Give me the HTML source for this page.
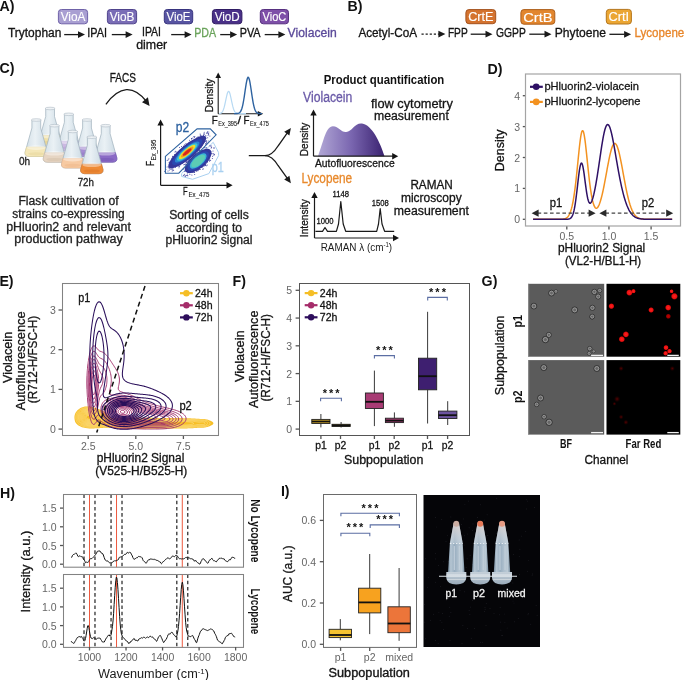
<!DOCTYPE html>
<html><head><meta charset="utf-8"><style>
html,body{margin:0;padding:0;background:#fff;}
svg{display:block;font-family:"Liberation Sans", sans-serif;will-change:transform;}
</style></head><body>
<svg width="685" height="680" viewBox="0 0 685 680">
<rect width="685" height="680" fill="#fff"/>
<text x="-0.60" y="11.10" font-size="14.2" text-anchor="start" fill="#111" font-weight="bold">A)</text>
<rect x="58.40" y="9.50" width="29.20" height="14.30" fill="#a99fd2" stroke="#6f62a8" stroke-width="1" rx="3"/>
<text x="73.00" y="21.20" font-size="12.5" text-anchor="middle" fill="#fff" stroke="#fff" stroke-width="0.15" textLength="24.70" lengthAdjust="spacingAndGlyphs">VioA</text>
<rect x="107.40" y="9.50" width="29.20" height="14.30" fill="#7a6db6" stroke="#4f438c" stroke-width="1" rx="3"/>
<text x="122.00" y="21.20" font-size="12.5" text-anchor="middle" fill="#fff" stroke="#fff" stroke-width="0.15" textLength="24.70" lengthAdjust="spacingAndGlyphs">VioB</text>
<rect x="164.30" y="9.50" width="28.40" height="14.30" fill="#5754a2" stroke="#37337e" stroke-width="1" rx="3"/>
<text x="178.50" y="21.20" font-size="12.5" text-anchor="middle" fill="#fff" stroke="#fff" stroke-width="0.15" textLength="23.90" lengthAdjust="spacingAndGlyphs">VioE</text>
<rect x="212.40" y="9.50" width="29.50" height="14.30" fill="#4a3088" stroke="#2f1b63" stroke-width="1" rx="3"/>
<text x="227.15" y="21.20" font-size="12.5" text-anchor="middle" fill="#fff" stroke="#fff" stroke-width="0.15" textLength="25.00" lengthAdjust="spacingAndGlyphs">VioD</text>
<rect x="260.30" y="9.50" width="28.20" height="14.30" fill="#7e4fa8" stroke="#573080" stroke-width="1" rx="3"/>
<text x="274.40" y="21.20" font-size="12.5" text-anchor="middle" fill="#fff" stroke="#fff" stroke-width="0.15" textLength="23.70" lengthAdjust="spacingAndGlyphs">VioC</text>
<text x="8.00" y="36.60" font-size="12" text-anchor="start" fill="#141414" stroke="#141414" stroke-width="0.3" textLength="53.30" lengthAdjust="spacingAndGlyphs">Trytophan</text>
<line x1="64.20" y1="34.60" x2="78.50" y2="34.60" stroke="#1a1a1a" stroke-width="1.3"/>
<path d="M85.00,34.60 L78.00,31.20 L78.00,38.00 Z" fill="#1a1a1a" stroke="none" stroke-width="1"/>
<text x="87.30" y="36.60" font-size="12" text-anchor="start" fill="#141414" stroke="#141414" stroke-width="0.3" textLength="19.70" lengthAdjust="spacingAndGlyphs">IPAI</text>
<line x1="111.80" y1="34.60" x2="126.10" y2="34.60" stroke="#1a1a1a" stroke-width="1.3"/>
<path d="M132.60,34.60 L125.60,31.20 L125.60,38.00 Z" fill="#1a1a1a" stroke="none" stroke-width="1"/>
<text x="151.50" y="35.80" font-size="12" text-anchor="middle" fill="#141414" stroke="#141414" stroke-width="0.3" textLength="19.00" lengthAdjust="spacingAndGlyphs">IPAI</text>
<text x="151.70" y="48.90" font-size="12" text-anchor="middle" fill="#141414" stroke="#141414" stroke-width="0.3" textLength="31.00" lengthAdjust="spacingAndGlyphs">dimer</text>
<line x1="171.20" y1="34.60" x2="185.10" y2="34.60" stroke="#1a1a1a" stroke-width="1.3"/>
<path d="M191.60,34.60 L184.60,31.20 L184.60,38.00 Z" fill="#1a1a1a" stroke="none" stroke-width="1"/>
<text x="194.20" y="36.60" font-size="12" text-anchor="start" fill="#6aa35b" stroke="#6aa35b" stroke-width="0.3" textLength="21.90" lengthAdjust="spacingAndGlyphs">PDA</text>
<line x1="220.20" y1="34.60" x2="230.60" y2="34.60" stroke="#1a1a1a" stroke-width="1.3"/>
<path d="M237.10,34.60 L230.10,31.20 L230.10,38.00 Z" fill="#1a1a1a" stroke="none" stroke-width="1"/>
<text x="239.70" y="36.60" font-size="12" text-anchor="start" fill="#141414" stroke="#141414" stroke-width="0.3" textLength="20.90" lengthAdjust="spacingAndGlyphs">PVA</text>
<line x1="264.70" y1="34.60" x2="278.90" y2="34.60" stroke="#1a1a1a" stroke-width="1.3"/>
<path d="M285.40,34.60 L278.40,31.20 L278.40,38.00 Z" fill="#1a1a1a" stroke="none" stroke-width="1"/>
<text x="287.60" y="36.60" font-size="12" text-anchor="start" fill="#5b4a9a" stroke="#5b4a9a" stroke-width="0.3" textLength="49.10" lengthAdjust="spacingAndGlyphs">Violacein</text>
<text x="347.60" y="10.90" font-size="14.2" text-anchor="start" fill="#111" font-weight="bold">B)</text>
<rect x="465.90" y="9.60" width="29.80" height="14.10" fill="#d4732f" stroke="#a4521e" stroke-width="1" rx="3"/>
<text x="480.80" y="21.10" font-size="12.5" text-anchor="middle" fill="#fff" stroke="#fff" stroke-width="0.15" textLength="25.30" lengthAdjust="spacingAndGlyphs">CrtE</text>
<rect x="520.90" y="9.60" width="33.90" height="14.60" fill="#e2862e" stroke="#ad5f1c" stroke-width="1" rx="3"/>
<text x="537.85" y="21.60" font-size="12.5" text-anchor="middle" fill="#fff" stroke="#fff" stroke-width="0.15" textLength="29.40" lengthAdjust="spacingAndGlyphs">CrtB</text>
<rect x="606.30" y="9.40" width="25.10" height="14.60" fill="#eba633" stroke="#b5761c" stroke-width="1" rx="3"/>
<text x="618.85" y="21.40" font-size="12.5" text-anchor="middle" fill="#fff" stroke="#fff" stroke-width="0.15" textLength="20.60" lengthAdjust="spacingAndGlyphs">CrtI</text>
<text x="358.40" y="36.60" font-size="12" text-anchor="start" fill="#141414" stroke="#141414" stroke-width="0.3" textLength="58.70" lengthAdjust="spacingAndGlyphs">Acetyl-CoA</text>
<line x1="421.50" y1="34.10" x2="438.90" y2="34.10" stroke="#1a1a1a" stroke-width="1.3" stroke-dasharray="2.2,1.9"/>
<path d="M445.40,34.10 L438.40,30.70 L438.40,37.50 Z" fill="#1a1a1a" stroke="none" stroke-width="1"/>
<text x="447.90" y="36.60" font-size="12" text-anchor="start" fill="#141414" stroke="#141414" stroke-width="0.3" textLength="19.80" lengthAdjust="spacingAndGlyphs">FPP</text>
<line x1="470.70" y1="34.20" x2="486.00" y2="34.20" stroke="#1a1a1a" stroke-width="1.3"/>
<path d="M492.50,34.20 L485.50,30.80 L485.50,37.60 Z" fill="#1a1a1a" stroke="none" stroke-width="1"/>
<text x="496.00" y="36.60" font-size="12" text-anchor="start" fill="#141414" stroke="#141414" stroke-width="0.3" textLength="29.80" lengthAdjust="spacingAndGlyphs">GGPP</text>
<line x1="529.30" y1="34.20" x2="545.00" y2="34.20" stroke="#1a1a1a" stroke-width="1.3"/>
<path d="M551.50,34.20 L544.50,30.80 L544.50,37.60 Z" fill="#1a1a1a" stroke="none" stroke-width="1"/>
<text x="554.80" y="36.60" font-size="12" text-anchor="start" fill="#141414" stroke="#141414" stroke-width="0.3" textLength="51.10" lengthAdjust="spacingAndGlyphs">Phytoene</text>
<line x1="609.40" y1="34.30" x2="624.60" y2="34.30" stroke="#1a1a1a" stroke-width="1.3"/>
<path d="M631.10,34.30 L624.10,30.90 L624.10,37.70 Z" fill="#1a1a1a" stroke="none" stroke-width="1"/>
<text x="634.50" y="36.60" font-size="12" text-anchor="start" fill="#e8862a" stroke="#e8862a" stroke-width="0.3" textLength="49.80" lengthAdjust="spacingAndGlyphs">Lycopene</text>
<text x="-0.60" y="73.40" font-size="14.2" text-anchor="start" fill="#111" font-weight="bold">C)</text>
<defs><linearGradient id="glass" x1="0" x2="1" y1="0" y2="0"><stop offset="0" stop-color="#d2dfe7"/><stop offset="0.45" stop-color="#eaf1f5"/><stop offset="1" stop-color="#c9d8e2"/></linearGradient><linearGradient id="vgrad" x1="0" x2="1" y1="0" y2="0"><stop offset="0" stop-color="#b2a8d6"/><stop offset="0.5" stop-color="#7a66b0"/><stop offset="1" stop-color="#3a2270"/></linearGradient></defs>
<path d="M45.70,108.50 L45.70,116.50 L38.90,140.80 Q38.40,144.80 42.90,145.00 L57.30,145.00 Q61.80,144.80 61.30,140.80 L54.50,116.50 L54.50,108.50 Z" fill="url(#glass)" stroke="#9fb0bc" stroke-width="0.7"/>
<path d="M40.38,135.50 L38.90,140.80 Q38.40,144.80 42.90,145.00 L57.30,145.00 Q61.80,144.80 61.30,140.80 L59.82,135.50 Z" fill="#f1e1a8" stroke="#e0cc88" stroke-width="0.6"/>
<ellipse cx="50.10" cy="136.10" rx="9.52" ry="2.3" fill="#ffffff" opacity="0.4"/>
<ellipse cx="50.10" cy="142.30" rx="8.20" ry="1.6" fill="#e0cc88" opacity="0.5"/>
<ellipse cx="50.10" cy="108.50" rx="5.00" ry="1.3" fill="#eef2f5" stroke="#aebbc4" stroke-width="0.6"/>
<path d="M64.40,114.30 L64.40,122.30 L57.60,146.60 Q57.10,150.60 61.60,150.80 L76.00,150.80 Q80.50,150.60 80.00,146.60 L73.20,122.30 L73.20,114.30 Z" fill="url(#glass)" stroke="#9fb0bc" stroke-width="0.7"/>
<path d="M59.08,141.30 L57.60,146.60 Q57.10,150.60 61.60,150.80 L76.00,150.80 Q80.50,150.60 80.00,146.60 L78.52,141.30 Z" fill="#cbb8e2" stroke="#b6a0d6" stroke-width="0.6"/>
<ellipse cx="68.80" cy="141.90" rx="9.52" ry="2.3" fill="#ffffff" opacity="0.4"/>
<ellipse cx="68.80" cy="148.10" rx="8.20" ry="1.6" fill="#b6a0d6" opacity="0.5"/>
<ellipse cx="68.80" cy="114.30" rx="5.00" ry="1.3" fill="#eef2f5" stroke="#aebbc4" stroke-width="0.6"/>
<path d="M31.90,120.00 L31.90,128.00 L25.10,152.30 Q24.60,156.30 29.10,156.50 L43.50,156.50 Q48.00,156.30 47.50,152.30 L40.70,128.00 L40.70,120.00 Z" fill="url(#glass)" stroke="#9fb0bc" stroke-width="0.7"/>
<path d="M26.58,147.00 L25.10,152.30 Q24.60,156.30 29.10,156.50 L43.50,156.50 Q48.00,156.30 47.50,152.30 L46.02,147.00 Z" fill="#f4e7b8" stroke="#e6d59a" stroke-width="0.6"/>
<ellipse cx="36.30" cy="147.60" rx="9.52" ry="2.3" fill="#ffffff" opacity="0.4"/>
<ellipse cx="36.30" cy="153.80" rx="8.20" ry="1.6" fill="#e6d59a" opacity="0.5"/>
<ellipse cx="36.30" cy="120.00" rx="5.00" ry="1.3" fill="#eef2f5" stroke="#aebbc4" stroke-width="0.6"/>
<path d="M82.60,120.00 L82.60,128.00 L75.80,152.30 Q75.30,156.30 79.80,156.50 L94.20,156.50 Q98.70,156.30 98.20,152.30 L91.40,128.00 L91.40,120.00 Z" fill="url(#glass)" stroke="#9fb0bc" stroke-width="0.7"/>
<path d="M77.28,147.00 L75.80,152.30 Q75.30,156.30 79.80,156.50 L94.20,156.50 Q98.70,156.30 98.20,152.30 L96.72,147.00 Z" fill="#a58dd2" stroke="#9078c4" stroke-width="0.6"/>
<ellipse cx="87.00" cy="147.60" rx="9.52" ry="2.3" fill="#ffffff" opacity="0.4"/>
<ellipse cx="87.00" cy="153.80" rx="8.20" ry="1.6" fill="#9078c4" opacity="0.5"/>
<ellipse cx="87.00" cy="120.00" rx="5.00" ry="1.3" fill="#eef2f5" stroke="#aebbc4" stroke-width="0.6"/>
<path d="M50.10,125.70 L50.10,133.70 L43.30,158.00 Q42.80,162.00 47.30,162.20 L61.70,162.20 Q66.20,162.00 65.70,158.00 L58.90,133.70 L58.90,125.70 Z" fill="url(#glass)" stroke="#9fb0bc" stroke-width="0.7"/>
<path d="M44.78,152.70 L43.30,158.00 Q42.80,162.00 47.30,162.20 L61.70,162.20 Q66.20,162.00 65.70,158.00 L64.22,152.70 Z" fill="#e6d5c3" stroke="#d3bfa8" stroke-width="0.6"/>
<ellipse cx="54.50" cy="153.30" rx="9.52" ry="2.3" fill="#ffffff" opacity="0.4"/>
<ellipse cx="54.50" cy="159.50" rx="8.20" ry="1.6" fill="#d3bfa8" opacity="0.5"/>
<ellipse cx="54.50" cy="125.70" rx="5.00" ry="1.3" fill="#eef2f5" stroke="#aebbc4" stroke-width="0.6"/>
<path d="M101.30,125.70 L101.30,133.70 L94.50,158.00 Q94.00,162.00 98.50,162.20 L112.90,162.20 Q117.40,162.00 116.90,158.00 L110.10,133.70 L110.10,125.70 Z" fill="url(#glass)" stroke="#9fb0bc" stroke-width="0.7"/>
<path d="M95.98,152.70 L94.50,158.00 Q94.00,162.00 98.50,162.20 L112.90,162.20 Q117.40,162.00 116.90,158.00 L115.42,152.70 Z" fill="#8b6bc6" stroke="#7456b4" stroke-width="0.6"/>
<ellipse cx="105.70" cy="153.30" rx="9.52" ry="2.3" fill="#ffffff" opacity="0.4"/>
<ellipse cx="105.70" cy="159.50" rx="8.20" ry="1.6" fill="#7456b4" opacity="0.5"/>
<ellipse cx="105.70" cy="125.70" rx="5.00" ry="1.3" fill="#eef2f5" stroke="#aebbc4" stroke-width="0.6"/>
<path d="M68.30,131.50 L68.30,139.50 L61.50,163.80 Q61.00,167.80 65.50,168.00 L79.90,168.00 Q84.40,167.80 83.90,163.80 L77.10,139.50 L77.10,131.50 Z" fill="url(#glass)" stroke="#9fb0bc" stroke-width="0.7"/>
<path d="M62.98,158.50 L61.50,163.80 Q61.00,167.80 65.50,168.00 L79.90,168.00 Q84.40,167.80 83.90,163.80 L82.42,158.50 Z" fill="#f7caa2" stroke="#edb588" stroke-width="0.6"/>
<ellipse cx="72.70" cy="159.10" rx="9.52" ry="2.3" fill="#ffffff" opacity="0.4"/>
<ellipse cx="72.70" cy="165.30" rx="8.20" ry="1.6" fill="#edb588" opacity="0.5"/>
<ellipse cx="72.70" cy="131.50" rx="5.00" ry="1.3" fill="#eef2f5" stroke="#aebbc4" stroke-width="0.6"/>
<path d="M87.40,137.20 L87.40,145.20 L80.60,169.50 Q80.10,173.50 84.60,173.70 L99.00,173.70 Q103.50,173.50 103.00,169.50 L96.20,145.20 L96.20,137.20 Z" fill="url(#glass)" stroke="#9fb0bc" stroke-width="0.7"/>
<path d="M82.08,164.20 L80.60,169.50 Q80.10,173.50 84.60,173.70 L99.00,173.70 Q103.50,173.50 103.00,169.50 L101.52,164.20 Z" fill="#ef8b36" stroke="#dc7424" stroke-width="0.6"/>
<ellipse cx="91.80" cy="164.80" rx="9.52" ry="2.3" fill="#ffffff" opacity="0.4"/>
<ellipse cx="91.80" cy="171.00" rx="8.20" ry="1.6" fill="#dc7424" opacity="0.5"/>
<ellipse cx="91.80" cy="137.20" rx="5.00" ry="1.3" fill="#eef2f5" stroke="#aebbc4" stroke-width="0.6"/>
<text x="24.60" y="164.60" font-size="11" text-anchor="middle" fill="#222" stroke="#222" stroke-width="0.3" textLength="11.20" lengthAdjust="spacingAndGlyphs">0h</text>
<text x="85.80" y="186.40" font-size="11" text-anchor="middle" fill="#222" stroke="#222" stroke-width="0.3" textLength="16.30" lengthAdjust="spacingAndGlyphs">72h</text>
<text x="122.80" y="82.00" font-size="12" text-anchor="middle" fill="#141414" stroke="#141414" stroke-width="0.3" textLength="26.20" lengthAdjust="spacingAndGlyphs">FACS</text>
<path d="M105.9,104.3 Q126.5,76.5 146.5,101.5" fill="none" stroke="#1a1a1a" stroke-width="1.3"/>
<path d="M149.6,106 L142,102.3 L147.9,97.2 Z" fill="#1a1a1a" stroke="none" stroke-width="1"/>
<line x1="160.60" y1="185.30" x2="228.00" y2="185.30" stroke="#1a1a1a" stroke-width="1.2"/>
<path d="M232.6,185.3 L226.5,182.1 L226.5,188.5 Z" fill="#141414" stroke="none" stroke-width="1"/>
<line x1="160.60" y1="185.30" x2="160.60" y2="125.00" stroke="#1a1a1a" stroke-width="1.2"/>
<path d="M160.6,119.4 L157.4,125.5 L163.8,125.5 Z" fill="#141414" stroke="none" stroke-width="1"/>
<path d="M181.60,173.60 L213.20,142.30 L218.60,152.60 L218.60,155.60 L208.90,173.60 L192.50,179.30 L181.60,176.40 Z" fill="none" stroke="#a9d0f0" stroke-width="1.0"/>
<circle cx="175.2" cy="156.0" r="0.5" fill="#3b3d9c"/>
<circle cx="178.4" cy="165.9" r="0.5" fill="#3b3d9c"/>
<circle cx="205.6" cy="138.6" r="0.5" fill="#3b3d9c"/>
<circle cx="201.9" cy="143.6" r="0.5" fill="#3b3d9c"/>
<circle cx="205.8" cy="143.6" r="0.5" fill="#3b3d9c"/>
<circle cx="203.7" cy="135.2" r="0.5" fill="#3b3d9c"/>
<circle cx="203.4" cy="137.2" r="0.5" fill="#3b3d9c"/>
<circle cx="186.9" cy="162.4" r="0.5" fill="#3b3d9c"/>
<circle cx="185.1" cy="160.7" r="0.5" fill="#3b3d9c"/>
<circle cx="187.0" cy="166.7" r="0.5" fill="#3b3d9c"/>
<circle cx="186.0" cy="168.9" r="0.5" fill="#3b3d9c"/>
<circle cx="194.8" cy="152.7" r="0.5" fill="#3b3d9c"/>
<circle cx="197.8" cy="169.8" r="0.5" fill="#3b3d9c"/>
<circle cx="198.9" cy="169.2" r="0.5" fill="#3b3d9c"/>
<circle cx="203.9" cy="166.6" r="0.5" fill="#3b3d9c"/>
<circle cx="196.9" cy="137.7" r="0.5" fill="#3b3d9c"/>
<circle cx="208.6" cy="150.9" r="0.5" fill="#3b3d9c"/>
<circle cx="183.9" cy="146.5" r="0.5" fill="#3b3d9c"/>
<circle cx="205.4" cy="138.8" r="0.5" fill="#3b3d9c"/>
<circle cx="183.4" cy="169.0" r="0.5" fill="#3b3d9c"/>
<circle cx="190.4" cy="159.6" r="0.5" fill="#3b3d9c"/>
<circle cx="187.4" cy="173.0" r="0.5" fill="#3b3d9c"/>
<circle cx="184.0" cy="175.3" r="0.5" fill="#3b3d9c"/>
<circle cx="191.3" cy="159.3" r="0.5" fill="#3b3d9c"/>
<circle cx="199.6" cy="148.7" r="0.5" fill="#3b3d9c"/>
<circle cx="175.4" cy="154.8" r="0.5" fill="#3b3d9c"/>
<circle cx="199.4" cy="149.1" r="0.5" fill="#3b3d9c"/>
<circle cx="185.4" cy="146.3" r="0.5" fill="#3b3d9c"/>
<circle cx="177.2" cy="165.2" r="0.5" fill="#3b3d9c"/>
<circle cx="189.7" cy="171.0" r="0.5" fill="#3b3d9c"/>
<circle cx="191.7" cy="138.6" r="0.5" fill="#3b3d9c"/>
<circle cx="190.9" cy="171.7" r="0.5" fill="#3b3d9c"/>
<circle cx="206.9" cy="132.7" r="0.5" fill="#3b3d9c"/>
<circle cx="192.6" cy="154.9" r="0.5" fill="#3b3d9c"/>
<circle cx="170.0" cy="161.9" r="0.5" fill="#3b3d9c"/>
<circle cx="175.8" cy="165.1" r="0.5" fill="#3b3d9c"/>
<circle cx="203.5" cy="135.7" r="0.5" fill="#3b3d9c"/>
<circle cx="186.0" cy="165.1" r="0.5" fill="#3b3d9c"/>
<circle cx="204.1" cy="151.1" r="0.5" fill="#3b3d9c"/>
<circle cx="197.1" cy="150.9" r="0.5" fill="#3b3d9c"/>
<circle cx="203.2" cy="143.6" r="0.5" fill="#3b3d9c"/>
<circle cx="209.2" cy="154.7" r="0.5" fill="#3b3d9c"/>
<circle cx="182.0" cy="162.7" r="0.5" fill="#3b3d9c"/>
<circle cx="198.9" cy="148.1" r="0.5" fill="#3b3d9c"/>
<circle cx="204.3" cy="138.9" r="0.5" fill="#3b3d9c"/>
<circle cx="209.8" cy="159.0" r="0.5" fill="#3b3d9c"/>
<circle cx="179.3" cy="164.7" r="0.5" fill="#3b3d9c"/>
<circle cx="208.4" cy="133.8" r="0.5" fill="#3b3d9c"/>
<circle cx="204.5" cy="141.9" r="0.5" fill="#3b3d9c"/>
<circle cx="189.6" cy="158.0" r="0.5" fill="#3b3d9c"/>
<circle cx="209.2" cy="152.6" r="0.5" fill="#3b3d9c"/>
<circle cx="209.4" cy="158.9" r="0.5" fill="#3b3d9c"/>
<circle cx="171.7" cy="163.7" r="0.5" fill="#3b3d9c"/>
<circle cx="188.0" cy="159.0" r="0.5" fill="#3b3d9c"/>
<circle cx="199.0" cy="149.1" r="0.5" fill="#3b3d9c"/>
<circle cx="195.7" cy="153.7" r="0.5" fill="#3b3d9c"/>
<circle cx="189.7" cy="142.8" r="0.5" fill="#3b3d9c"/>
<circle cx="197.9" cy="150.5" r="0.5" fill="#3b3d9c"/>
<circle cx="205.5" cy="165.3" r="0.5" fill="#3b3d9c"/>
<circle cx="204.3" cy="139.1" r="0.5" fill="#3b3d9c"/>
<circle cx="190.1" cy="157.3" r="0.5" fill="#3b3d9c"/>
<circle cx="185.6" cy="175.9" r="0.5" fill="#3b3d9c"/>
<circle cx="211.6" cy="145.9" r="0.5" fill="#3b3d9c"/>
<circle cx="193.2" cy="154.5" r="0.5" fill="#3b3d9c"/>
<circle cx="173.4" cy="158.3" r="0.5" fill="#3b3d9c"/>
<circle cx="184.6" cy="174.3" r="0.5" fill="#3b3d9c"/>
<circle cx="213.2" cy="153.6" r="0.5" fill="#3b3d9c"/>
<circle cx="195.5" cy="151.8" r="0.5" fill="#3b3d9c"/>
<circle cx="207.6" cy="161.3" r="0.5" fill="#3b3d9c"/>
<circle cx="197.6" cy="153.2" r="0.5" fill="#3b3d9c"/>
<circle cx="191.5" cy="172.1" r="0.5" fill="#3b3d9c"/>
<circle cx="209.4" cy="160.7" r="0.5" fill="#3b3d9c"/>
<circle cx="197.9" cy="138.8" r="0.5" fill="#3b3d9c"/>
<circle cx="199.4" cy="152.6" r="0.5" fill="#3b3d9c"/>
<circle cx="194.6" cy="172.4" r="0.5" fill="#3b3d9c"/>
<circle cx="202.9" cy="139.5" r="0.5" fill="#3b3d9c"/>
<circle cx="184.5" cy="171.2" r="0.5" fill="#3b3d9c"/>
<circle cx="203.0" cy="150.2" r="0.5" fill="#3b3d9c"/>
<circle cx="202.2" cy="165.9" r="0.5" fill="#3b3d9c"/>
<circle cx="171.6" cy="161.1" r="0.5" fill="#3b3d9c"/>
<circle cx="201.8" cy="145.8" r="0.5" fill="#3b3d9c"/>
<circle cx="188.5" cy="171.8" r="0.5" fill="#3b3d9c"/>
<circle cx="187.8" cy="175.7" r="0.5" fill="#3b3d9c"/>
<circle cx="185.4" cy="170.2" r="0.5" fill="#3b3d9c"/>
<circle cx="174.5" cy="165.3" r="0.5" fill="#3b3d9c"/>
<circle cx="188.4" cy="144.1" r="0.5" fill="#3b3d9c"/>
<circle cx="180.3" cy="149.4" r="0.5" fill="#3b3d9c"/>
<circle cx="170.4" cy="165.2" r="0.5" fill="#3b3d9c"/>
<circle cx="206.5" cy="142.0" r="0.5" fill="#3b3d9c"/>
<circle cx="188.3" cy="158.7" r="0.5" fill="#3b3d9c"/>
<circle cx="185.2" cy="168.7" r="0.5" fill="#3b3d9c"/>
<circle cx="186.1" cy="175.6" r="0.5" fill="#3b3d9c"/>
<circle cx="185.8" cy="171.1" r="0.5" fill="#3b3d9c"/>
<circle cx="185.7" cy="169.9" r="0.5" fill="#3b3d9c"/>
<circle cx="175.0" cy="151.9" r="0.5" fill="#3b3d9c"/>
<circle cx="203.2" cy="168.7" r="0.5" fill="#3b3d9c"/>
<circle cx="194.8" cy="136.4" r="0.5" fill="#3b3d9c"/>
<circle cx="174.1" cy="165.6" r="0.5" fill="#3b3d9c"/>
<circle cx="203.2" cy="142.0" r="0.5" fill="#3b3d9c"/>
<circle cx="206.1" cy="147.5" r="0.5" fill="#3b3d9c"/>
<circle cx="172.5" cy="156.2" r="0.5" fill="#3b3d9c"/>
<circle cx="207.5" cy="132.8" r="0.5" fill="#3b3d9c"/>
<circle cx="172.2" cy="171.1" r="0.5" fill="#3b3d9c"/>
<circle cx="193.9" cy="136.6" r="0.5" fill="#3b3d9c"/>
<circle cx="169.6" cy="165.9" r="0.5" fill="#3b3d9c"/>
<circle cx="184.0" cy="161.5" r="0.5" fill="#3b3d9c"/>
<circle cx="187.2" cy="167.9" r="0.5" fill="#3b3d9c"/>
<circle cx="182.9" cy="161.9" r="0.5" fill="#3b3d9c"/>
<circle cx="211.2" cy="153.4" r="0.5" fill="#3b3d9c"/>
<circle cx="211.1" cy="147.9" r="0.5" fill="#3b3d9c"/>
<circle cx="203.7" cy="140.1" r="0.5" fill="#3b3d9c"/>
<circle cx="208.8" cy="158.0" r="0.5" fill="#3b3d9c"/>
<circle cx="191.7" cy="138.5" r="0.5" fill="#3b3d9c"/>
<circle cx="198.9" cy="138.5" r="0.5" fill="#3b3d9c"/>
<circle cx="206.4" cy="141.0" r="0.5" fill="#3b3d9c"/>
<circle cx="171.8" cy="169.2" r="0.5" fill="#3b3d9c"/>
<circle cx="168.2" cy="159.8" r="0.5" fill="#3b3d9c"/>
<circle cx="201.4" cy="151.8" r="0.5" fill="#3b3d9c"/>
<circle cx="168.0" cy="171.1" r="0.5" fill="#3b3d9c"/>
<circle cx="201.6" cy="136.0" r="0.5" fill="#3b3d9c"/>
<circle cx="171.4" cy="164.0" r="0.5" fill="#3b3d9c"/>
<circle cx="198.4" cy="148.9" r="0.5" fill="#3b3d9c"/>
<circle cx="184.7" cy="161.1" r="0.5" fill="#3b3d9c"/>
<circle cx="186.8" cy="161.9" r="0.5" fill="#3b3d9c"/>
<circle cx="181.3" cy="163.1" r="0.5" fill="#3b3d9c"/>
<circle cx="203.5" cy="139.1" r="0.5" fill="#3b3d9c"/>
<circle cx="207.3" cy="162.2" r="0.5" fill="#3b3d9c"/>
<circle cx="208.2" cy="141.1" r="0.5" fill="#3b3d9c"/>
<circle cx="186.7" cy="171.3" r="0.5" fill="#3b3d9c"/>
<circle cx="186.6" cy="170.7" r="0.5" fill="#3b3d9c"/>
<circle cx="194.7" cy="174.4" r="0.5" fill="#3b3d9c"/>
<circle cx="185.4" cy="164.1" r="0.5" fill="#3b3d9c"/>
<circle cx="204.2" cy="140.5" r="0.5" fill="#3b3d9c"/>
<circle cx="182.7" cy="148.4" r="0.5" fill="#3b3d9c"/>
<circle cx="202.5" cy="143.0" r="0.5" fill="#3b3d9c"/>
<circle cx="186.1" cy="161.3" r="0.5" fill="#3b3d9c"/>
<circle cx="186.6" cy="159.9" r="0.5" fill="#3b3d9c"/>
<circle cx="173.8" cy="165.7" r="0.5" fill="#3b3d9c"/>
<circle cx="208.8" cy="132.0" r="0.5" fill="#3b3d9c"/>
<circle cx="202.0" cy="138.0" r="0.5" fill="#3b3d9c"/>
<circle cx="203.9" cy="138.0" r="0.5" fill="#3b3d9c"/>
<circle cx="169.5" cy="166.7" r="0.5" fill="#3b3d9c"/>
<circle cx="205.2" cy="137.2" r="0.5" fill="#3b3d9c"/>
<circle cx="177.0" cy="164.9" r="0.5" fill="#3b3d9c"/>
<circle cx="185.5" cy="160.3" r="0.5" fill="#3b3d9c"/>
<circle cx="168.1" cy="166.4" r="0.5" fill="#3b3d9c"/>
<circle cx="190.4" cy="157.7" r="0.5" fill="#3b3d9c"/>
<circle cx="196.9" cy="170.1" r="0.5" fill="#3b3d9c"/>
<circle cx="192.5" cy="157.8" r="0.5" fill="#3b3d9c"/>
<circle cx="200.0" cy="152.5" r="0.5" fill="#3b3d9c"/>
<circle cx="191.9" cy="156.4" r="0.5" fill="#3b3d9c"/>
<circle cx="187.3" cy="169.3" r="0.5" fill="#3b3d9c"/>
<circle cx="189.6" cy="140.3" r="0.5" fill="#3b3d9c"/>
<circle cx="205.0" cy="148.9" r="0.5" fill="#3b3d9c"/>
<circle cx="205.0" cy="165.5" r="0.5" fill="#3b3d9c"/>
<circle cx="180.1" cy="163.6" r="0.5" fill="#3b3d9c"/>
<circle cx="165.5" cy="166.5" r="0.5" fill="#3b3d9c"/>
<circle cx="188.2" cy="160.5" r="0.5" fill="#3b3d9c"/>
<circle cx="188.2" cy="144.2" r="0.5" fill="#3b3d9c"/>
<circle cx="185.4" cy="170.1" r="0.5" fill="#3b3d9c"/>
<circle cx="193.4" cy="157.1" r="0.5" fill="#3b3d9c"/>
<circle cx="189.3" cy="157.5" r="0.5" fill="#3b3d9c"/>
<circle cx="193.4" cy="156.8" r="0.5" fill="#3b3d9c"/>
<circle cx="192.5" cy="172.4" r="0.5" fill="#3b3d9c"/>
<circle cx="184.7" cy="144.7" r="0.5" fill="#3b3d9c"/>
<circle cx="212.0" cy="153.8" r="0.5" fill="#3b3d9c"/>
<circle cx="182.7" cy="148.0" r="0.5" fill="#3b3d9c"/>
<circle cx="205.9" cy="137.0" r="0.5" fill="#3b3d9c"/>
<circle cx="176.3" cy="154.3" r="0.5" fill="#3b3d9c"/>
<circle cx="199.8" cy="169.6" r="0.5" fill="#3b3d9c"/>
<circle cx="171.0" cy="167.4" r="0.5" fill="#3b3d9c"/>
<circle cx="199.1" cy="152.1" r="0.5" fill="#3b3d9c"/>
<circle cx="214.0" cy="148.6" r="0.5" fill="#3b3d9c"/>
<circle cx="206.9" cy="133.5" r="0.5" fill="#3b3d9c"/>
<circle cx="194.9" cy="153.0" r="0.5" fill="#3b3d9c"/>
<circle cx="186.9" cy="166.7" r="0.5" fill="#3b3d9c"/>
<circle cx="203.2" cy="136.0" r="0.5" fill="#3b3d9c"/>
<circle cx="165.9" cy="169.4" r="0.5" fill="#3b3d9c"/>
<circle cx="205.0" cy="165.6" r="0.5" fill="#3b3d9c"/>
<circle cx="210.8" cy="151.5" r="0.5" fill="#3b3d9c"/>
<circle cx="171.6" cy="167.7" r="0.5" fill="#3b3d9c"/>
<circle cx="181.7" cy="162.8" r="0.5" fill="#3b3d9c"/>
<circle cx="208.6" cy="134.2" r="0.5" fill="#3b3d9c"/>
<circle cx="212.6" cy="156.3" r="0.5" fill="#3b3d9c"/>
<circle cx="206.1" cy="148.0" r="0.5" fill="#3b3d9c"/>
<circle cx="176.6" cy="166.0" r="0.5" fill="#3b3d9c"/>
<circle cx="193.9" cy="172.4" r="0.5" fill="#3b3d9c"/>
<circle cx="203.7" cy="140.5" r="0.5" fill="#3b3d9c"/>
<circle cx="187.4" cy="161.8" r="0.5" fill="#3b3d9c"/>
<circle cx="201.3" cy="166.8" r="0.5" fill="#3b3d9c"/>
<circle cx="178.9" cy="164.4" r="0.5" fill="#3b3d9c"/>
<circle cx="198.5" cy="150.0" r="0.5" fill="#3b3d9c"/>
<circle cx="210.1" cy="146.3" r="0.5" fill="#3b3d9c"/>
<circle cx="207.7" cy="137.8" r="0.5" fill="#3b3d9c"/>
<circle cx="193.8" cy="155.5" r="0.5" fill="#3b3d9c"/>
<circle cx="209.9" cy="153.4" r="0.5" fill="#3b3d9c"/>
<circle cx="188.6" cy="170.7" r="0.5" fill="#3b3d9c"/>
<circle cx="182.2" cy="148.3" r="0.5" fill="#3b3d9c"/>
<circle cx="188.6" cy="162.2" r="0.5" fill="#3b3d9c"/>
<circle cx="175.5" cy="167.3" r="0.5" fill="#3b3d9c"/>
<circle cx="194.8" cy="152.8" r="0.5" fill="#3b3d9c"/>
<circle cx="205.1" cy="164.3" r="0.5" fill="#3b3d9c"/>
<circle cx="185.1" cy="176.2" r="0.5" fill="#3b3d9c"/>
<circle cx="202.4" cy="143.3" r="0.5" fill="#3b3d9c"/>
<circle cx="191.9" cy="155.4" r="0.5" fill="#3b3d9c"/>
<circle cx="198.3" cy="136.9" r="0.5" fill="#3b3d9c"/>
<circle cx="190.6" cy="172.3" r="0.5" fill="#3b3d9c"/>
<circle cx="181.8" cy="163.5" r="0.5" fill="#3b3d9c"/>
<circle cx="202.2" cy="137.8" r="0.5" fill="#3b3d9c"/>
<circle cx="171.9" cy="158.6" r="0.5" fill="#3b3d9c"/>
<circle cx="200.9" cy="167.0" r="0.5" fill="#3b3d9c"/>
<circle cx="172.5" cy="167.0" r="0.5" fill="#3b3d9c"/>
<circle cx="204.3" cy="147.5" r="0.5" fill="#3b3d9c"/>
<circle cx="179.9" cy="151.0" r="0.5" fill="#3b3d9c"/>
<circle cx="185.6" cy="167.1" r="0.5" fill="#3b3d9c"/>
<circle cx="200.6" cy="137.1" r="0.5" fill="#3b3d9c"/>
<circle cx="211.6" cy="147.4" r="0.5" fill="#3b3d9c"/>
<circle cx="198.9" cy="148.3" r="0.5" fill="#3b3d9c"/>
<circle cx="203.8" cy="134.7" r="0.5" fill="#3b3d9c"/>
<circle cx="194.4" cy="154.1" r="0.5" fill="#3b3d9c"/>
<circle cx="206.0" cy="138.4" r="0.5" fill="#3b3d9c"/>
<circle cx="205.6" cy="150.5" r="0.5" fill="#3b3d9c"/>
<circle cx="209.0" cy="157.9" r="0.5" fill="#3b3d9c"/>
<circle cx="176.8" cy="152.0" r="0.5" fill="#3b3d9c"/>
<circle cx="171.6" cy="163.9" r="0.5" fill="#3b3d9c"/>
<circle cx="204.5" cy="164.4" r="0.5" fill="#3b3d9c"/>
<circle cx="198.7" cy="168.2" r="0.5" fill="#3b3d9c"/>
<circle cx="168.9" cy="158.7" r="0.5" fill="#3b3d9c"/>
<circle cx="204.0" cy="165.3" r="0.5" fill="#3b3d9c"/>
<circle cx="175.6" cy="151.2" r="0.5" fill="#3b3d9c"/>
<circle cx="172.1" cy="164.7" r="0.5" fill="#3b3d9c"/>
<circle cx="202.2" cy="166.7" r="0.5" fill="#3b3d9c"/>
<circle cx="206.3" cy="165.8" r="0.5" fill="#3b3d9c"/>
<circle cx="174.6" cy="166.4" r="0.5" fill="#3b3d9c"/>
<circle cx="197.3" cy="153.7" r="0.5" fill="#3b3d9c"/>
<circle cx="206.1" cy="163.3" r="0.5" fill="#3b3d9c"/>
<circle cx="199.0" cy="152.4" r="0.5" fill="#3b3d9c"/>
<circle cx="184.5" cy="146.7" r="0.5" fill="#3b3d9c"/>
<circle cx="164.6" cy="171.2" r="0.5" fill="#3b3d9c"/>
<circle cx="175.3" cy="165.7" r="0.5" fill="#3b3d9c"/>
<circle cx="212.3" cy="158.4" r="0.5" fill="#3b3d9c"/>
<circle cx="202.2" cy="138.2" r="0.5" fill="#3b3d9c"/>
<circle cx="202.6" cy="141.8" r="0.5" fill="#3b3d9c"/>
<circle cx="200.1" cy="134.1" r="0.5" fill="#3b3d9c"/>
<circle cx="210.0" cy="145.6" r="0.5" fill="#3b3d9c"/>
<circle cx="200.1" cy="138.2" r="0.5" fill="#3b3d9c"/>
<circle cx="189.5" cy="161.6" r="0.5" fill="#3b3d9c"/>
<circle cx="182.4" cy="163.1" r="0.5" fill="#3b3d9c"/>
<circle cx="187.9" cy="158.6" r="0.5" fill="#3b3d9c"/>
<circle cx="207.2" cy="142.9" r="0.5" fill="#3b3d9c"/>
<circle cx="194.8" cy="170.5" r="0.5" fill="#3b3d9c"/>
<circle cx="187.5" cy="175.0" r="0.5" fill="#3b3d9c"/>
<circle cx="177.9" cy="165.8" r="0.5" fill="#3b3d9c"/>
<circle cx="194.3" cy="170.7" r="0.5" fill="#3b3d9c"/>
<circle cx="191.7" cy="171.0" r="0.5" fill="#3b3d9c"/>
<circle cx="213.0" cy="150.9" r="0.5" fill="#3b3d9c"/>
<circle cx="198.8" cy="138.8" r="0.5" fill="#3b3d9c"/>
<circle cx="200.6" cy="134.9" r="0.5" fill="#3b3d9c"/>
<circle cx="201.7" cy="137.8" r="0.5" fill="#3b3d9c"/>
<circle cx="191.8" cy="158.2" r="0.5" fill="#3b3d9c"/>
<circle cx="203.4" cy="138.6" r="0.5" fill="#3b3d9c"/>
<circle cx="183.8" cy="164.7" r="0.5" fill="#3b3d9c"/>
<circle cx="203.2" cy="164.7" r="0.5" fill="#3b3d9c"/>
<circle cx="207.5" cy="131.8" r="0.5" fill="#3b3d9c"/>
<circle cx="174.4" cy="166.1" r="0.5" fill="#3b3d9c"/>
<circle cx="201.2" cy="150.1" r="0.5" fill="#3b3d9c"/>
<circle cx="199.5" cy="150.3" r="0.5" fill="#3b3d9c"/>
<circle cx="196.6" cy="171.2" r="0.5" fill="#3b3d9c"/>
<circle cx="186.7" cy="144.5" r="0.5" fill="#3b3d9c"/>
<circle cx="183.8" cy="147.3" r="0.5" fill="#3b3d9c"/>
<circle cx="202.8" cy="140.5" r="0.5" fill="#3b3d9c"/>
<circle cx="203.0" cy="137.7" r="0.5" fill="#3b3d9c"/>
<circle cx="202.8" cy="169.3" r="0.5" fill="#3b3d9c"/>
<circle cx="172.0" cy="164.9" r="0.5" fill="#3b3d9c"/>
<circle cx="203.9" cy="165.2" r="0.5" fill="#3b3d9c"/>
<circle cx="174.5" cy="154.5" r="0.5" fill="#3b3d9c"/>
<circle cx="185.9" cy="161.9" r="0.5" fill="#3b3d9c"/>
<circle cx="186.3" cy="162.7" r="0.5" fill="#3b3d9c"/>
<circle cx="182.0" cy="148.3" r="0.5" fill="#3b3d9c"/>
<circle cx="191.5" cy="156.1" r="0.5" fill="#3b3d9c"/>
<circle cx="165.5" cy="165.2" r="0.5" fill="#3b3d9c"/>
<circle cx="203.9" cy="137.6" r="0.5" fill="#3b3d9c"/>
<circle cx="189.4" cy="143.0" r="0.5" fill="#3b3d9c"/>
<circle cx="214.5" cy="154.3" r="0.5" fill="#3b3d9c"/>
<circle cx="194.3" cy="137.4" r="0.5" fill="#3b3d9c"/>
<circle cx="199.3" cy="167.8" r="0.5" fill="#3b3d9c"/>
<circle cx="202.0" cy="138.3" r="0.5" fill="#3b3d9c"/>
<circle cx="191.9" cy="175.1" r="0.5" fill="#3b3d9c"/>
<circle cx="202.0" cy="166.9" r="0.5" fill="#3b3d9c"/>
<circle cx="214.0" cy="154.7" r="0.5" fill="#3b3d9c"/>
<circle cx="205.7" cy="164.4" r="0.5" fill="#3b3d9c"/>
<circle cx="195.1" cy="152.5" r="0.5" fill="#3b3d9c"/>
<circle cx="172.7" cy="156.8" r="0.5" fill="#3b3d9c"/>
<circle cx="183.3" cy="161.7" r="0.5" fill="#3b3d9c"/>
<circle cx="198.0" cy="168.9" r="0.5" fill="#3b3d9c"/>
<circle cx="165.9" cy="166.9" r="0.5" fill="#3b3d9c"/>
<circle cx="177.3" cy="164.8" r="0.5" fill="#3b3d9c"/>
<circle cx="205.7" cy="141.5" r="0.5" fill="#3b3d9c"/>
<circle cx="173.1" cy="168.9" r="0.5" fill="#3b3d9c"/>
<circle cx="201.7" cy="137.5" r="0.5" fill="#3b3d9c"/>
<circle cx="179.1" cy="165.7" r="0.5" fill="#3b3d9c"/>
<circle cx="208.7" cy="133.7" r="0.5" fill="#3b3d9c"/>
<circle cx="181.3" cy="149.4" r="0.5" fill="#3b3d9c"/>
<circle cx="197.4" cy="139.2" r="0.5" fill="#3b3d9c"/>
<circle cx="172.4" cy="170.0" r="0.5" fill="#3b3d9c"/>
<circle cx="208.3" cy="160.2" r="0.5" fill="#3b3d9c"/>
<circle cx="172.3" cy="157.7" r="0.5" fill="#3b3d9c"/>
<circle cx="188.0" cy="164.2" r="0.5" fill="#3b3d9c"/>
<circle cx="201.4" cy="146.9" r="0.5" fill="#3b3d9c"/>
<circle cx="201.3" cy="136.2" r="0.5" fill="#3b3d9c"/>
<circle cx="189.2" cy="142.3" r="0.5" fill="#3b3d9c"/>
<circle cx="208.6" cy="157.9" r="0.5" fill="#3b3d9c"/>
<circle cx="183.4" cy="175.2" r="0.5" fill="#3b3d9c"/>
<circle cx="173.6" cy="170.4" r="0.5" fill="#3b3d9c"/>
<circle cx="199.5" cy="150.8" r="0.5" fill="#3b3d9c"/>
<circle cx="195.7" cy="154.7" r="0.5" fill="#3b3d9c"/>
<circle cx="192.9" cy="138.1" r="0.5" fill="#3b3d9c"/>
<circle cx="176.6" cy="165.4" r="0.5" fill="#3b3d9c"/>
<circle cx="202.1" cy="145.2" r="0.5" fill="#3b3d9c"/>
<circle cx="200.3" cy="135.2" r="0.5" fill="#3b3d9c"/>
<circle cx="183.7" cy="146.1" r="0.5" fill="#3b3d9c"/>
<circle cx="206.4" cy="142.9" r="0.5" fill="#3b3d9c"/>
<circle cx="186.1" cy="164.5" r="0.5" fill="#3b3d9c"/>
<circle cx="170.3" cy="162.1" r="0.5" fill="#3b3d9c"/>
<circle cx="170.5" cy="169.1" r="0.5" fill="#3b3d9c"/>
<circle cx="173.7" cy="158.4" r="0.5" fill="#3b3d9c"/>
<circle cx="184.8" cy="146.4" r="0.5" fill="#3b3d9c"/>
<circle cx="207.4" cy="161.4" r="0.5" fill="#3b3d9c"/>
<circle cx="200.4" cy="146.2" r="0.5" fill="#3b3d9c"/>
<circle cx="174.2" cy="165.5" r="0.5" fill="#3b3d9c"/>
<circle cx="174.6" cy="157.1" r="0.5" fill="#3b3d9c"/>
<circle cx="186.0" cy="143.5" r="0.5" fill="#3b3d9c"/>
<circle cx="172.0" cy="164.6" r="0.5" fill="#3b3d9c"/>
<circle cx="206.2" cy="144.4" r="0.5" fill="#3b3d9c"/>
<circle cx="190.3" cy="155.5" r="0.5" fill="#3b3d9c"/>
<circle cx="208.3" cy="151.3" r="0.5" fill="#3b3d9c"/>
<circle cx="204.2" cy="132.2" r="0.5" fill="#3b3d9c"/>
<circle cx="203.9" cy="133.8" r="0.5" fill="#3b3d9c"/>
<circle cx="183.9" cy="146.8" r="0.5" fill="#3b3d9c"/>
<circle cx="188.9" cy="161.1" r="0.5" fill="#3b3d9c"/>
<circle cx="187.7" cy="170.0" r="0.5" fill="#3b3d9c"/>
<circle cx="201.5" cy="166.5" r="0.5" fill="#3b3d9c"/>
<circle cx="204.1" cy="139.7" r="0.5" fill="#3b3d9c"/>
<circle cx="200.1" cy="138.3" r="0.5" fill="#3b3d9c"/>
<circle cx="210.6" cy="160.5" r="0.5" fill="#3b3d9c"/>
<circle cx="187.2" cy="169.0" r="0.5" fill="#3b3d9c"/>
<circle cx="202.9" cy="150.5" r="0.5" fill="#3b3d9c"/>
<circle cx="197.9" cy="137.0" r="0.5" fill="#3b3d9c"/>
<circle cx="167.2" cy="160.6" r="0.5" fill="#3b3d9c"/>
<circle cx="190.2" cy="159.5" r="0.5" fill="#3b3d9c"/>
<circle cx="194.0" cy="172.3" r="0.5" fill="#3b3d9c"/>
<circle cx="207.5" cy="161.2" r="0.5" fill="#3b3d9c"/>
<circle cx="198.9" cy="153.0" r="0.5" fill="#3b3d9c"/>
<circle cx="205.8" cy="135.5" r="0.5" fill="#3b3d9c"/>
<circle cx="197.9" cy="170.8" r="0.5" fill="#3b3d9c"/>
<circle cx="199.0" cy="148.0" r="0.5" fill="#3b3d9c"/>
<circle cx="186.2" cy="170.7" r="0.5" fill="#3b3d9c"/>
<circle cx="203.7" cy="164.3" r="0.5" fill="#3b3d9c"/>
<circle cx="208.5" cy="152.2" r="0.5" fill="#3b3d9c"/>
<circle cx="180.5" cy="163.4" r="0.5" fill="#3b3d9c"/>
<circle cx="169.1" cy="162.4" r="0.5" fill="#3b3d9c"/>
<circle cx="169.2" cy="168.6" r="0.5" fill="#3b3d9c"/>
<circle cx="193.5" cy="157.6" r="0.5" fill="#3b3d9c"/>
<circle cx="174.6" cy="157.0" r="0.5" fill="#3b3d9c"/>
<circle cx="189.9" cy="174.6" r="0.5" fill="#3b3d9c"/>
<circle cx="175.1" cy="156.4" r="0.5" fill="#3b3d9c"/>
<circle cx="173.9" cy="156.8" r="0.5" fill="#3b3d9c"/>
<circle cx="179.5" cy="147.6" r="0.5" fill="#3b3d9c"/>
<circle cx="209.9" cy="135.9" r="0.5" fill="#3b3d9c"/>
<circle cx="192.6" cy="155.7" r="0.5" fill="#3b3d9c"/>
<circle cx="208.1" cy="135.2" r="0.5" fill="#3b3d9c"/>
<circle cx="205.5" cy="145.1" r="0.5" fill="#3b3d9c"/>
<circle cx="168.2" cy="167.5" r="0.5" fill="#3b3d9c"/>
<circle cx="209.6" cy="161.0" r="0.5" fill="#3b3d9c"/>
<circle cx="203.9" cy="140.4" r="0.5" fill="#3b3d9c"/>
<circle cx="189.9" cy="157.5" r="0.5" fill="#3b3d9c"/>
<circle cx="181.5" cy="146.5" r="0.5" fill="#3b3d9c"/>
<circle cx="169.3" cy="169.9" r="0.5" fill="#3b3d9c"/>
<circle cx="192.5" cy="154.9" r="0.5" fill="#3b3d9c"/>
<circle cx="183.2" cy="147.4" r="0.5" fill="#3b3d9c"/>
<circle cx="189.3" cy="157.7" r="0.5" fill="#3b3d9c"/>
<circle cx="172.1" cy="168.2" r="0.5" fill="#3b3d9c"/>
<circle cx="201.8" cy="167.5" r="0.5" fill="#3b3d9c"/>
<circle cx="207.3" cy="165.0" r="0.5" fill="#3b3d9c"/>
<circle cx="201.5" cy="166.2" r="0.5" fill="#3b3d9c"/>
<circle cx="204.6" cy="134.1" r="0.5" fill="#3b3d9c"/>
<circle cx="203.4" cy="150.5" r="0.5" fill="#3b3d9c"/>
<circle cx="198.4" cy="138.4" r="0.5" fill="#3b3d9c"/>
<circle cx="187.0" cy="161.7" r="0.5" fill="#3b3d9c"/>
<circle cx="200.6" cy="151.0" r="0.5" fill="#3b3d9c"/>
<circle cx="186.9" cy="175.2" r="0.5" fill="#3b3d9c"/>
<circle cx="198.3" cy="170.1" r="0.5" fill="#3b3d9c"/>
<circle cx="206.0" cy="140.5" r="0.5" fill="#3b3d9c"/>
<circle cx="209.2" cy="152.8" r="0.5" fill="#3b3d9c"/>
<circle cx="179.0" cy="167.8" r="0.5" fill="#3b3d9c"/>
<circle cx="202.7" cy="140.9" r="0.5" fill="#3b3d9c"/>
<circle cx="189.2" cy="159.2" r="0.5" fill="#3b3d9c"/>
<circle cx="187.4" cy="166.1" r="0.5" fill="#3b3d9c"/>
<circle cx="191.6" cy="139.1" r="0.5" fill="#3b3d9c"/>
<circle cx="202.2" cy="151.6" r="0.5" fill="#3b3d9c"/>
<circle cx="213.9" cy="154.9" r="0.5" fill="#3b3d9c"/>
<circle cx="202.9" cy="140.4" r="0.5" fill="#3b3d9c"/>
<circle cx="184.6" cy="164.5" r="0.5" fill="#3b3d9c"/>
<circle cx="200.1" cy="169.2" r="0.5" fill="#3b3d9c"/>
<circle cx="184.3" cy="147.1" r="0.5" fill="#3b3d9c"/>
<circle cx="174.4" cy="166.4" r="0.5" fill="#3b3d9c"/>
<circle cx="187.7" cy="159.2" r="0.5" fill="#3b3d9c"/>
<circle cx="197.3" cy="169.8" r="0.5" fill="#3b3d9c"/>
<circle cx="201.6" cy="150.4" r="0.5" fill="#3b3d9c"/>
<circle cx="191.5" cy="171.0" r="0.5" fill="#3b3d9c"/>
<circle cx="179.5" cy="166.6" r="0.5" fill="#3b3d9c"/>
<circle cx="205.4" cy="164.2" r="0.5" fill="#3b3d9c"/>
<circle cx="198.9" cy="153.0" r="0.5" fill="#3b3d9c"/>
<circle cx="195.1" cy="152.3" r="0.5" fill="#3b3d9c"/>
<circle cx="214.0" cy="147.6" r="0.5" fill="#3b3d9c"/>
<circle cx="188.3" cy="142.9" r="0.5" fill="#3b3d9c"/>
<circle cx="180.5" cy="164.7" r="0.5" fill="#3b3d9c"/>
<circle cx="206.9" cy="150.5" r="0.5" fill="#3b3d9c"/>
<circle cx="178.7" cy="151.9" r="0.5" fill="#3b3d9c"/>
<circle cx="174.4" cy="157.1" r="0.5" fill="#3b3d9c"/>
<ellipse cx="198.2" cy="161" rx="16.50" ry="7.40" fill="#33379a" transform="rotate(-41 198.2 161)"/>
<ellipse cx="198.2" cy="161" rx="13.20" ry="5.92" fill="#2c49b0" transform="rotate(-41 198.2 161)"/>
<ellipse cx="198.2" cy="161" rx="10.39" ry="4.66" fill="#3bb6d6" transform="rotate(-41 198.2 161)"/>
<ellipse cx="198.2" cy="161" rx="8.58" ry="3.85" fill="#5ccdb4" transform="rotate(-41 198.2 161)"/>
<ellipse cx="187.2" cy="152" rx="24.00" ry="6.80" fill="#33369a" transform="rotate(-40 187.2 152)"/>
<ellipse cx="187.2" cy="152" rx="19.20" ry="5.44" fill="#2a47b0" transform="rotate(-40 187.2 152)"/>
<ellipse cx="187.2" cy="152" rx="15.60" ry="4.42" fill="#2b86d0" transform="rotate(-40 187.2 152)"/>
<ellipse cx="187.2" cy="152" rx="12.96" ry="3.67" fill="#3fc6d2" transform="rotate(-40 187.2 152)"/>
<ellipse cx="187.2" cy="152" rx="10.56" ry="2.99" fill="#f3df26" transform="rotate(-40 187.2 152)"/>
<ellipse cx="187.2" cy="152" rx="7.92" ry="2.24" fill="#f29a22" transform="rotate(-40 187.2 152)"/>
<ellipse cx="187.2" cy="152" rx="5.52" ry="1.56" fill="#d8261f" transform="rotate(-40 187.2 152)"/>
<path d="M165.40,156.40 L197.10,128.90 L210.30,128.90 L216.10,134.80 L178.80,173.20 L165.40,173.20 Z" fill="none" stroke="#2d62a0" stroke-width="1.1"/>
<text x="182.40" y="131.50" font-size="14" text-anchor="middle" fill="#2d62a0" stroke="#2d62a0" stroke-width="0.3" textLength="13.40" lengthAdjust="spacingAndGlyphs">p2</text>
<text x="217.80" y="172.20" font-size="14" text-anchor="middle" fill="#a9d0f0" stroke="#a9d0f0" stroke-width="0.3" textLength="12.00" lengthAdjust="spacingAndGlyphs">p1</text>
<text x="183.00" y="195.30" font-size="10.8" text-anchor="start" fill="#141414" stroke="#141414" stroke-width="0.3" textLength="4.60" lengthAdjust="spacingAndGlyphs">F</text>
<text x="188.50" y="197.00" font-size="6.6" text-anchor="start" fill="#141414" stroke="#141414" stroke-width="0.1" textLength="20.80" lengthAdjust="spacingAndGlyphs">Ex_475</text>
<text x="153.90" y="166.00" font-size="11.2" text-anchor="start" fill="#141414" stroke="#141414" stroke-width="0.3" textLength="5.10" lengthAdjust="spacingAndGlyphs" transform="rotate(-90 153.90 166.00)">F</text>
<text x="155.60" y="160.60" font-size="6.6" text-anchor="start" fill="#141414" stroke="#141414" stroke-width="0.1" textLength="21.00" lengthAdjust="spacingAndGlyphs" transform="rotate(-90 155.60 160.60)">Ex_395</text>
<line x1="218.20" y1="113.80" x2="259.00" y2="113.80" stroke="#1a1a1a" stroke-width="1.1"/>
<path d="M263.2,113.8 L257.8,111 L257.8,116.6 Z" fill="#141414" stroke="none" stroke-width="1"/>
<line x1="218.20" y1="113.80" x2="218.20" y2="77.50" stroke="#1a1a1a" stroke-width="1.1"/>
<path d="M218.2,72.6 L215.4,78 L221,78 Z" fill="#141414" stroke="none" stroke-width="1"/>
<path d="M219.00,113.54 L219.45,113.49 L219.90,113.42 L220.35,113.31 L220.80,113.14 L221.25,112.89 L221.70,112.53 L222.15,112.03 L222.60,111.36 L223.05,110.47 L223.50,109.35 L223.95,107.98 L224.40,106.36 L224.85,104.50 L225.30,102.47 L225.75,100.32 L226.20,98.16 L226.65,96.10 L227.10,94.28 L227.55,92.81 L228.00,91.81 L228.45,91.33 L228.90,91.43 L229.35,92.09 L229.80,93.26 L230.25,94.85 L230.70,96.77 L231.15,98.87 L231.60,101.04 L232.05,103.16 L232.50,105.15 L232.95,106.93 L233.40,108.47 L233.85,109.75 L234.30,110.79 L234.75,111.60 L235.20,112.21 L235.65,112.66 L236.10,112.98 L236.55,113.20 L237.00,113.35 L237.45,113.45 L237.90,113.51 L238.35,113.55 L238.80,113.57 L239.25,113.58 L239.70,113.59 L240.15,113.60 L240.60,113.60 L241.05,113.60 L241.50,113.60 L241.95,113.60 L242.40,113.60 L242.85,113.60 L243.30,113.60 L243.75,113.60 L244.20,113.60 L244.65,113.60 L245.10,113.60 L245.55,113.60 L246.00,113.60" fill="none" stroke="#b6d9f3" stroke-width="1.2"/>
<path d="M234.00,113.60 L234.47,113.60 L234.93,113.59 L235.40,113.59 L235.87,113.58 L236.33,113.56 L236.80,113.54 L237.27,113.49 L237.73,113.43 L238.20,113.33 L238.67,113.17 L239.13,112.94 L239.60,112.62 L240.07,112.16 L240.53,111.54 L241.00,110.71 L241.47,109.63 L241.93,108.27 L242.40,106.58 L242.87,104.55 L243.33,102.18 L243.80,99.50 L244.27,96.55 L244.73,93.41 L245.20,90.21 L245.67,87.07 L246.13,84.13 L246.60,81.57 L247.07,79.51 L247.53,78.08 L248.00,77.37 L248.47,77.43 L248.93,78.24 L249.40,79.76 L249.87,81.90 L250.33,84.53 L250.80,87.51 L251.27,90.67 L251.73,93.87 L252.20,96.98 L252.67,99.90 L253.13,102.54 L253.60,104.86 L254.07,106.84 L254.53,108.48 L255.00,109.80 L255.47,110.84 L255.93,111.64 L256.40,112.24 L256.87,112.67 L257.33,112.98 L257.80,113.20 L258.27,113.34 L258.73,113.44 L259.20,113.50 L259.67,113.54 L260.13,113.57 L260.60,113.58 L261.07,113.59 L261.53,113.59 L262.00,113.60" fill="none" stroke="#2d62a0" stroke-width="1.4"/>
<text x="212.60" y="95.50" font-size="11.5" text-anchor="middle" fill="#141414" stroke="#141414" stroke-width="0.3" textLength="33.50" lengthAdjust="spacingAndGlyphs" transform="rotate(-90 212.60 95.50)">Density</text>
<text x="211.80" y="123.60" font-size="11.5" text-anchor="start" fill="#141414" stroke="#141414" stroke-width="0.3" textLength="6.00" lengthAdjust="spacingAndGlyphs">F</text>
<text x="218.20" y="126.20" font-size="6.8" text-anchor="start" fill="#141414" stroke="#141414" stroke-width="0.1" textLength="18.80" lengthAdjust="spacingAndGlyphs">Ex_395</text>
<text x="237.60" y="123.60" font-size="11.5" text-anchor="start" fill="#141414" stroke="#141414" stroke-width="0.3" textLength="3.60" lengthAdjust="spacingAndGlyphs">/</text>
<text x="243.50" y="123.60" font-size="11.5" text-anchor="start" fill="#141414" stroke="#141414" stroke-width="0.3" textLength="6.00" lengthAdjust="spacingAndGlyphs">F</text>
<text x="250.00" y="126.20" font-size="6.8" text-anchor="start" fill="#141414" stroke="#141414" stroke-width="0.1" textLength="18.80" lengthAdjust="spacingAndGlyphs">Ex_475</text>
<path d="M248.8,155.7 L265,155.7 Q272,155.7 278,146 L287.5,132.7" fill="none" stroke="#1a1a1a" stroke-width="1.3"/>
<path d="M290.9,127.9 L284.2,131.7 L289.4,135.5 Z" fill="#1a1a1a" stroke="none" stroke-width="1"/>
<path d="M265,155.7 Q272,155.7 278,165.5 L287.7,178.8" fill="none" stroke="#1a1a1a" stroke-width="1.3"/>
<path d="M290.9,183.3 L289.4,175.7 L284.2,179.5 Z" fill="#1a1a1a" stroke="none" stroke-width="1"/>
<text x="384.00" y="84.00" font-size="12.5" text-anchor="middle" fill="#111" font-weight="bold" textLength="120.60" lengthAdjust="spacingAndGlyphs">Product quantification</text>
<text x="303.00" y="102.00" font-size="14" text-anchor="start" fill="#6a5aa8" stroke="#6a5aa8" stroke-width="0.3" textLength="49.30" lengthAdjust="spacingAndGlyphs">Violacein</text>
<text x="411.90" y="108.40" font-size="12.5" text-anchor="middle" fill="#141414" stroke="#141414" stroke-width="0.3" textLength="81.80" lengthAdjust="spacingAndGlyphs">flow cytometry</text>
<text x="411.40" y="120.30" font-size="12.5" text-anchor="middle" fill="#141414" stroke="#141414" stroke-width="0.3" textLength="74.80" lengthAdjust="spacingAndGlyphs">measurement</text>
<path d="M318,156.2 C324,140 326,126 333,126.2 C339,126.3 341,132.5 346.2,132 C352,131.5 355,122.5 362,123.5 C372,125 380,142 384.5,156.2 Z" fill="url(#vgrad)" stroke="none" stroke-width="1"/>
<line x1="313.50" y1="156.20" x2="394.00" y2="156.20" stroke="#1a1a1a" stroke-width="1.2"/>
<path d="M398.2,156.2 L392.2,153 L392.2,159.4 Z" fill="#141414" stroke="none" stroke-width="1"/>
<line x1="313.50" y1="156.20" x2="313.50" y2="115.00" stroke="#1a1a1a" stroke-width="1.2"/>
<path d="M313.5,109.4 L310.3,115.5 L316.7,115.5 Z" fill="#141414" stroke="none" stroke-width="1"/>
<text x="307.80" y="139.40" font-size="11.5" text-anchor="middle" fill="#141414" stroke="#141414" stroke-width="0.3" textLength="33.50" lengthAdjust="spacingAndGlyphs" transform="rotate(-90 307.80 139.40)">Density</text>
<text x="354.80" y="166.60" font-size="11.5" text-anchor="middle" fill="#141414" stroke="#141414" stroke-width="0.3" textLength="79.70" lengthAdjust="spacingAndGlyphs">Autofluorescence</text>
<text x="301.40" y="183.00" font-size="14" text-anchor="start" fill="#e8892c" stroke="#e8892c" stroke-width="0.3" textLength="50.80" lengthAdjust="spacingAndGlyphs">Lycopene</text>
<text x="431.60" y="189.20" font-size="12.5" text-anchor="middle" fill="#141414" stroke="#141414" stroke-width="0.3" textLength="42.40" lengthAdjust="spacingAndGlyphs">RAMAN</text>
<text x="431.30" y="202.40" font-size="12.5" text-anchor="middle" fill="#141414" stroke="#141414" stroke-width="0.3" textLength="60.70" lengthAdjust="spacingAndGlyphs">microscopy</text>
<text x="431.40" y="214.60" font-size="12.5" text-anchor="middle" fill="#141414" stroke="#141414" stroke-width="0.3" textLength="75.10" lengthAdjust="spacingAndGlyphs">measurement</text>
<line x1="314.50" y1="238.00" x2="394.50" y2="238.00" stroke="#1a1a1a" stroke-width="1.2"/>
<path d="M399,238 L393,234.8 L393,241.2 Z" fill="#141414" stroke="none" stroke-width="1"/>
<line x1="314.50" y1="238.00" x2="314.50" y2="197.50" stroke="#1a1a1a" stroke-width="1.2"/>
<path d="M314.5,191.9 L311.3,198 L317.7,198 Z" fill="#141414" stroke="none" stroke-width="1"/>
<path d="M315.4,231.3 L322.5,231.3 L325,227.5 L327.5,231.3 L336.4,231.3 L338.5,224 L340.8,201.5 L343.2,224 L345.7,231.3 L376.7,231.3 L378.5,224 L380.2,208.5 L382,224 L384.6,231.3 L394.2,231.3" fill="none" stroke="#1a1a1a" stroke-width="1.2" stroke-linejoin="round"/>
<text x="325.00" y="224.30" font-size="9" text-anchor="middle" fill="#141414" stroke="#141414" stroke-width="0.3" textLength="17.00" lengthAdjust="spacingAndGlyphs">1000</text>
<text x="340.80" y="196.80" font-size="9" text-anchor="middle" fill="#141414" stroke="#141414" stroke-width="0.3" textLength="16.50" lengthAdjust="spacingAndGlyphs">1148</text>
<text x="380.20" y="205.50" font-size="9" text-anchor="middle" fill="#141414" stroke="#141414" stroke-width="0.3" textLength="17.00" lengthAdjust="spacingAndGlyphs">1508</text>
<text x="307.60" y="218.20" font-size="11.5" text-anchor="middle" fill="#141414" stroke="#141414" stroke-width="0.3" textLength="38.00" lengthAdjust="spacingAndGlyphs" transform="rotate(-90 307.60 218.20)">Intensity</text>
<text x="320.7" y="250.5" font-size="11.5" fill="#1a1a1a" textLength="71.4" lengthAdjust="spacingAndGlyphs">RAMAN λ (cm<tspan font-size="7" dy="-4">-1</tspan><tspan dy="4">)</tspan></text>
<text x="68.50" y="205.00" font-size="12" text-anchor="middle" fill="#222" stroke="#222" stroke-width="0.3" textLength="100.10" lengthAdjust="spacingAndGlyphs">Flask cultivation of</text>
<text x="68.50" y="218.10" font-size="12" text-anchor="middle" fill="#222" stroke="#222" stroke-width="0.3" textLength="112.40" lengthAdjust="spacingAndGlyphs">strains co-expressing</text>
<text x="68.50" y="231.00" font-size="12" text-anchor="middle" fill="#222" stroke="#222" stroke-width="0.3" textLength="124.70" lengthAdjust="spacingAndGlyphs">pHluorin2 and relevant</text>
<text x="68.50" y="243.30" font-size="12" text-anchor="middle" fill="#222" stroke="#222" stroke-width="0.3" textLength="108.30" lengthAdjust="spacingAndGlyphs">production pathway</text>
<text x="209.00" y="218.50" font-size="12" text-anchor="middle" fill="#222" stroke="#222" stroke-width="0.3" textLength="79.70" lengthAdjust="spacingAndGlyphs">Sorting of cells</text>
<text x="209.00" y="231.70" font-size="12" text-anchor="middle" fill="#222" stroke="#222" stroke-width="0.3" textLength="66.10" lengthAdjust="spacingAndGlyphs">according to</text>
<text x="209.00" y="244.00" font-size="12" text-anchor="middle" fill="#222" stroke="#222" stroke-width="0.3" textLength="87.10" lengthAdjust="spacingAndGlyphs">pHluorin2 signal</text>
<text x="487.60" y="73.80" font-size="14.2" text-anchor="start" fill="#111" font-weight="bold">D)</text>
<line x1="522.80" y1="219.30" x2="525.50" y2="219.30" stroke="#555" stroke-width="1.3"/>
<text x="520.20" y="223.30" font-size="10.5" text-anchor="end" fill="#666666">0</text>
<line x1="522.80" y1="188.40" x2="525.50" y2="188.40" stroke="#555" stroke-width="1.3"/>
<text x="520.20" y="192.40" font-size="10.5" text-anchor="end" fill="#666666">1</text>
<line x1="522.80" y1="157.50" x2="525.50" y2="157.50" stroke="#555" stroke-width="1.3"/>
<text x="520.20" y="161.50" font-size="10.5" text-anchor="end" fill="#666666">2</text>
<line x1="522.80" y1="126.60" x2="525.50" y2="126.60" stroke="#555" stroke-width="1.3"/>
<text x="520.20" y="130.60" font-size="10.5" text-anchor="end" fill="#666666">3</text>
<line x1="522.80" y1="95.70" x2="525.50" y2="95.70" stroke="#555" stroke-width="1.3"/>
<text x="520.20" y="99.70" font-size="10.5" text-anchor="end" fill="#666666">4</text>
<line x1="566.80" y1="226.00" x2="566.80" y2="229.50" stroke="#555" stroke-width="1.3"/>
<text x="566.80" y="239.90" font-size="10.5" text-anchor="middle" fill="#666666">0.5</text>
<line x1="608.95" y1="226.00" x2="608.95" y2="229.50" stroke="#555" stroke-width="1.3"/>
<text x="608.95" y="239.90" font-size="10.5" text-anchor="middle" fill="#666666">1.0</text>
<line x1="651.10" y1="226.00" x2="651.10" y2="229.50" stroke="#555" stroke-width="1.3"/>
<text x="651.10" y="239.90" font-size="10.5" text-anchor="middle" fill="#666666">1.5</text>
<rect x="525.50" y="74.00" width="155.00" height="152.00" fill="#fff" stroke="none" stroke-width="1" rx="0"/>
<path d="M533.08,219.30 L533.50,219.30 L533.92,219.30 L534.34,219.30 L534.77,219.30 L535.19,219.30 L535.61,219.30 L536.03,219.30 L536.45,219.30 L536.87,219.30 L537.29,219.30 L537.72,219.30 L538.14,219.30 L538.56,219.30 L538.98,219.30 L539.40,219.30 L539.82,219.30 L540.25,219.30 L540.67,219.30 L541.09,219.30 L541.51,219.30 L541.93,219.30 L542.35,219.30 L542.77,219.30 L543.20,219.30 L543.62,219.30 L544.04,219.30 L544.46,219.30 L544.88,219.30 L545.30,219.30 L545.72,219.30 L546.15,219.30 L546.57,219.30 L546.99,219.30 L547.41,219.30 L547.83,219.30 L548.25,219.30 L548.68,219.30 L549.10,219.30 L549.52,219.30 L549.94,219.30 L550.36,219.30 L550.78,219.30 L551.20,219.30 L551.63,219.30 L552.05,219.30 L552.47,219.30 L552.89,219.30 L553.31,219.30 L553.73,219.30 L554.15,219.30 L554.58,219.30 L555.00,219.30 L555.42,219.30 L555.84,219.30 L556.26,219.30 L556.68,219.30 L557.11,219.30 L557.53,219.29 L557.95,219.29 L558.37,219.29 L558.79,219.29 L559.21,219.28 L559.63,219.28 L560.06,219.27 L560.48,219.26 L560.90,219.24 L561.32,219.22 L561.74,219.20 L562.16,219.17 L562.58,219.13 L563.01,219.09 L563.43,219.03 L563.85,218.95 L564.27,218.86 L564.69,218.75 L565.11,218.61 L565.54,218.44 L565.96,218.23 L566.38,217.99 L566.80,217.69 L567.22,217.34 L567.64,216.93 L568.06,216.44 L568.49,215.87 L568.91,215.20 L569.33,214.44 L569.75,213.55 L570.17,212.55 L570.59,211.40 L571.01,210.11 L571.44,208.66 L571.86,207.03 L572.28,205.23 L572.70,203.23 L573.12,201.03 L573.54,198.62 L573.97,195.99 L574.39,193.14 L574.81,190.07 L575.23,186.79 L575.65,183.29 L576.07,179.59 L576.49,175.71 L576.92,171.68 L577.34,167.52 L577.76,163.29 L578.18,159.04 L578.60,154.83 L579.02,150.72 L579.44,146.79 L579.87,143.13 L580.29,139.80 L580.71,136.89 L581.13,134.47 L581.55,132.60 L581.97,131.32 L582.40,130.67 L582.82,130.67 L583.24,131.32 L583.66,132.58 L584.08,134.43 L584.50,136.82 L584.92,139.68 L585.35,142.93 L585.77,146.52 L586.19,150.34 L586.61,154.34 L587.03,158.43 L587.45,162.55 L587.88,166.64 L588.30,170.65 L588.72,174.54 L589.14,178.27 L589.56,181.81 L589.98,185.16 L590.40,188.28 L590.83,191.17 L591.25,193.83 L591.67,196.25 L592.09,198.44 L592.51,200.39 L592.93,202.11 L593.35,203.60 L593.78,204.88 L594.20,205.93 L594.62,206.78 L595.04,207.43 L595.46,207.88 L595.88,208.15 L596.30,208.24 L596.73,208.16 L597.15,207.91 L597.57,207.50 L597.99,206.95 L598.41,206.25 L598.83,205.41 L599.26,204.44 L599.68,203.34 L600.10,202.12 L600.52,200.78 L600.94,199.33 L601.36,197.77 L601.78,196.12 L602.21,194.36 L602.63,192.52 L603.05,190.59 L603.47,188.58 L603.89,186.51 L604.31,184.37 L604.73,182.18 L605.16,179.94 L605.58,177.67 L606.00,175.38 L606.42,173.08 L606.84,170.78 L607.26,168.48 L607.69,166.22 L608.11,163.99 L608.53,161.81 L608.95,159.69 L609.37,157.66 L609.79,155.71 L610.21,153.87 L610.64,152.14 L611.06,150.54 L611.48,149.08 L611.90,147.77 L612.32,146.62 L612.74,145.63 L613.16,144.82 L613.59,144.19 L614.01,143.75 L614.43,143.49 L614.85,143.43 L615.27,143.55 L615.69,143.87 L616.12,144.37 L616.54,145.06 L616.96,145.93 L617.38,146.97 L617.80,148.17 L618.22,149.53 L618.64,151.04 L619.07,152.68 L619.49,154.45 L619.91,156.32 L620.33,158.30 L620.75,160.36 L621.17,162.50 L621.59,164.70 L622.02,166.95 L622.44,169.22 L622.86,171.52 L623.28,173.83 L623.70,176.14 L624.12,178.43 L624.55,180.70 L624.97,182.94 L625.39,185.13 L625.81,187.27 L626.23,189.35 L626.65,191.37 L627.07,193.31 L627.50,195.18 L627.92,196.98 L628.34,198.69 L628.76,200.32 L629.18,201.86 L629.60,203.32 L630.02,204.69 L630.45,205.98 L630.87,207.19 L631.29,208.31 L631.71,209.36 L632.13,210.33 L632.55,211.22 L632.98,212.04 L633.40,212.80 L633.82,213.49 L634.24,214.12 L634.66,214.70 L635.08,215.22 L635.50,215.69 L635.93,216.11 L636.35,216.50 L636.77,216.84 L637.19,217.14 L637.61,217.42 L638.03,217.66 L638.45,217.87 L638.88,218.06 L639.30,218.23 L639.72,218.38 L640.14,218.51 L640.56,218.62 L640.98,218.72 L641.41,218.80 L641.83,218.88 L642.25,218.94 L642.67,218.99 L643.09,219.04 L643.51,219.08 L643.93,219.12 L644.36,219.15 L644.78,219.17 L645.20,219.19 L645.62,219.21 L646.04,219.23 L646.46,219.24 L646.88,219.25 L647.31,219.26 L647.73,219.27 L648.15,219.27 L648.57,219.28 L648.99,219.28 L649.41,219.28 L649.84,219.29 L650.26,219.29 L650.68,219.29 L651.10,219.29 L651.52,219.29 L651.94,219.30 L652.36,219.30 L652.79,219.30 L653.21,219.30 L653.63,219.30 L654.05,219.30 L654.47,219.30 L654.89,219.30 L655.31,219.30 L655.74,219.30 L656.16,219.30 L656.58,219.30 L657.00,219.30 L657.42,219.30 L657.84,219.30 L658.27,219.30 L658.69,219.30 L659.11,219.30 L659.53,219.30 L659.95,219.30 L660.37,219.30 L660.79,219.30 L661.22,219.30 L661.64,219.30 L662.06,219.30 L662.48,219.30 L662.90,219.30 L663.32,219.30 L663.75,219.30 L664.17,219.30 L664.59,219.30 L665.01,219.30 L665.43,219.30 L665.85,219.30 L666.27,219.30 L666.70,219.30 L667.12,219.30 L667.54,219.30 L667.96,219.30 L668.38,219.30 L668.80,219.30 L669.22,219.30 L669.65,219.30 L670.07,219.30 L670.49,219.30 L670.91,219.30 L671.33,219.30 L671.75,219.30 L672.17,219.30" fill="none" stroke="#f39220" stroke-width="1.5" stroke-linejoin="round"/>
<path d="M533.08,219.30 L533.50,219.30 L533.92,219.30 L534.34,219.30 L534.77,219.30 L535.19,219.30 L535.61,219.30 L536.03,219.30 L536.45,219.30 L536.87,219.30 L537.29,219.30 L537.72,219.30 L538.14,219.30 L538.56,219.30 L538.98,219.30 L539.40,219.30 L539.82,219.30 L540.25,219.30 L540.67,219.30 L541.09,219.30 L541.51,219.30 L541.93,219.30 L542.35,219.30 L542.77,219.30 L543.20,219.30 L543.62,219.30 L544.04,219.30 L544.46,219.30 L544.88,219.30 L545.30,219.30 L545.72,219.30 L546.15,219.30 L546.57,219.30 L546.99,219.30 L547.41,219.30 L547.83,219.30 L548.25,219.30 L548.68,219.30 L549.10,219.30 L549.52,219.30 L549.94,219.30 L550.36,219.30 L550.78,219.30 L551.20,219.30 L551.63,219.30 L552.05,219.30 L552.47,219.30 L552.89,219.30 L553.31,219.30 L553.73,219.30 L554.15,219.30 L554.58,219.30 L555.00,219.30 L555.42,219.30 L555.84,219.30 L556.26,219.30 L556.68,219.30 L557.11,219.30 L557.53,219.30 L557.95,219.30 L558.37,219.30 L558.79,219.30 L559.21,219.30 L559.63,219.30 L560.06,219.30 L560.48,219.30 L560.90,219.30 L561.32,219.30 L561.74,219.30 L562.16,219.30 L562.58,219.30 L563.01,219.30 L563.43,219.30 L563.85,219.30 L564.27,219.29 L564.69,219.29 L565.11,219.29 L565.54,219.28 L565.96,219.28 L566.38,219.27 L566.80,219.25 L567.22,219.23 L567.64,219.20 L568.06,219.15 L568.49,219.09 L568.91,219.00 L569.33,218.88 L569.75,218.71 L570.17,218.49 L570.59,218.20 L571.01,217.82 L571.44,217.33 L571.86,216.70 L572.28,215.92 L572.70,214.95 L573.12,213.76 L573.54,212.34 L573.97,210.65 L574.39,208.68 L574.81,206.42 L575.23,203.86 L575.65,201.00 L576.07,197.88 L576.49,194.53 L576.92,190.99 L577.34,187.32 L577.76,183.61 L578.18,179.95 L578.60,176.42 L579.02,173.12 L579.44,170.16 L579.87,167.63 L580.29,165.60 L580.71,164.14 L581.13,163.29 L581.55,163.09 L581.97,163.52 L582.40,164.57 L582.82,166.19 L583.24,168.31 L583.66,170.85 L584.08,173.72 L584.50,176.82 L584.92,180.04 L585.35,183.29 L585.77,186.47 L586.19,189.50 L586.61,192.32 L587.03,194.86 L587.45,197.09 L587.88,198.99 L588.30,200.53 L588.72,201.72 L589.14,202.56 L589.56,203.07 L589.98,203.26 L590.40,203.17 L590.83,202.80 L591.25,202.19 L591.67,201.36 L592.09,200.32 L592.51,199.09 L592.93,197.70 L593.35,196.15 L593.78,194.45 L594.20,192.61 L594.62,190.65 L595.04,188.57 L595.46,186.37 L595.88,184.06 L596.30,181.65 L596.73,179.15 L597.15,176.56 L597.57,173.89 L597.99,171.15 L598.41,168.36 L598.83,165.52 L599.26,162.66 L599.68,159.77 L600.10,156.89 L600.52,154.02 L600.94,151.19 L601.36,148.41 L601.78,145.70 L602.21,143.08 L602.63,140.58 L603.05,138.19 L603.47,135.96 L603.89,133.88 L604.31,131.98 L604.73,130.28 L605.16,128.78 L605.58,127.49 L606.00,126.43 L606.42,125.60 L606.84,125.00 L607.26,124.64 L607.69,124.52 L608.11,124.63 L608.53,124.98 L608.95,125.55 L609.37,126.33 L609.79,127.32 L610.21,128.51 L610.64,129.88 L611.06,131.43 L611.48,133.12 L611.90,134.96 L612.32,136.92 L612.74,139.00 L613.16,141.16 L613.59,143.41 L614.01,145.73 L614.43,148.09 L614.85,150.50 L615.27,152.93 L615.69,155.38 L616.12,157.83 L616.54,160.27 L616.96,162.71 L617.38,165.12 L617.80,167.50 L618.22,169.84 L618.64,172.15 L619.07,174.40 L619.49,176.61 L619.91,178.77 L620.33,180.87 L620.75,182.91 L621.17,184.88 L621.59,186.80 L622.02,188.65 L622.44,190.44 L622.86,192.16 L623.28,193.82 L623.70,195.41 L624.12,196.93 L624.55,198.39 L624.97,199.79 L625.39,201.12 L625.81,202.38 L626.23,203.58 L626.65,204.72 L627.07,205.80 L627.50,206.82 L627.92,207.78 L628.34,208.69 L628.76,209.54 L629.18,210.33 L629.60,211.08 L630.02,211.78 L630.45,212.43 L630.87,213.03 L631.29,213.59 L631.71,214.11 L632.13,214.59 L632.55,215.04 L632.98,215.45 L633.40,215.82 L633.82,216.17 L634.24,216.48 L634.66,216.77 L635.08,217.03 L635.50,217.27 L635.93,217.49 L636.35,217.69 L636.77,217.86 L637.19,218.02 L637.61,218.17 L638.03,218.30 L638.45,218.42 L638.88,218.52 L639.30,218.61 L639.72,218.70 L640.14,218.77 L640.56,218.84 L640.98,218.90 L641.41,218.95 L641.83,218.99 L642.25,219.03 L642.67,219.07 L643.09,219.10 L643.51,219.13 L643.93,219.15 L644.36,219.17 L644.78,219.19 L645.20,219.20 L645.62,219.22 L646.04,219.23 L646.46,219.24 L646.88,219.25 L647.31,219.26 L647.73,219.26 L648.15,219.27 L648.57,219.27 L648.99,219.28 L649.41,219.28 L649.84,219.28 L650.26,219.29 L650.68,219.29 L651.10,219.29 L651.52,219.29 L651.94,219.29 L652.36,219.29 L652.79,219.30 L653.21,219.30 L653.63,219.30 L654.05,219.30 L654.47,219.30 L654.89,219.30 L655.31,219.30 L655.74,219.30 L656.16,219.30 L656.58,219.30 L657.00,219.30 L657.42,219.30 L657.84,219.30 L658.27,219.30 L658.69,219.30 L659.11,219.30 L659.53,219.30 L659.95,219.30 L660.37,219.30 L660.79,219.30 L661.22,219.30 L661.64,219.30 L662.06,219.30 L662.48,219.30 L662.90,219.30 L663.32,219.30 L663.75,219.30 L664.17,219.30 L664.59,219.30 L665.01,219.30 L665.43,219.30 L665.85,219.30 L666.27,219.30 L666.70,219.30 L667.12,219.30 L667.54,219.30 L667.96,219.30 L668.38,219.30 L668.80,219.30 L669.22,219.30 L669.65,219.30 L670.07,219.30 L670.49,219.30 L670.91,219.30 L671.33,219.30 L671.75,219.30 L672.17,219.30" fill="none" stroke="#2e1065" stroke-width="1.5" stroke-linejoin="round"/>
<line x1="537.60" y1="213.20" x2="589.60" y2="213.20" stroke="#444" stroke-width="1.3" stroke-dasharray="3.6,2.6"/>
<path d="M531.60,213.20 L538.60,209.60 L538.60,216.80 Z" fill="#2a2a2a" stroke="none" stroke-width="1"/>
<path d="M595.60,213.20 L588.60,209.60 L588.60,216.80 Z" fill="#2a2a2a" stroke="none" stroke-width="1"/>
<line x1="605.40" y1="213.20" x2="667.20" y2="213.20" stroke="#444" stroke-width="1.3" stroke-dasharray="3.6,2.6"/>
<path d="M599.40,213.20 L606.40,209.60 L606.40,216.80 Z" fill="#2a2a2a" stroke="none" stroke-width="1"/>
<path d="M673.20,213.20 L666.20,209.60 L666.20,216.80 Z" fill="#2a2a2a" stroke="none" stroke-width="1"/>
<text x="556.00" y="206.80" font-size="12" text-anchor="middle" fill="#141414" stroke="#141414" stroke-width="0.3" textLength="12.50" lengthAdjust="spacingAndGlyphs">p1</text>
<text x="648.00" y="206.80" font-size="12" text-anchor="middle" fill="#141414" stroke="#141414" stroke-width="0.3" textLength="12.50" lengthAdjust="spacingAndGlyphs">p2</text>
<line x1="530.00" y1="86.80" x2="542.80" y2="86.80" stroke="#2e1065" stroke-width="2.2"/>
<circle cx="536.2" cy="86.8" r="3.3" fill="#2e1065"/>
<line x1="530.00" y1="101.90" x2="542.80" y2="101.90" stroke="#f39220" stroke-width="2.2"/>
<circle cx="536.2" cy="101.9" r="3.3" fill="#f39220"/>
<text x="544.40" y="89.90" font-size="11.5" text-anchor="start" fill="#141414" stroke="#141414" stroke-width="0.3" textLength="94.60" lengthAdjust="spacingAndGlyphs">pHluorin2-violacein</text>
<text x="544.40" y="104.90" font-size="11.5" text-anchor="start" fill="#141414" stroke="#141414" stroke-width="0.3" textLength="96.10" lengthAdjust="spacingAndGlyphs">pHluorin2-lycopene</text>
<rect x="525.50" y="74.00" width="155.00" height="152.00" fill="none" stroke="#a4a4a4" stroke-width="1.2" rx="0"/>
<text x="504.00" y="150.40" font-size="12" text-anchor="middle" fill="#141414" stroke="#141414" stroke-width="0.3" textLength="41.50" lengthAdjust="spacingAndGlyphs" transform="rotate(-90 504.00 150.40)">Density</text>
<text x="601.60" y="252.20" font-size="12" text-anchor="middle" fill="#141414" stroke="#141414" stroke-width="0.3" textLength="87.30" lengthAdjust="spacingAndGlyphs">pHluorin2 Signal</text>
<text x="603.10" y="264.60" font-size="12" text-anchor="middle" fill="#141414" stroke="#141414" stroke-width="0.3" textLength="76.20" lengthAdjust="spacingAndGlyphs">(VL2-H/BL1-H)</text>
<text x="-0.60" y="285.90" font-size="14.2" text-anchor="start" fill="#111" font-weight="bold">E)</text>
<line x1="58.50" y1="429.10" x2="62.50" y2="429.10" stroke="#555" stroke-width="1.3"/>
<text x="55.90" y="433.10" font-size="10.5" text-anchor="end" fill="#666666">0</text>
<line x1="58.50" y1="389.40" x2="62.50" y2="389.40" stroke="#555" stroke-width="1.3"/>
<text x="55.90" y="393.40" font-size="10.5" text-anchor="end" fill="#666666">1</text>
<line x1="58.50" y1="349.70" x2="62.50" y2="349.70" stroke="#555" stroke-width="1.3"/>
<text x="55.90" y="353.70" font-size="10.5" text-anchor="end" fill="#666666">2</text>
<line x1="58.50" y1="310.00" x2="62.50" y2="310.00" stroke="#555" stroke-width="1.3"/>
<text x="55.90" y="314.00" font-size="10.5" text-anchor="end" fill="#666666">3</text>
<line x1="88.20" y1="435.50" x2="88.20" y2="439.00" stroke="#555" stroke-width="1.3"/>
<text x="88.20" y="449.60" font-size="10.5" text-anchor="middle" fill="#666666">2.5</text>
<line x1="135.80" y1="435.50" x2="135.80" y2="439.00" stroke="#555" stroke-width="1.3"/>
<text x="135.80" y="449.60" font-size="10.5" text-anchor="middle" fill="#666666">5.0</text>
<line x1="183.40" y1="435.50" x2="183.40" y2="439.00" stroke="#555" stroke-width="1.3"/>
<text x="183.40" y="449.60" font-size="10.5" text-anchor="middle" fill="#666666">7.5</text>
<rect x="62.50" y="283.50" width="156.00" height="152.00" fill="#fff" stroke="none" stroke-width="1" rx="0"/>
<clipPath id="eclip"><rect x="62.5" y="283.5" width="156.0" height="152.0"/></clipPath>
<g clip-path="url(#eclip)">
<path d="M177.50,428.50 L176.50,428.50 L175.50,428.50 L175.00,428.50 L174.00,428.50 L173.00,428.50 L172.00,428.50 L171.00,428.50 L170.00,428.50 L169.39,428.50 L168.50,428.50 L167.50,428.51 L166.50,428.52 L165.50,428.53 L164.50,428.54 L163.50,428.55 L162.50,428.57 L161.50,428.59 L160.50,428.60 L159.50,428.62 L158.50,428.64 L157.50,428.66 L156.50,428.69 L155.50,428.71 L154.50,428.73 L153.50,428.75 L152.50,428.77 L151.50,428.78 L150.50,428.80 L149.50,428.82 L148.50,428.83 L147.50,428.84 L146.50,428.85 L145.50,428.86 L144.50,428.87 L143.50,428.88 L142.50,428.88 L141.50,428.89 L140.50,428.89 L139.50,428.89 L138.50,428.88 L137.50,428.88 L136.50,428.87 L135.50,428.86 L134.50,428.85 L133.50,428.84 L132.50,428.83 L131.50,428.81 L130.50,428.79 L129.50,428.77 L128.50,428.75 L127.50,428.72 L126.50,428.69 L125.50,428.66 L124.50,428.63 L123.50,428.59 L122.50,428.55 L121.50,428.50 L121.00,428.48 L120.00,428.44 L119.00,428.40 L118.00,428.35 L117.00,428.30 L116.00,428.25 L115.00,428.19 L114.00,428.13 L113.00,428.07 L112.00,428.01 L111.50,427.98 L110.50,427.93 L109.50,427.89 L108.50,427.85 L107.50,427.82 L106.50,427.81 L105.50,427.82 L104.50,427.84 L103.50,427.87 L102.50,427.92 L101.50,427.97 L100.94,428.00 L100.00,428.07 L99.00,428.13 L98.00,428.20 L97.00,428.25 L96.00,428.30 L95.00,428.35 L94.00,428.38 L93.00,428.41 L92.00,428.43 L91.00,428.43 L90.00,428.42 L89.00,428.39 L88.00,428.33 L87.00,428.24 L86.00,428.10 L85.44,428.00 L84.50,427.83 L83.50,427.59 L83.00,427.45 L82.00,427.14 L81.50,426.95 L80.50,426.55 L80.00,426.32 L79.38,426.00 L78.52,425.50 L78.00,425.16 L77.50,424.78 L77.00,424.35 L76.50,423.85 L76.00,423.24 L75.54,422.50 L75.29,422.00 L75.00,421.18 L74.80,420.50 L74.61,419.50 L74.50,418.53 L74.46,418.00 L74.45,417.00 L74.50,416.37 L74.61,415.50 L74.86,414.50 L75.03,414.00 L75.47,413.00 L75.74,412.50 L76.05,412.00 L76.50,411.38 L77.00,410.78 L77.50,410.26 L78.00,409.80 L78.50,409.39 L79.03,409.00 L79.80,408.50 L80.50,408.10 L81.00,407.86 L81.84,407.50 L82.50,407.25 L83.34,407.00 L84.00,406.82 L85.00,406.62 L85.96,406.50 L86.50,406.45 L87.50,406.40 L88.50,406.41 L89.50,406.49 L90.00,406.54 L91.00,406.68 L92.00,406.88 L92.50,407.01 L93.50,407.27 L94.21,407.50 L95.00,407.75 L95.68,408.00 L96.50,408.29 L97.01,408.50 L98.00,408.88 L98.50,409.08 L99.50,409.48 L100.00,409.68 L100.75,410.00 L101.50,410.32 L102.00,410.56 L102.91,411.00 L103.50,411.31 L104.00,411.59 L104.65,412.00 L105.37,412.50 L106.00,413.00 L106.50,413.44 L107.00,413.94 L107.49,414.50 L107.90,415.00 L108.28,415.50 L108.65,416.00 L109.05,416.50 L109.53,417.00 L110.22,417.50 L111.00,417.85 L111.50,418.01 L112.50,418.19 L113.50,418.28 L114.50,418.31 L115.50,418.31 L116.50,418.28 L117.50,418.25 L118.50,418.21 L119.50,418.17 L120.50,418.13 L121.50,418.09 L122.50,418.05 L123.50,418.02 L124.12,418.00 L125.00,417.97 L126.00,417.93 L127.00,417.90 L128.00,417.87 L129.00,417.84 L130.00,417.82 L131.00,417.80 L132.00,417.78 L133.00,417.76 L134.00,417.75 L135.00,417.74 L136.00,417.73 L137.00,417.72 L138.00,417.71 L139.00,417.71 L140.00,417.71 L141.00,417.71 L142.00,417.71 L143.00,417.72 L144.00,417.72 L145.00,417.73 L146.00,417.74 L147.00,417.75 L148.00,417.76 L149.00,417.78 L150.00,417.79 L151.00,417.81 L152.00,417.83 L153.00,417.85 L154.00,417.87 L155.00,417.89 L156.00,417.91 L157.00,417.93 L158.00,417.95 L159.00,417.98 L160.00,418.00 L160.50,418.01 L161.50,418.02 L162.50,418.03 L163.50,418.05 L164.50,418.06 L165.50,418.07 L166.50,418.08 L167.50,418.08 L168.50,418.09 L169.50,418.09 L170.50,418.09 L171.50,418.09 L172.50,418.09 L173.50,418.09 L174.50,418.09 L175.50,418.09 L176.50,418.09 L177.50,418.09 L178.50,418.09 L179.50,418.09 L180.50,418.10 L181.50,418.10 L182.50,418.11 L183.50,418.13 L184.50,418.14 L185.50,418.16 L186.50,418.18 L187.50,418.21 L188.50,418.24 L189.50,418.28 L190.50,418.33 L191.50,418.38 L192.50,418.44 L193.47,418.50 L194.00,418.53 L195.00,418.59 L196.00,418.66 L197.00,418.72 L198.00,418.79 L199.00,418.84 L200.00,418.88 L201.00,418.90 L202.00,418.91 L203.00,418.95 L203.71,419.00 L204.50,419.07 L205.50,419.20 L206.50,419.41 L207.00,419.54 L208.00,419.83 L208.50,420.01 L209.50,420.39 L210.00,420.60 L210.88,421.00 L211.50,421.32 L212.00,421.61 L212.60,422.00 L213.15,422.50 L213.46,423.50 L213.00,424.23 L212.50,424.66 L212.00,425.00 L211.08,425.50 L210.50,425.77 L209.99,426.00 L209.00,426.41 L208.50,426.59 L207.50,426.92 L207.00,427.06 L206.00,427.30 L205.00,427.47 L204.50,427.53 L203.50,427.63 L202.50,427.68 L201.50,427.70 L200.50,427.72 L199.50,427.74 L198.50,427.78 L197.50,427.84 L196.50,427.90 L195.50,427.97 L195.00,428.00 L194.00,428.07 L193.00,428.14 L192.00,428.20 L191.00,428.25 L190.00,428.30 L189.00,428.34 L188.00,428.37 L187.00,428.40 L186.00,428.42 L185.00,428.44 L184.00,428.46 L183.00,428.47 L182.00,428.48 L181.00,428.49 L180.00,428.49 L179.00,428.50 L178.00,428.50 L177.50,428.50 Z" fill="#f7bf26" stroke="none" stroke-width="1"/>
<path d="M146.50,428.00 L145.50,428.02 L144.50,428.03 L143.50,428.04 L142.50,428.04 L141.50,428.05 L140.50,428.05 L139.50,428.05 L138.50,428.04 L137.50,428.04 L136.50,428.03 L135.50,428.02 L134.50,428.00 L134.00,428.00 L133.00,427.98 L132.00,427.96 L131.00,427.94 L130.00,427.92 L129.00,427.90 L128.00,427.87 L127.00,427.84 L126.00,427.80 L125.00,427.77 L124.00,427.72 L123.00,427.68 L122.00,427.63 L121.00,427.58 L120.00,427.52 L119.50,427.49 L118.50,427.44 L117.50,427.38 L116.50,427.31 L115.50,427.25 L114.50,427.17 L113.50,427.10 L112.50,427.02 L112.00,426.98 L111.00,426.92 L110.00,426.85 L109.00,426.80 L108.00,426.76 L107.00,426.73 L106.00,426.73 L105.00,426.74 L104.00,426.78 L103.00,426.83 L102.00,426.89 L101.00,426.96 L100.48,427.00 L99.50,427.08 L98.50,427.15 L97.50,427.22 L96.50,427.28 L95.50,427.34 L94.50,427.38 L93.50,427.41 L92.50,427.44 L91.50,427.45 L90.50,427.45 L89.50,427.42 L88.50,427.37 L87.50,427.28 L86.50,427.16 L85.63,427.00 L85.00,426.88 L84.00,426.64 L83.50,426.49 L82.50,426.16 L82.00,425.96 L81.00,425.50 L80.50,425.25 L80.00,424.95 L79.32,424.50 L78.69,424.00 L78.16,423.50 L77.71,423.00 L77.33,422.50 L77.00,421.96 L76.53,421.00 L76.34,420.50 L76.05,419.50 L75.95,419.00 L75.81,418.00 L75.79,417.00 L75.88,416.00 L76.00,415.38 L76.24,414.50 L76.50,413.85 L76.92,413.00 L77.23,412.50 L77.59,412.00 L78.01,411.50 L78.50,410.98 L79.02,410.50 L79.64,410.00 L80.38,409.50 L81.00,409.13 L81.50,408.87 L82.35,408.50 L83.00,408.24 L83.83,408.00 L84.50,407.82 L85.50,407.63 L86.50,407.52 L87.00,407.49 L88.00,407.47 L88.80,407.50 L89.50,407.55 L90.50,407.67 L91.50,407.86 L92.07,408.00 L93.00,408.23 L93.83,408.50 L94.50,408.71 L95.28,409.00 L96.00,409.26 L96.58,409.50 L97.50,409.86 L98.00,410.07 L99.00,410.50 L99.50,410.71 L100.14,411.00 L101.00,411.40 L101.50,411.65 L102.16,412.00 L103.00,412.49 L103.50,412.81 L104.00,413.17 L104.50,413.56 L105.00,414.00 L105.50,414.50 L106.00,415.07 L106.50,415.73 L107.00,416.46 L107.38,417.00 L107.76,417.50 L108.23,418.00 L108.89,418.50 L109.50,418.80 L110.03,419.00 L111.00,419.21 L112.00,419.32 L113.00,419.36 L114.00,419.36 L115.00,419.33 L116.00,419.28 L117.00,419.23 L118.00,419.18 L119.00,419.12 L120.00,419.07 L121.00,419.02 L121.53,419.00 L122.50,418.95 L123.50,418.90 L124.50,418.86 L125.50,418.82 L126.50,418.78 L127.50,418.74 L128.50,418.71 L129.50,418.69 L130.50,418.66 L131.50,418.64 L132.50,418.62 L133.50,418.60 L134.50,418.59 L135.50,418.58 L136.50,418.57 L137.50,418.56 L138.50,418.56 L139.50,418.55 L140.50,418.55 L141.50,418.55 L142.50,418.56 L143.50,418.56 L144.50,418.57 L145.50,418.58 L146.50,418.59 L147.50,418.60 L148.50,418.62 L149.50,418.63 L150.50,418.65 L151.50,418.67 L152.50,418.69 L153.50,418.71 L154.50,418.73 L155.50,418.75 L156.50,418.78 L157.50,418.80 L158.50,418.82 L159.50,418.84 L160.50,418.86 L161.50,418.88 L162.50,418.89 L163.50,418.91 L164.50,418.92 L165.50,418.93 L166.50,418.94 L167.50,418.94 L168.50,418.94 L169.50,418.94 L170.50,418.94 L171.50,418.94 L172.50,418.93 L173.50,418.93 L174.50,418.92 L175.50,418.91 L176.50,418.91 L177.50,418.91 L178.50,418.90 L179.50,418.91 L180.50,418.91 L181.50,418.92 L182.50,418.93 L183.50,418.94 L184.50,418.96 L185.50,418.98 L186.05,419.00 L187.00,419.03 L188.00,419.06 L189.00,419.09 L190.00,419.14 L191.00,419.19 L192.00,419.25 L193.00,419.32 L194.00,419.39 L195.00,419.48 L195.50,419.52 L196.50,419.60 L197.50,419.68 L198.50,419.74 L199.50,419.78 L200.50,419.79 L201.50,419.80 L202.50,419.81 L203.50,419.86 L204.50,419.97 L205.00,420.05 L206.00,420.27 L206.72,420.50 L207.50,420.81 L208.00,421.05 L208.75,421.50 L209.37,422.00 L209.80,422.50 L210.01,423.00 L210.00,423.59 L209.50,424.46 L209.00,424.91 L208.50,425.26 L208.00,425.55 L207.00,426.00 L206.50,426.18 L205.50,426.45 L205.00,426.55 L204.00,426.70 L203.00,426.77 L202.00,426.80 L201.00,426.80 L200.00,426.81 L199.00,426.83 L198.00,426.89 L197.00,426.95 L196.41,427.00 L195.50,427.08 L194.50,427.17 L193.50,427.25 L192.50,427.32 L191.50,427.38 L190.50,427.43 L189.50,427.48 L188.94,427.50 L188.00,427.54 L187.00,427.58 L186.00,427.61 L185.00,427.64 L184.00,427.66 L183.00,427.67 L182.00,427.69 L181.00,427.69 L180.00,427.70 L179.00,427.70 L178.00,427.70 L177.00,427.70 L176.00,427.69 L175.00,427.69 L174.00,427.68 L173.00,427.68 L172.00,427.67 L171.00,427.67 L170.00,427.66 L169.00,427.66 L168.00,427.66 L167.00,427.67 L166.00,427.67 L165.00,427.68 L164.00,427.69 L163.00,427.70 L162.00,427.72 L161.00,427.73 L160.00,427.75 L159.00,427.77 L158.00,427.79 L157.00,427.81 L156.00,427.83 L155.00,427.86 L154.00,427.88 L153.00,427.90 L152.00,427.92 L151.00,427.94 L150.00,427.95 L149.00,427.97 L148.00,427.98 L147.00,428.00 L146.50,428.00 Z" fill="none" stroke="#fde7a0" stroke-width="0.5"/>
<path d="M152.50,427.01 L151.50,427.04 L150.50,427.06 L149.50,427.08 L148.50,427.10 L147.50,427.12 L146.50,427.14 L145.50,427.15 L144.50,427.17 L143.50,427.18 L142.50,427.18 L141.50,427.19 L140.50,427.19 L139.50,427.19 L138.50,427.18 L137.50,427.18 L136.50,427.17 L135.50,427.15 L134.50,427.14 L133.50,427.12 L132.50,427.09 L131.50,427.07 L130.50,427.04 L129.50,427.01 L129.00,426.99 L128.00,426.95 L127.00,426.91 L126.00,426.87 L125.00,426.83 L124.00,426.77 L123.00,426.72 L122.00,426.66 L121.00,426.59 L120.00,426.52 L119.50,426.48 L118.50,426.40 L117.50,426.32 L116.50,426.23 L115.50,426.14 L114.50,426.04 L114.00,425.99 L113.00,425.88 L112.00,425.78 L111.00,425.67 L110.00,425.58 L109.00,425.50 L108.50,425.47 L107.50,425.43 L106.50,425.42 L105.50,425.45 L104.63,425.50 L104.00,425.55 L103.00,425.64 L102.00,425.74 L101.00,425.85 L100.00,425.95 L99.49,426.00 L98.50,426.10 L97.50,426.19 L96.50,426.27 L95.50,426.33 L94.50,426.39 L93.50,426.43 L92.50,426.46 L91.50,426.48 L90.50,426.47 L89.50,426.45 L88.50,426.39 L87.50,426.29 L86.50,426.15 L85.74,426.00 L85.00,425.84 L84.00,425.55 L83.50,425.38 L82.55,425.00 L82.00,424.75 L81.50,424.47 L80.74,424.00 L80.07,423.50 L79.52,423.00 L79.05,422.50 L78.65,422.00 L78.31,421.50 L78.00,420.93 L77.59,420.00 L77.43,419.50 L77.20,418.50 L77.09,417.50 L77.12,416.50 L77.28,415.50 L77.50,414.76 L77.80,414.00 L78.06,413.50 L78.50,412.82 L79.00,412.18 L79.50,411.64 L80.00,411.18 L80.50,410.78 L81.00,410.43 L81.73,410.00 L82.50,409.61 L83.00,409.40 L84.00,409.05 L84.50,408.91 L85.50,408.69 L86.50,408.56 L87.50,408.50 L88.00,408.50 L88.50,408.51 L89.50,408.58 L90.50,408.71 L91.50,408.91 L92.00,409.04 L93.00,409.31 L93.57,409.50 L94.50,409.82 L95.00,410.01 L96.00,410.40 L96.50,410.61 L97.40,411.00 L98.00,411.26 L98.51,411.50 L99.50,411.97 L100.00,412.21 L100.54,412.50 L101.42,413.00 L102.00,413.37 L102.50,413.72 L103.00,414.11 L103.50,414.54 L104.00,415.04 L104.50,415.63 L105.00,416.33 L105.42,417.00 L105.71,417.50 L106.01,418.00 L106.50,418.71 L107.00,419.26 L107.50,419.66 L108.08,420.00 L109.00,420.34 L109.77,420.50 L110.50,420.59 L111.50,420.63 L112.50,420.62 L113.50,420.57 L114.50,420.51 L115.00,420.47 L116.00,420.39 L117.00,420.31 L118.00,420.23 L119.00,420.15 L120.00,420.08 L121.00,420.01 L121.50,419.98 L122.50,419.91 L123.50,419.85 L124.50,419.80 L125.50,419.75 L126.50,419.70 L127.50,419.66 L128.50,419.62 L129.50,419.59 L130.50,419.56 L131.50,419.53 L132.50,419.51 L133.00,419.50 L134.00,419.48 L135.00,419.46 L136.00,419.44 L137.00,419.43 L138.00,419.42 L139.00,419.42 L140.00,419.42 L141.00,419.42 L142.00,419.42 L143.00,419.42 L144.00,419.43 L145.00,419.44 L146.00,419.46 L147.00,419.47 L148.00,419.49 L148.50,419.50 L149.50,419.52 L150.50,419.54 L151.50,419.56 L152.50,419.59 L153.50,419.61 L154.50,419.64 L155.50,419.66 L156.50,419.69 L157.50,419.71 L158.50,419.74 L159.50,419.76 L160.50,419.78 L161.50,419.80 L162.50,419.82 L163.50,419.83 L164.50,419.84 L165.50,419.84 L166.50,419.85 L167.50,419.85 L168.50,419.84 L169.50,419.84 L170.50,419.83 L171.50,419.82 L172.50,419.81 L173.50,419.80 L174.50,419.79 L175.50,419.78 L176.50,419.77 L177.50,419.76 L178.50,419.76 L179.50,419.75 L180.50,419.75 L181.50,419.76 L182.50,419.77 L183.50,419.78 L184.50,419.80 L185.50,419.83 L186.50,419.86 L187.50,419.90 L188.50,419.95 L189.43,420.00 L190.00,420.03 L191.00,420.10 L192.00,420.17 L193.00,420.26 L194.00,420.35 L195.00,420.46 L195.50,420.52 L196.50,420.63 L197.50,420.73 L198.50,420.81 L199.50,420.84 L200.50,420.84 L201.50,420.82 L202.50,420.81 L203.50,420.86 L204.47,421.00 L205.00,421.12 L206.00,421.48 L206.50,421.76 L207.00,422.13 L207.50,422.81 L207.61,423.50 L207.42,424.00 L206.98,424.50 L206.24,425.00 L205.50,425.32 L204.91,425.50 L204.00,425.68 L203.00,425.77 L202.00,425.79 L201.00,425.77 L200.00,425.76 L199.00,425.77 L198.00,425.83 L197.00,425.92 L196.26,426.00 L195.50,426.09 L194.50,426.20 L193.50,426.30 L192.50,426.39 L191.50,426.47 L191.00,426.50 L190.00,426.57 L189.00,426.63 L188.00,426.68 L187.00,426.72 L186.00,426.76 L185.00,426.78 L184.00,426.81 L183.00,426.82 L182.00,426.84 L181.00,426.84 L180.00,426.84 L179.00,426.84 L178.00,426.84 L177.00,426.83 L176.00,426.83 L175.00,426.82 L174.00,426.81 L173.00,426.79 L172.00,426.78 L171.00,426.77 L170.00,426.76 L169.00,426.76 L168.00,426.75 L167.00,426.75 L166.00,426.75 L165.00,426.76 L164.00,426.77 L163.00,426.78 L162.00,426.79 L161.00,426.81 L160.00,426.83 L159.00,426.85 L158.00,426.87 L157.00,426.90 L156.00,426.92 L155.00,426.95 L154.00,426.97 L153.00,427.00 L152.50,427.01 Z" fill="none" stroke="#fde7a0" stroke-width="0.5"/>
<path d="M94.50,425.52 L93.50,425.58 L92.50,425.63 L91.50,425.65 L90.50,425.65 L89.50,425.62 L88.50,425.55 L87.98,425.50 L87.00,425.38 L86.00,425.19 L85.25,425.00 L84.50,424.78 L83.73,424.50 L83.00,424.19 L82.50,423.93 L81.78,423.50 L81.09,423.00 L80.52,422.50 L80.04,422.00 L79.64,421.50 L79.30,421.00 L79.00,420.47 L78.58,419.50 L78.43,419.00 L78.22,418.00 L78.17,417.00 L78.27,416.00 L78.50,415.12 L78.73,414.50 L79.00,413.96 L79.50,413.17 L80.00,412.55 L80.50,412.04 L81.00,411.61 L81.50,411.24 L82.00,410.91 L82.77,410.50 L83.50,410.17 L84.00,409.99 L85.00,409.69 L86.00,409.50 L86.50,409.43 L87.50,409.35 L88.50,409.36 L89.50,409.44 L90.00,409.50 L91.00,409.67 L92.00,409.92 L92.50,410.06 L93.50,410.38 L94.00,410.56 L95.00,410.95 L95.50,411.16 L96.28,411.50 L97.00,411.82 L97.50,412.06 L98.39,412.50 L99.00,412.81 L99.50,413.09 L100.20,413.50 L100.97,414.00 L101.50,414.39 L102.00,414.81 L102.50,415.29 L103.00,415.86 L103.47,416.50 L103.78,417.00 L104.04,417.50 L104.50,418.48 L104.74,419.00 L105.00,419.53 L105.50,420.36 L106.00,421.00 L106.48,421.50 L107.00,421.97 L107.50,422.39 L108.00,422.96 L108.00,423.02 L107.00,423.36 L106.50,423.53 L105.50,423.77 L104.61,424.00 L104.00,424.13 L103.00,424.35 L102.31,424.50 L101.50,424.65 L100.50,424.83 L99.50,424.99 L99.00,425.06 L98.00,425.19 L97.00,425.31 L96.00,425.40 L95.00,425.48 L94.50,425.52 Z" fill="none" stroke="#fde7a0" stroke-width="0.5"/>
<path d="M183.50,426.01 L182.50,426.03 L181.50,426.04 L180.50,426.04 L179.50,426.04 L178.50,426.03 L177.50,426.02 L176.50,426.01 L175.96,426.00 L175.00,425.98 L174.00,425.97 L173.00,425.95 L172.00,425.93 L171.00,425.91 L170.00,425.89 L169.00,425.88 L168.00,425.87 L167.00,425.86 L166.00,425.86 L165.00,425.86 L164.00,425.87 L163.00,425.88 L162.00,425.89 L161.00,425.91 L160.00,425.94 L159.00,425.96 L158.00,425.99 L157.50,426.01 L156.50,426.04 L155.50,426.07 L154.50,426.10 L153.50,426.13 L152.50,426.17 L151.50,426.20 L150.50,426.23 L149.50,426.25 L148.50,426.28 L147.50,426.30 L146.50,426.32 L145.50,426.34 L144.50,426.35 L143.50,426.36 L142.50,426.37 L141.50,426.38 L140.50,426.38 L139.50,426.38 L138.50,426.37 L137.50,426.36 L136.50,426.35 L135.50,426.34 L134.50,426.32 L133.50,426.29 L132.50,426.26 L131.50,426.23 L130.50,426.20 L129.50,426.16 L128.50,426.11 L127.50,426.06 L126.50,426.00 L126.00,425.97 L125.00,425.91 L124.00,425.84 L123.00,425.76 L122.00,425.67 L121.00,425.58 L120.16,425.50 L119.50,425.42 L118.50,425.30 L117.50,425.17 L116.50,425.03 L116.00,424.95 L115.00,424.77 L114.00,424.58 L113.50,424.48 L112.50,424.21 L111.65,424.00 L111.00,423.74 L110.24,423.50 L109.71,423.00 L110.50,422.79 L111.35,422.50 L112.00,422.38 L113.00,422.17 L113.77,422.00 L114.50,421.88 L115.50,421.72 L116.50,421.56 L117.00,421.48 L118.00,421.35 L119.00,421.23 L120.00,421.12 L121.00,421.02 L121.50,420.97 L122.50,420.88 L123.50,420.80 L124.50,420.73 L125.50,420.66 L126.50,420.60 L127.50,420.54 L128.33,420.50 L129.00,420.47 L130.00,420.42 L131.00,420.38 L132.00,420.35 L133.00,420.32 L134.00,420.29 L135.00,420.27 L136.00,420.25 L137.00,420.24 L138.00,420.23 L139.00,420.22 L140.00,420.22 L141.00,420.22 L142.00,420.22 L143.00,420.23 L144.00,420.24 L145.00,420.25 L146.00,420.27 L147.00,420.29 L148.00,420.31 L149.00,420.33 L150.00,420.36 L151.00,420.39 L152.00,420.42 L153.00,420.45 L154.00,420.48 L154.53,420.50 L155.50,420.53 L156.50,420.56 L157.50,420.59 L158.50,420.62 L159.50,420.65 L160.50,420.68 L161.50,420.70 L162.50,420.71 L163.50,420.73 L164.50,420.74 L165.50,420.74 L166.50,420.74 L167.50,420.73 L168.50,420.73 L169.50,420.71 L170.50,420.70 L171.50,420.68 L172.50,420.66 L173.50,420.64 L174.50,420.63 L175.50,420.61 L176.50,420.59 L177.50,420.58 L178.50,420.57 L179.50,420.56 L180.50,420.56 L181.50,420.56 L182.50,420.57 L183.50,420.59 L184.50,420.61 L185.50,420.64 L186.50,420.68 L187.50,420.73 L188.50,420.79 L189.50,420.86 L190.50,420.94 L191.11,421.00 L192.00,421.10 L193.00,421.22 L194.00,421.36 L194.90,421.50 L195.50,421.61 L196.50,421.80 L197.50,421.97 L198.00,422.05 L199.00,422.15 L200.00,422.14 L201.00,422.06 L201.68,422.00 L202.50,421.97 L203.08,422.00 L204.00,422.17 L204.79,422.50 L205.26,423.00 L205.00,423.92 L204.50,424.24 L203.75,424.50 L203.00,424.60 L202.00,424.61 L201.00,424.54 L200.37,424.50 L199.50,424.45 L198.55,424.50 L198.00,424.55 L197.00,424.71 L196.00,424.90 L195.48,425.00 L194.50,425.16 L193.50,425.31 L192.50,425.45 L192.00,425.51 L191.00,425.61 L190.00,425.70 L189.00,425.77 L188.00,425.84 L187.00,425.89 L186.00,425.94 L185.00,425.97 L184.00,426.00 L183.50,426.01 Z" fill="none" stroke="#fde7a0" stroke-width="0.5"/>
<path d="M96.00,424.54 L95.00,424.65 L94.00,424.75 L93.00,424.82 L92.00,424.87 L91.00,424.89 L90.00,424.88 L89.00,424.84 L88.00,424.74 L87.00,424.60 L86.50,424.50 L85.50,424.26 L84.72,424.00 L84.00,423.72 L83.50,423.49 L82.63,423.00 L82.00,422.56 L81.50,422.15 L81.00,421.66 L80.50,421.05 L80.12,420.50 L79.84,420.00 L79.50,419.16 L79.30,418.50 L79.16,417.50 L79.18,416.50 L79.38,415.50 L79.55,415.00 L80.00,414.09 L80.39,413.50 L80.80,413.00 L81.30,412.50 L81.91,412.00 L82.50,411.60 L83.00,411.31 L83.64,411.00 L84.50,410.66 L85.07,410.50 L86.00,410.29 L87.00,410.16 L88.00,410.12 L89.00,410.15 L90.00,410.27 L91.00,410.46 L91.50,410.58 L92.50,410.86 L93.00,411.03 L94.00,411.40 L94.50,411.60 L95.41,412.00 L96.00,412.27 L96.50,412.51 L97.45,413.00 L98.00,413.29 L98.50,413.58 L99.19,414.00 L99.92,414.50 L100.50,414.96 L101.00,415.41 L101.50,415.93 L101.94,416.50 L102.26,417.00 L102.52,417.50 L102.91,418.50 L103.06,419.00 L103.29,420.00 L103.39,421.00 L103.17,422.00 L102.78,422.50 L102.07,423.00 L101.50,423.27 L100.92,423.50 L100.00,423.78 L99.14,424.00 L98.50,424.14 L97.50,424.32 L96.50,424.47 L96.00,424.54 Z" fill="none" stroke="#fde7a0" stroke-width="0.5"/>
<path d="M143.50,425.50 L142.50,425.52 L141.50,425.52 L140.50,425.52 L139.50,425.52 L138.50,425.52 L137.50,425.50 L137.00,425.50 L136.00,425.48 L135.00,425.45 L134.00,425.42 L133.00,425.38 L132.00,425.33 L131.00,425.28 L130.00,425.23 L129.00,425.16 L128.00,425.09 L127.00,425.01 L126.50,424.96 L125.50,424.86 L124.50,424.74 L123.50,424.60 L122.76,424.50 L122.00,424.34 L121.00,424.11 L120.50,423.98 L119.56,423.50 L120.00,422.86 L120.87,422.50 L121.50,422.37 L122.50,422.17 L123.39,422.00 L124.00,421.92 L125.00,421.80 L126.00,421.69 L127.00,421.59 L128.00,421.50 L128.50,421.47 L129.50,421.40 L130.50,421.34 L131.50,421.29 L132.50,421.24 L133.50,421.20 L134.50,421.17 L135.50,421.14 L136.50,421.12 L137.50,421.10 L138.50,421.09 L139.50,421.08 L140.50,421.08 L141.50,421.08 L142.50,421.09 L143.50,421.10 L144.50,421.11 L145.50,421.14 L146.50,421.16 L147.50,421.19 L148.50,421.22 L149.50,421.26 L150.50,421.29 L151.50,421.33 L152.50,421.38 L153.50,421.42 L154.50,421.47 L155.24,421.50 L156.00,421.54 L157.00,421.59 L158.00,421.64 L159.00,421.68 L160.00,421.72 L161.00,421.75 L162.00,421.78 L163.00,421.80 L164.00,421.81 L165.00,421.82 L166.00,421.81 L167.00,421.80 L168.00,421.78 L169.00,421.76 L170.00,421.73 L171.00,421.70 L172.00,421.66 L173.00,421.62 L174.00,421.59 L175.00,421.55 L176.00,421.52 L176.63,421.50 L177.50,421.48 L178.50,421.46 L179.50,421.45 L180.50,421.45 L181.50,421.45 L182.50,421.46 L183.50,421.48 L184.21,421.50 L185.00,421.53 L186.00,421.59 L187.00,421.66 L188.00,421.74 L189.00,421.85 L190.00,421.97 L190.50,422.05 L191.50,422.26 L192.50,422.49 L193.00,422.73 L193.54,423.00 L193.50,423.58 L192.81,424.00 L192.00,424.22 L191.00,424.46 L190.50,424.55 L189.50,424.69 L188.50,424.81 L187.50,424.91 L186.50,424.99 L186.00,425.02 L185.00,425.07 L184.00,425.10 L183.00,425.13 L182.00,425.14 L181.00,425.15 L180.00,425.15 L179.00,425.14 L178.00,425.13 L177.00,425.10 L176.00,425.08 L175.00,425.05 L174.00,425.02 L173.43,425.00 L172.50,424.96 L171.50,424.93 L170.50,424.89 L169.50,424.86 L168.50,424.83 L167.50,424.80 L166.50,424.79 L165.50,424.78 L164.50,424.78 L163.50,424.79 L162.50,424.81 L161.50,424.83 L160.50,424.86 L159.50,424.90 L158.50,424.95 L157.50,424.99 L157.00,425.02 L156.00,425.06 L155.00,425.11 L154.00,425.15 L153.00,425.20 L152.00,425.24 L151.00,425.28 L150.00,425.33 L149.00,425.36 L148.00,425.40 L147.00,425.43 L146.00,425.46 L145.00,425.48 L144.00,425.50 L143.50,425.50 Z" fill="none" stroke="#fde7a0" stroke-width="0.5"/>
<path d="M92.50,424.01 L91.50,424.07 L90.50,424.09 L89.50,424.06 L88.61,424.00 L88.00,423.94 L87.00,423.78 L86.00,423.53 L85.50,423.38 L84.51,423.00 L84.00,422.76 L83.50,422.48 L82.79,422.00 L82.19,421.50 L81.70,421.00 L81.30,420.50 L80.97,420.00 L80.50,419.00 L80.34,418.50 L80.18,417.50 L80.20,416.50 L80.43,415.50 L80.62,415.00 L81.00,414.31 L81.50,413.63 L82.00,413.10 L82.50,412.67 L83.00,412.32 L83.54,412.00 L84.50,411.56 L85.00,411.38 L86.00,411.12 L86.76,411.00 L87.50,410.93 L88.50,410.92 L89.48,411.00 L90.00,411.07 L91.00,411.27 L91.85,411.50 L92.50,411.70 L93.30,412.00 L94.00,412.28 L94.50,412.51 L95.50,412.99 L96.00,413.24 L96.50,413.52 L97.33,414.00 L98.00,414.43 L98.50,414.78 L99.00,415.17 L99.50,415.61 L100.00,416.14 L100.50,416.79 L100.90,417.50 L101.10,418.00 L101.33,419.00 L101.34,420.00 L101.05,421.00 L100.74,421.50 L100.23,422.00 L99.50,422.47 L99.00,422.70 L98.22,423.00 L97.50,423.22 L96.50,423.46 L96.00,423.56 L95.00,423.73 L94.00,423.87 L93.00,423.97 L92.50,424.01 Z" fill="none" stroke="#fde7a0" stroke-width="0.5"/>
<path d="M145.50,424.02 L144.50,424.06 L143.50,424.10 L142.50,424.12 L141.50,424.14 L140.50,424.15 L139.50,424.14 L138.50,424.12 L137.50,424.09 L136.50,424.05 L135.50,424.00 L135.00,423.94 L134.00,423.79 L133.00,423.62 L132.38,423.50 L132.66,423.00 L133.50,422.87 L134.50,422.74 L135.50,422.63 L136.50,422.55 L137.15,422.50 L138.00,422.47 L139.00,422.45 L140.00,422.44 L141.00,422.44 L142.00,422.45 L143.00,422.47 L144.00,422.50 L144.50,422.53 L145.50,422.61 L146.50,422.70 L147.50,422.81 L148.50,422.93 L149.07,423.00 L149.00,423.57 L148.00,423.72 L147.00,423.86 L146.00,423.98 L145.50,424.02 Z" fill="none" stroke="#fde7a0" stroke-width="0.5"/>
<path d="M94.00,423.05 L93.00,423.20 L92.00,423.30 L91.00,423.36 L90.00,423.37 L89.00,423.33 L88.00,423.23 L87.00,423.05 L86.50,422.92 L85.50,422.61 L85.00,422.40 L84.21,422.00 L83.50,421.54 L83.00,421.14 L82.50,420.65 L82.00,420.02 L81.67,419.50 L81.43,419.00 L81.13,418.00 L81.05,417.00 L81.19,416.00 L81.50,415.17 L81.87,414.50 L82.26,414.00 L82.74,413.50 L83.37,413.00 L84.00,412.61 L84.50,412.35 L85.44,412.00 L86.00,411.85 L87.00,411.67 L88.00,411.60 L89.00,411.64 L90.00,411.76 L91.00,411.98 L91.50,412.11 L92.50,412.45 L93.00,412.64 L93.83,413.00 L94.50,413.32 L95.00,413.59 L95.74,414.00 L96.50,414.48 L97.00,414.82 L97.50,415.20 L98.00,415.62 L98.50,416.11 L99.00,416.73 L99.45,417.50 L99.64,418.00 L99.79,419.00 L99.62,420.00 L99.39,420.50 L99.00,421.01 L98.45,421.50 L97.62,422.00 L97.00,422.27 L96.34,422.50 L95.50,422.74 L94.50,422.96 L94.00,423.05 Z" fill="none" stroke="#fde7a0" stroke-width="0.5"/>
<path d="M91.50,422.51 L90.50,422.58 L89.50,422.58 L88.50,422.50 L88.00,422.44 L87.00,422.24 L86.20,422.00 L85.50,421.73 L85.00,421.48 L84.22,421.00 L83.61,420.50 L83.13,420.00 L82.76,419.50 L82.47,419.00 L82.12,418.00 L82.03,417.00 L82.20,416.00 L82.50,415.28 L83.00,414.52 L83.50,414.00 L84.00,413.60 L84.50,413.28 L85.06,413.00 L86.00,412.66 L86.70,412.50 L87.50,412.39 L88.50,412.36 L89.50,412.45 L90.00,412.52 L91.00,412.75 L91.78,413.00 L92.50,413.27 L93.02,413.50 L94.00,413.99 L94.50,414.28 L95.00,414.59 L95.60,415.00 L96.24,415.50 L96.79,416.00 L97.24,416.50 L97.59,417.00 L98.00,417.96 L98.09,418.50 L98.00,419.23 L97.67,420.00 L97.26,420.50 L96.65,421.00 L96.00,421.37 L95.50,421.60 L94.50,421.95 L94.00,422.09 L93.00,422.31 L92.00,422.46 L91.50,422.51 Z" fill="none" stroke="#fde7a0" stroke-width="0.5"/>
<path d="M92.00,421.56 L91.00,421.70 L90.00,421.76 L89.00,421.74 L88.00,421.62 L87.41,421.50 L86.50,421.23 L85.94,421.00 L85.04,420.50 L84.50,420.08 L84.00,419.58 L83.58,419.00 L83.32,418.50 L83.06,417.50 L83.11,416.50 L83.49,415.50 L83.83,415.00 L84.31,414.50 L84.99,414.00 L85.50,413.73 L86.06,413.50 L87.00,413.26 L88.00,413.15 L89.00,413.17 L90.00,413.31 L90.77,413.50 L91.50,413.74 L92.14,414.00 L93.00,414.42 L93.50,414.71 L94.00,415.03 L94.63,415.50 L95.18,416.00 L95.63,416.50 L96.00,417.04 L96.35,418.00 L96.26,419.00 L96.00,419.52 L95.50,420.09 L94.95,420.50 L94.00,420.99 L93.50,421.17 L92.50,421.46 L92.00,421.56 Z" fill="none" stroke="#fde7a0" stroke-width="0.5"/>
<path d="M92.00,420.60 L91.00,420.82 L90.00,420.93 L89.00,420.92 L88.00,420.79 L87.00,420.53 L86.50,420.32 L85.89,420.00 L85.22,419.50 L84.75,419.00 L84.42,418.50 L84.10,417.50 L84.17,416.50 L84.50,415.76 L85.00,415.14 L85.50,414.74 L86.00,414.45 L87.00,414.09 L87.50,413.99 L88.50,413.93 L89.39,414.00 L90.00,414.11 L91.00,414.41 L91.50,414.61 L92.27,415.00 L93.00,415.47 L93.50,415.88 L94.00,416.39 L94.44,417.00 L94.65,417.50 L94.69,418.50 L94.48,419.00 L94.00,419.57 L93.42,420.00 L92.50,420.43 L92.00,420.60 Z" fill="none" stroke="#fde7a0" stroke-width="0.5"/>
<path d="M90.50,420.02 L89.50,420.11 L88.50,420.05 L88.00,419.96 L87.00,419.62 L86.50,419.34 L86.00,418.97 L85.50,418.36 L85.17,417.50 L85.28,416.50 L85.54,416.00 L86.02,415.50 L86.91,415.00 L87.50,414.83 L88.50,414.73 L89.50,414.82 L90.24,415.00 L91.00,415.30 L91.50,415.56 L92.13,416.00 L92.65,416.50 L93.00,417.01 L93.22,418.00 L93.00,418.61 L92.50,419.17 L92.00,419.52 L91.00,419.90 L90.50,420.02 Z" fill="none" stroke="#fde7a0" stroke-width="0.5"/>
<path d="M90.50,419.08 L89.50,419.27 L88.50,419.22 L87.70,419.00 L87.00,418.60 L86.50,418.07 L86.27,417.50 L86.45,416.50 L86.94,416.00 L87.50,415.72 L88.50,415.52 L89.50,415.63 L90.50,415.99 L91.00,416.33 L91.50,416.84 L91.80,417.50 L91.50,418.45 L91.00,418.84 L90.50,419.08 Z" fill="none" stroke="#fde7a0" stroke-width="0.5"/>
<path d="M155.50,429.00 L154.50,429.01 L153.50,429.03 L152.50,429.03 L151.50,429.04 L150.50,429.04 L149.50,429.04 L148.50,429.03 L147.50,429.02 L146.50,429.01 L146.00,429.00 L145.00,428.98 L144.00,428.96 L143.00,428.94 L142.00,428.91 L141.00,428.89 L140.00,428.86 L139.00,428.83 L138.00,428.81 L137.00,428.79 L136.00,428.77 L135.00,428.76 L134.00,428.75 L133.00,428.75 L132.00,428.76 L131.00,428.76 L130.00,428.77 L129.00,428.78 L128.00,428.79 L127.00,428.79 L126.00,428.79 L125.00,428.78 L124.00,428.76 L123.00,428.73 L122.00,428.68 L121.00,428.62 L120.00,428.53 L119.50,428.48 L118.50,428.37 L117.50,428.24 L116.50,428.07 L116.00,427.98 L115.00,427.79 L114.00,427.55 L113.50,427.43 L112.50,427.16 L111.99,427.00 L111.00,426.69 L110.47,426.50 L109.50,426.15 L109.00,425.94 L108.00,425.51 L107.50,425.29 L106.91,425.00 L106.00,424.53 L105.50,424.26 L105.00,423.97 L104.23,423.50 L103.50,423.02 L103.00,422.68 L102.50,422.31 L102.00,421.94 L101.44,421.50 L100.79,421.00 L100.10,420.50 L99.50,420.14 L99.00,419.97 L98.33,420.00 L97.50,420.48 L97.02,421.00 L96.64,421.50 L96.29,422.00 L95.93,422.50 L95.50,423.10 L95.00,423.69 L94.50,424.13 L93.50,424.42 L92.75,424.00 L92.29,423.50 L91.95,423.00 L91.50,422.12 L91.24,421.50 L91.00,420.86 L90.72,420.00 L90.50,419.28 L90.28,418.50 L90.04,417.50 L89.92,417.00 L89.70,416.00 L89.51,415.00 L89.41,414.50 L89.23,413.50 L89.07,412.50 L89.00,411.97 L88.85,411.00 L88.71,410.00 L88.58,409.00 L88.50,408.26 L88.40,407.50 L88.28,406.50 L88.17,405.50 L88.08,404.50 L88.00,403.63 L87.93,403.00 L87.83,402.00 L87.74,401.00 L87.65,400.00 L87.58,399.00 L87.51,398.00 L87.47,397.50 L87.39,396.50 L87.31,395.50 L87.25,394.50 L87.18,393.50 L87.13,392.50 L87.08,391.50 L87.04,390.50 L87.00,389.50 L86.98,389.00 L86.94,388.00 L86.91,387.00 L86.88,386.00 L86.86,385.00 L86.85,384.00 L86.84,383.00 L86.84,382.00 L86.85,381.00 L86.86,380.00 L86.88,379.00 L86.91,378.00 L86.94,377.00 L86.99,376.00 L87.01,375.50 L87.05,374.50 L87.10,373.50 L87.16,372.50 L87.23,371.50 L87.30,370.50 L87.39,369.50 L87.49,368.50 L87.54,368.00 L87.63,367.00 L87.73,366.00 L87.85,365.00 L87.98,364.00 L88.04,363.50 L88.17,362.50 L88.31,361.50 L88.47,360.50 L88.55,360.00 L88.70,359.00 L88.88,358.00 L89.00,357.39 L89.16,356.50 L89.36,355.50 L89.50,354.90 L89.70,354.00 L89.95,353.00 L90.08,352.50 L90.36,351.50 L90.51,351.00 L90.84,350.00 L91.02,349.50 L91.44,348.50 L91.68,348.00 L92.00,347.42 L92.50,346.71 L93.00,346.23 L93.50,345.96 L94.48,346.00 L95.00,346.28 L95.50,346.69 L96.00,347.22 L96.50,347.83 L97.00,348.47 L97.42,349.00 L97.85,349.50 L98.32,350.00 L98.88,350.50 L99.50,350.92 L100.00,351.16 L100.90,351.50 L101.50,351.70 L102.27,352.00 L103.00,352.34 L103.50,352.63 L104.06,353.00 L104.71,353.50 L105.28,354.00 L105.80,354.50 L106.27,355.00 L106.72,355.50 L107.14,356.00 L107.54,356.50 L108.00,357.09 L108.50,357.77 L109.00,358.48 L109.37,359.00 L109.71,359.50 L110.04,360.00 L110.50,360.70 L111.00,361.46 L111.35,362.00 L111.68,362.50 L112.00,363.00 L112.50,363.78 L112.97,364.50 L113.30,365.00 L113.63,365.50 L114.00,366.08 L114.50,366.85 L114.92,367.50 L115.25,368.00 L115.56,368.50 L116.00,369.22 L116.46,370.00 L116.75,370.50 L117.02,371.00 L117.50,371.96 L117.76,372.50 L118.00,373.07 L118.36,374.00 L118.54,374.50 L118.84,375.50 L119.00,376.18 L119.17,377.00 L119.32,378.00 L119.41,379.00 L119.44,380.00 L119.41,381.00 L119.33,382.00 L119.20,383.00 L119.03,384.00 L118.93,384.50 L118.71,385.50 L118.50,386.42 L118.38,387.00 L118.24,388.00 L118.26,389.00 L118.50,389.75 L119.00,390.48 L119.50,390.89 L120.00,391.20 L120.54,391.50 L121.50,391.90 L122.00,392.09 L123.00,392.44 L123.50,392.60 L124.50,392.93 L125.00,393.09 L126.00,393.41 L126.50,393.57 L127.50,393.91 L128.00,394.08 L129.00,394.44 L129.50,394.62 L130.47,395.00 L131.00,395.20 L131.70,395.50 L132.50,395.83 L133.00,396.06 L133.94,396.50 L134.50,396.76 L135.00,397.01 L135.96,397.50 L136.50,397.77 L137.00,398.04 L137.86,398.50 L138.50,398.84 L139.00,399.11 L139.74,399.50 L140.50,399.90 L141.00,400.15 L141.70,400.50 L142.50,400.87 L143.00,401.10 L143.92,401.50 L144.50,401.73 L145.18,402.00 L146.00,402.29 L146.57,402.50 L147.50,402.80 L148.09,403.00 L149.00,403.27 L149.73,403.50 L150.50,403.72 L151.45,404.00 L152.00,404.15 L153.00,404.43 L153.50,404.57 L154.50,404.85 L155.03,405.00 L156.00,405.25 L156.89,405.50 L157.50,405.65 L158.50,405.92 L159.00,406.05 L160.00,406.30 L160.78,406.50 L161.50,406.67 L162.50,406.91 L163.00,407.03 L164.00,407.26 L165.00,407.50 L165.50,407.61 L166.50,407.84 L167.17,408.00 L168.00,408.18 L169.00,408.42 L169.50,408.54 L170.50,408.78 L171.33,409.00 L172.00,409.17 L173.00,409.44 L173.50,409.58 L174.50,409.88 L175.00,410.03 L176.00,410.36 L176.50,410.53 L177.50,410.90 L178.00,411.09 L178.97,411.50 L179.50,411.73 L180.05,412.00 L181.00,412.49 L181.50,412.77 L182.00,413.08 L182.63,413.50 L183.30,414.00 L183.89,414.50 L184.40,415.00 L184.83,415.50 L185.20,416.00 L185.50,416.52 L185.90,417.50 L186.01,418.00 L186.05,419.00 L185.98,419.50 L185.67,420.50 L185.43,421.00 L185.00,421.66 L184.50,422.28 L184.00,422.81 L183.50,423.26 L183.00,423.67 L182.50,424.03 L181.79,424.50 L181.00,424.96 L180.50,425.23 L179.94,425.50 L179.00,425.92 L178.50,426.13 L177.50,426.49 L177.00,426.67 L176.00,426.97 L175.50,427.12 L174.50,427.38 L173.97,427.50 L173.00,427.72 L172.00,427.91 L171.43,428.00 L170.50,428.16 L169.50,428.29 L168.50,428.41 L167.55,428.50 L167.00,428.55 L166.00,428.64 L165.00,428.71 L164.00,428.77 L163.00,428.82 L162.00,428.86 L161.00,428.89 L160.00,428.92 L159.00,428.94 L158.00,428.96 L157.00,428.98 L156.00,428.99 L155.50,429.00 Z" fill="none" stroke="#a02d69" stroke-width="0.95" opacity="1"/>
<path d="M166.00,427.00 L165.00,427.08 L164.00,427.14 L163.00,427.19 L162.00,427.23 L161.00,427.26 L160.00,427.29 L159.00,427.31 L158.00,427.32 L157.00,427.34 L156.00,427.35 L155.00,427.36 L154.00,427.37 L153.00,427.38 L152.00,427.38 L151.00,427.38 L150.00,427.38 L149.00,427.38 L148.00,427.37 L147.00,427.36 L146.00,427.35 L145.00,427.33 L144.00,427.31 L143.00,427.28 L142.00,427.25 L141.00,427.22 L140.00,427.19 L139.00,427.17 L138.00,427.14 L137.00,427.12 L136.00,427.10 L135.00,427.09 L134.00,427.08 L133.00,427.08 L132.00,427.08 L131.00,427.08 L130.00,427.09 L129.00,427.10 L128.00,427.11 L127.00,427.11 L126.00,427.11 L125.00,427.09 L124.00,427.07 L123.00,427.03 L122.50,427.00 L121.50,426.94 L120.50,426.86 L119.50,426.75 L118.50,426.62 L117.77,426.50 L117.00,426.38 L116.00,426.18 L115.24,426.00 L114.50,425.83 L113.50,425.54 L113.00,425.39 L112.00,425.06 L111.50,424.88 L110.54,424.50 L110.00,424.28 L109.40,424.00 L108.50,423.56 L108.00,423.30 L107.47,423.00 L106.64,422.50 L106.00,422.09 L105.50,421.74 L105.00,421.37 L104.50,420.98 L103.93,420.50 L103.37,420.00 L102.86,419.50 L102.37,419.00 L101.93,418.50 L101.50,417.99 L101.00,417.37 L100.50,416.73 L100.00,416.09 L99.50,415.51 L99.00,415.08 L98.50,414.89 L98.00,415.00 L97.40,415.50 L96.97,416.00 L96.50,416.65 L96.00,417.37 L95.53,418.00 L95.10,418.50 L94.52,419.00 L94.00,419.23 L93.11,419.00 L92.59,418.50 L92.26,418.00 L91.98,417.50 L91.55,416.50 L91.37,416.00 L91.05,415.00 L90.91,414.50 L90.66,413.50 L90.50,412.81 L90.32,412.00 L90.13,411.00 L90.00,410.23 L89.87,409.50 L89.71,408.50 L89.57,407.50 L89.50,406.93 L89.37,406.00 L89.24,405.00 L89.13,404.00 L89.03,403.00 L88.98,402.50 L88.87,401.50 L88.77,400.50 L88.69,399.50 L88.61,398.50 L88.54,397.50 L88.50,396.96 L88.42,396.00 L88.35,395.00 L88.29,394.00 L88.24,393.00 L88.19,392.00 L88.14,391.00 L88.11,390.00 L88.08,389.00 L88.05,388.00 L88.03,387.00 L88.01,386.00 L88.00,385.00 L88.00,384.18 L88.00,383.50 L88.00,382.74 L88.00,382.00 L88.01,381.00 L88.03,380.00 L88.05,379.00 L88.08,378.00 L88.11,377.00 L88.15,376.00 L88.20,375.00 L88.26,374.00 L88.33,373.00 L88.40,372.00 L88.49,371.00 L88.53,370.50 L88.61,369.50 L88.71,368.50 L88.81,367.50 L88.93,366.50 L89.00,366.00 L89.12,365.00 L89.25,364.00 L89.41,363.00 L89.50,362.46 L89.65,361.50 L89.83,360.50 L90.00,359.68 L90.14,359.00 L90.36,358.00 L90.50,357.44 L90.75,356.50 L91.00,355.63 L91.21,355.00 L91.50,354.19 L91.80,353.50 L92.04,353.00 L92.50,352.25 L93.00,351.69 L93.50,351.38 L94.50,351.44 L95.00,351.76 L95.50,352.26 L96.00,352.90 L96.41,353.50 L96.73,354.00 L97.04,354.50 L97.50,355.23 L98.00,355.98 L98.39,356.50 L98.83,357.00 L99.36,357.50 L100.00,357.96 L100.50,358.22 L101.12,358.50 L102.00,358.91 L102.50,359.18 L103.00,359.50 L103.65,360.00 L104.20,360.50 L104.68,361.00 L105.11,361.50 L105.50,362.00 L106.00,362.69 L106.50,363.46 L106.82,364.00 L107.11,364.50 L107.50,365.23 L107.88,366.00 L108.12,366.50 L108.50,367.35 L108.78,368.00 L109.00,368.57 L109.35,369.50 L109.53,370.00 L109.86,371.00 L110.01,371.50 L110.29,372.50 L110.50,373.34 L110.66,374.00 L110.86,375.00 L111.00,375.88 L111.09,376.50 L111.21,377.50 L111.28,378.50 L111.32,379.50 L111.32,380.50 L111.29,381.50 L111.21,382.50 L111.10,383.50 L111.00,384.21 L110.88,385.00 L110.70,386.00 L110.50,386.93 L110.38,387.50 L110.16,388.50 L110.00,389.18 L109.83,390.00 L109.64,391.00 L109.52,392.00 L109.54,393.00 L109.88,394.00 L110.34,394.50 L111.00,394.84 L111.53,395.00 L112.50,395.11 L113.50,395.14 L114.50,395.12 L115.50,395.09 L116.50,395.06 L117.50,395.04 L118.50,395.04 L119.50,395.07 L120.50,395.12 L121.50,395.19 L122.50,395.30 L123.50,395.45 L124.00,395.53 L125.00,395.71 L126.00,395.93 L126.50,396.05 L127.50,396.30 L128.16,396.50 L129.00,396.75 L129.72,397.00 L130.50,397.27 L131.09,397.50 L132.00,397.86 L132.50,398.08 L133.43,398.50 L134.00,398.76 L134.50,399.01 L135.48,399.50 L136.00,399.76 L136.50,400.03 L137.39,400.50 L138.00,400.82 L138.50,401.09 L139.29,401.50 L140.00,401.86 L140.50,402.11 L141.32,402.50 L142.00,402.81 L142.50,403.03 L143.50,403.44 L144.00,403.64 L144.96,404.00 L145.50,404.19 L146.40,404.50 L147.00,404.69 L147.97,405.00 L148.50,405.15 L149.50,405.46 L150.00,405.60 L151.00,405.89 L151.50,406.03 L152.50,406.30 L153.18,406.50 L154.00,406.72 L155.00,406.99 L155.50,407.12 L156.50,407.38 L157.00,407.52 L158.00,407.77 L158.90,408.00 L159.50,408.14 L160.50,408.39 L161.00,408.51 L162.00,408.74 L163.00,408.98 L163.50,409.10 L164.50,409.33 L165.22,409.50 L166.00,409.68 L167.00,409.92 L167.50,410.04 L168.50,410.28 L169.32,410.50 L170.00,410.67 L171.00,410.96 L171.50,411.10 L172.50,411.41 L173.00,411.57 L174.00,411.91 L174.50,412.10 L175.50,412.49 L176.00,412.70 L176.64,413.00 L177.50,413.43 L178.00,413.71 L178.50,414.01 L179.24,414.50 L179.88,415.00 L180.44,415.50 L180.90,416.00 L181.29,416.50 L181.59,417.00 L181.98,418.00 L182.07,418.50 L182.04,419.50 L181.92,420.00 L181.50,420.93 L181.13,421.50 L180.71,422.00 L180.20,422.50 L179.60,423.00 L179.00,423.42 L178.50,423.74 L178.00,424.03 L177.06,424.50 L176.50,424.75 L175.88,425.00 L175.00,425.32 L174.45,425.50 L173.50,425.78 L172.64,426.00 L172.00,426.15 L171.00,426.36 L170.17,426.50 L169.50,426.61 L168.50,426.75 L167.50,426.87 L166.50,426.96 L166.00,427.00 Z" fill="none" stroke="#a02d69" stroke-width="0.95" opacity="1"/>
<path d="M94.00,414.67 L93.32,414.50 L92.79,414.00 L92.45,413.50 L92.00,412.56 L91.80,412.00 L91.50,411.10 L91.34,410.50 L91.09,409.50 L90.97,409.00 L90.77,408.00 L90.58,407.00 L90.50,406.50 L90.33,405.50 L90.18,404.50 L90.05,403.50 L89.99,403.00 L89.86,402.00 L89.74,401.00 L89.64,400.00 L89.55,399.00 L89.50,398.44 L89.41,397.50 L89.33,396.50 L89.25,395.50 L89.19,394.50 L89.13,393.50 L89.08,392.50 L89.03,391.50 L89.00,390.66 L88.97,390.00 L88.94,389.00 L88.91,388.00 L88.88,387.00 L88.87,386.00 L88.86,385.00 L88.86,384.00 L88.86,383.00 L88.87,382.00 L88.89,381.00 L88.91,380.00 L88.94,379.00 L88.98,378.00 L89.01,377.50 L89.05,376.50 L89.10,375.50 L89.16,374.50 L89.23,373.50 L89.31,372.50 L89.40,371.50 L89.50,370.50 L89.55,370.00 L89.65,369.00 L89.77,368.00 L89.91,367.00 L90.00,366.36 L90.13,365.50 L90.29,364.50 L90.48,363.50 L90.57,363.00 L90.79,362.00 L91.00,361.10 L91.16,360.50 L91.45,359.50 L91.62,359.00 L92.00,358.01 L92.25,357.50 L92.52,357.00 L93.00,356.38 L93.65,356.00 L94.18,356.00 L94.99,356.50 L95.41,357.00 L95.76,357.50 L96.06,358.00 L96.50,358.81 L96.85,359.50 L97.09,360.00 L97.50,360.86 L97.83,361.50 L98.08,362.00 L98.50,362.79 L98.95,363.50 L99.33,364.00 L99.77,364.50 L100.33,365.00 L101.00,365.49 L101.50,365.83 L102.00,366.19 L102.50,366.60 L103.00,367.09 L103.50,367.68 L104.00,368.38 L104.38,369.00 L104.65,369.50 L105.00,370.22 L105.33,371.00 L105.52,371.50 L105.86,372.50 L106.01,373.00 L106.27,374.00 L106.48,375.00 L106.57,375.50 L106.73,376.50 L106.84,377.50 L106.92,378.50 L106.95,379.50 L106.95,380.50 L106.92,381.50 L106.84,382.50 L106.73,383.50 L106.58,384.50 L106.49,385.00 L106.28,386.00 L106.03,387.00 L105.89,387.50 L105.57,388.50 L105.40,389.00 L105.01,390.00 L104.79,390.50 L104.50,391.13 L104.04,392.00 L103.73,392.50 L103.40,393.00 L103.00,393.54 L102.50,394.12 L102.00,394.62 L101.50,395.11 L101.00,395.64 L100.50,396.32 L100.14,397.00 L99.91,397.50 L99.54,398.50 L99.40,399.00 L99.15,400.00 L99.00,400.55 L98.83,401.50 L98.64,402.50 L98.50,403.18 L98.38,404.00 L98.21,405.00 L98.00,405.99 L97.91,406.50 L97.69,407.50 L97.50,408.18 L97.29,409.00 L97.00,409.85 L96.78,410.50 L96.50,411.21 L96.16,412.00 L95.92,412.50 L95.50,413.26 L95.00,413.97 L94.50,414.45 L94.00,414.67 Z" fill="none" stroke="#a02d69" stroke-width="0.95" opacity="1"/>
<path d="M166.50,425.51 L165.50,425.61 L164.50,425.68 L163.50,425.74 L162.50,425.78 L161.50,425.82 L160.50,425.85 L159.50,425.87 L158.50,425.88 L157.50,425.90 L156.50,425.91 L155.50,425.92 L154.50,425.93 L153.50,425.94 L152.50,425.94 L151.50,425.95 L150.50,425.95 L149.50,425.95 L148.50,425.95 L147.50,425.94 L146.50,425.93 L145.50,425.91 L144.50,425.89 L143.50,425.87 L142.50,425.84 L141.50,425.82 L140.50,425.79 L139.50,425.76 L138.50,425.74 L137.50,425.72 L136.50,425.70 L135.50,425.69 L134.50,425.68 L133.50,425.68 L132.50,425.68 L131.50,425.69 L130.50,425.70 L129.50,425.71 L128.50,425.72 L127.50,425.73 L126.50,425.73 L125.50,425.72 L124.50,425.70 L123.50,425.66 L122.50,425.61 L121.50,425.53 L121.00,425.48 L120.00,425.38 L119.00,425.25 L118.00,425.09 L117.50,425.00 L116.50,424.80 L115.50,424.56 L115.00,424.43 L114.00,424.13 L113.50,423.97 L112.50,423.62 L112.00,423.42 L111.03,423.00 L110.50,422.76 L109.99,422.50 L109.07,422.00 L108.50,421.67 L108.00,421.35 L107.49,421.00 L106.80,420.50 L106.17,420.00 L105.60,419.50 L105.08,419.00 L104.60,418.50 L104.15,418.00 L103.75,417.50 L103.38,417.00 L103.00,416.44 L102.50,415.59 L102.19,415.00 L101.96,414.50 L101.57,413.50 L101.41,413.00 L101.14,412.00 L101.00,411.19 L100.90,410.50 L100.84,409.50 L100.87,408.50 L100.99,407.50 L101.07,407.00 L101.31,406.00 L101.50,405.42 L101.84,404.50 L102.07,404.00 L102.50,403.18 L102.93,402.50 L103.31,402.00 L103.76,401.50 L104.31,401.00 L105.00,400.51 L105.50,400.22 L106.00,399.98 L107.00,399.57 L107.50,399.39 L108.50,399.06 L109.00,398.90 L110.00,398.61 L110.50,398.47 L111.50,398.20 L112.35,398.00 L113.00,397.84 L114.00,397.63 L114.75,397.50 L115.50,397.37 L116.50,397.23 L117.50,397.13 L118.50,397.06 L119.50,397.03 L120.50,397.03 L121.50,397.06 L122.50,397.13 L123.50,397.24 L124.50,397.38 L125.14,397.50 L126.00,397.66 L127.00,397.90 L127.50,398.03 L128.50,398.32 L129.05,398.50 L130.00,398.82 L130.50,399.01 L131.50,399.41 L132.00,399.62 L132.83,400.00 L133.50,400.31 L134.00,400.56 L134.87,401.00 L135.50,401.32 L136.00,401.59 L136.76,402.00 L137.50,402.39 L138.00,402.66 L138.65,403.00 L139.50,403.43 L140.00,403.68 L140.67,404.00 L141.50,404.38 L142.00,404.59 L142.97,405.00 L143.50,405.20 L144.29,405.50 L145.00,405.75 L145.72,406.00 L146.50,406.25 L147.27,406.50 L148.00,406.72 L148.92,407.00 L149.50,407.16 L150.50,407.45 L151.00,407.59 L152.00,407.87 L152.50,408.01 L153.50,408.28 L154.29,408.50 L155.00,408.68 L156.00,408.95 L156.50,409.08 L157.50,409.33 L158.16,409.50 L159.00,409.70 L160.00,409.95 L160.50,410.07 L161.50,410.30 L162.30,410.50 L163.00,410.66 L164.00,410.90 L164.50,411.02 L165.50,411.26 L166.45,411.50 L167.00,411.64 L168.00,411.90 L168.50,412.04 L169.50,412.32 L170.07,412.50 L171.00,412.80 L171.58,413.00 L172.50,413.34 L173.00,413.54 L174.00,413.98 L174.50,414.23 L175.01,414.50 L175.85,415.00 L176.50,415.46 L177.00,415.87 L177.50,416.35 L178.00,416.95 L178.34,417.50 L178.55,418.00 L178.72,419.00 L178.55,420.00 L178.34,420.50 L178.00,421.04 L177.50,421.63 L177.00,422.09 L176.48,422.50 L175.70,423.00 L175.00,423.37 L174.50,423.61 L173.55,424.00 L173.00,424.20 L172.03,424.50 L171.50,424.65 L170.50,424.89 L169.96,425.00 L169.00,425.18 L168.00,425.33 L167.00,425.46 L166.50,425.51 Z" fill="none" stroke="#a02d69" stroke-width="0.95" opacity="1"/>
<path d="M94.50,410.68 L93.50,410.95 L92.96,410.50 L92.50,409.77 L92.18,409.00 L91.99,408.50 L91.69,407.50 L91.50,406.79 L91.32,406.00 L91.11,405.00 L91.00,404.40 L90.84,403.50 L90.69,402.50 L90.55,401.50 L90.48,401.00 L90.35,400.00 L90.24,399.00 L90.13,398.00 L90.04,397.00 L90.00,396.50 L89.91,395.50 L89.83,394.50 L89.77,393.50 L89.71,392.50 L89.66,391.50 L89.61,390.50 L89.58,389.50 L89.55,388.50 L89.52,387.50 L89.51,386.50 L89.50,385.93 L89.49,385.00 L89.49,384.00 L89.50,383.00 L89.50,382.50 L89.52,381.50 L89.54,380.50 L89.57,379.50 L89.61,378.50 L89.65,377.50 L89.71,376.50 L89.77,375.50 L89.84,374.50 L89.92,373.50 L90.00,372.71 L90.07,372.00 L90.17,371.00 L90.29,370.00 L90.42,369.00 L90.50,368.46 L90.65,367.50 L90.82,366.50 L91.00,365.55 L91.12,365.00 L91.35,364.00 L91.50,363.41 L91.78,362.50 L92.00,361.83 L92.36,361.00 L92.63,360.50 L93.00,359.96 L93.80,359.50 L94.09,359.50 L94.86,360.00 L95.26,360.50 L95.58,361.00 L96.00,361.79 L96.32,362.50 L96.53,363.00 L96.93,364.00 L97.12,364.50 L97.48,365.50 L97.66,366.00 L98.00,366.98 L98.20,367.50 L98.50,368.34 L98.77,369.00 L99.00,369.61 L99.40,370.50 L99.64,371.00 L100.00,371.71 L100.47,372.50 L100.79,373.00 L101.11,373.50 L101.50,374.14 L101.96,375.00 L102.18,375.50 L102.50,376.41 L102.66,377.00 L102.85,378.00 L102.97,379.00 L103.00,379.62 L103.00,380.44 L102.97,381.00 L102.86,382.00 L102.67,383.00 L102.50,383.65 L102.21,384.50 L102.00,385.04 L101.54,386.00 L101.29,386.50 L101.00,387.04 L100.53,388.00 L100.33,388.50 L100.00,389.29 L99.78,390.00 L99.50,390.82 L99.33,391.50 L99.06,392.50 L98.94,393.00 L98.73,394.00 L98.50,394.99 L98.41,395.50 L98.22,396.50 L98.02,397.50 L97.94,398.00 L97.77,399.00 L97.59,400.00 L97.49,400.50 L97.33,401.50 L97.15,402.50 L97.00,403.29 L96.87,404.00 L96.67,405.00 L96.50,405.73 L96.32,406.50 L96.04,407.50 L95.88,408.00 L95.51,409.00 L95.28,409.50 L95.00,410.04 L94.50,410.68 Z" fill="none" stroke="#a02d69" stroke-width="0.95" opacity="1"/>
<path d="M165.00,424.50 L164.00,424.58 L163.00,424.64 L162.00,424.69 L161.00,424.72 L160.00,424.75 L159.00,424.76 L158.00,424.78 L157.00,424.79 L156.00,424.81 L155.00,424.82 L154.00,424.83 L153.00,424.84 L152.00,424.85 L151.00,424.86 L150.00,424.86 L149.00,424.86 L148.00,424.86 L147.00,424.85 L146.00,424.84 L145.00,424.83 L144.00,424.81 L143.00,424.79 L142.00,424.76 L141.00,424.74 L140.00,424.71 L139.00,424.69 L138.00,424.67 L137.00,424.65 L136.00,424.64 L135.00,424.64 L134.00,424.64 L133.00,424.64 L132.00,424.66 L131.00,424.67 L130.00,424.69 L129.00,424.70 L128.00,424.72 L127.00,424.72 L126.00,424.72 L125.00,424.70 L124.00,424.67 L123.00,424.63 L122.00,424.56 L121.37,424.50 L120.50,424.42 L119.50,424.29 L118.50,424.13 L117.82,424.00 L117.00,423.84 L116.00,423.59 L115.50,423.46 L114.50,423.16 L114.00,422.99 L113.00,422.62 L112.50,422.42 L111.58,422.00 L111.00,421.72 L110.50,421.45 L109.71,421.00 L109.00,420.54 L108.50,420.20 L108.00,419.83 L107.50,419.42 L107.00,418.98 L106.49,418.50 L106.00,417.99 L105.50,417.41 L105.00,416.75 L104.50,416.00 L104.21,415.50 L103.95,415.00 L103.52,414.00 L103.34,413.50 L103.08,412.50 L102.99,412.00 L102.87,411.00 L102.85,410.00 L102.93,409.00 L103.01,408.50 L103.25,407.50 L103.50,406.76 L103.82,406.00 L104.08,405.50 L104.50,404.81 L105.00,404.12 L105.50,403.55 L106.00,403.05 L106.50,402.61 L107.00,402.22 L107.50,401.87 L108.09,401.50 L108.98,401.00 L109.50,400.74 L110.01,400.50 L111.00,400.08 L111.50,399.89 L112.50,399.54 L113.00,399.38 L114.00,399.10 L114.50,398.98 L115.50,398.75 L116.50,398.57 L117.02,398.50 L118.00,398.38 L119.00,398.30 L120.00,398.26 L121.00,398.26 L122.00,398.30 L123.00,398.38 L123.95,398.50 L124.50,398.58 L125.50,398.75 L126.50,398.97 L127.00,399.09 L128.00,399.37 L128.50,399.53 L129.50,399.86 L130.00,400.05 L131.00,400.44 L131.50,400.65 L132.26,401.00 L133.00,401.35 L133.50,401.60 L134.29,402.00 L135.00,402.37 L135.50,402.64 L136.16,403.00 L137.00,403.46 L137.50,403.72 L138.01,404.00 L138.98,404.50 L139.50,404.76 L140.00,405.01 L141.00,405.47 L141.50,405.69 L142.23,406.00 L143.00,406.31 L143.50,406.50 L144.50,406.87 L145.00,407.04 L146.00,407.38 L146.50,407.54 L147.50,407.85 L148.00,408.01 L149.00,408.30 L149.67,408.50 L150.50,408.73 L151.43,409.00 L152.00,409.15 L153.00,409.43 L153.50,409.57 L154.50,409.83 L155.11,410.00 L156.00,410.23 L157.00,410.49 L157.50,410.61 L158.50,410.86 L159.04,411.00 L160.00,411.23 L161.00,411.48 L161.50,411.60 L162.50,411.84 L163.15,412.00 L164.00,412.21 L165.00,412.46 L165.50,412.59 L166.50,412.85 L167.03,413.00 L168.00,413.28 L168.71,413.50 L169.50,413.76 L170.17,414.00 L171.00,414.32 L171.50,414.53 L172.48,415.00 L173.00,415.28 L173.50,415.58 L174.12,416.00 L174.73,416.50 L175.21,417.00 L175.59,417.50 L176.00,418.47 L176.07,419.00 L176.00,419.60 L175.63,420.50 L175.26,421.00 L174.76,421.50 L174.11,422.00 L173.50,422.37 L173.00,422.64 L172.19,423.00 L171.50,423.26 L170.76,423.50 L170.00,423.71 L169.00,423.94 L168.50,424.04 L167.50,424.21 L166.50,424.35 L165.50,424.46 L165.00,424.50 Z" fill="none" stroke="#a02d69" stroke-width="0.95" opacity="1"/>
<path d="M94.00,406.94 L93.00,406.51 L92.72,406.00 L92.47,405.50 L92.12,404.50 L91.97,404.00 L91.72,403.00 L91.50,402.00 L91.41,401.50 L91.23,400.50 L91.08,399.50 L91.00,398.95 L90.88,398.00 L90.76,397.00 L90.66,396.00 L90.56,395.00 L90.50,394.22 L90.44,393.50 L90.37,392.50 L90.31,391.50 L90.26,390.50 L90.22,389.50 L90.18,388.50 L90.16,387.50 L90.14,386.50 L90.13,385.50 L90.13,384.50 L90.13,383.50 L90.14,382.50 L90.16,381.50 L90.19,380.50 L90.23,379.50 L90.28,378.50 L90.33,377.50 L90.40,376.50 L90.48,375.50 L90.52,375.00 L90.61,374.00 L90.71,373.00 L90.83,372.00 L90.97,371.00 L91.04,370.50 L91.20,369.50 L91.39,368.50 L91.50,367.94 L91.72,367.00 L91.99,366.00 L92.16,365.50 L92.50,364.61 L92.84,364.00 L93.24,363.50 L94.00,363.16 L94.57,363.50 L95.00,364.00 L95.50,364.89 L95.77,365.50 L96.00,366.09 L96.32,367.00 L96.50,367.58 L96.77,368.50 L97.00,369.38 L97.16,370.00 L97.39,371.00 L97.50,371.52 L97.71,372.50 L97.90,373.50 L98.00,374.14 L98.15,375.00 L98.29,376.00 L98.41,377.00 L98.49,378.00 L98.54,378.50 L98.60,379.50 L98.64,380.50 L98.65,381.50 L98.63,382.50 L98.59,383.50 L98.53,384.50 L98.49,385.00 L98.42,386.00 L98.33,387.00 L98.23,388.00 L98.11,389.00 L98.00,389.83 L97.92,390.50 L97.80,391.50 L97.66,392.50 L97.51,393.50 L97.44,394.00 L97.30,395.00 L97.15,396.00 L97.00,396.89 L96.90,397.50 L96.74,398.50 L96.56,399.50 L96.47,400.00 L96.27,401.00 L96.06,402.00 L95.95,402.50 L95.70,403.50 L95.50,404.21 L95.23,405.00 L95.00,405.60 L94.50,406.49 L94.00,406.94 Z" fill="none" stroke="#a02d69" stroke-width="0.95" opacity="1"/>
<path d="M160.50,423.51 L159.50,423.54 L158.50,423.56 L157.50,423.58 L156.50,423.60 L155.50,423.62 L154.50,423.64 L153.50,423.66 L152.50,423.67 L151.50,423.69 L150.50,423.70 L149.50,423.71 L148.50,423.72 L147.50,423.72 L146.50,423.71 L145.50,423.71 L144.50,423.69 L143.50,423.68 L142.50,423.66 L141.50,423.64 L140.50,423.62 L139.50,423.60 L138.50,423.59 L137.50,423.58 L136.50,423.57 L135.50,423.57 L134.50,423.58 L133.50,423.59 L132.50,423.61 L131.50,423.63 L130.50,423.66 L129.50,423.68 L128.50,423.70 L127.50,423.72 L126.50,423.72 L125.50,423.72 L124.50,423.70 L123.50,423.66 L122.50,423.60 L121.50,423.51 L121.00,423.46 L120.00,423.34 L119.00,423.19 L118.04,423.00 L117.50,422.89 L116.50,422.65 L115.99,422.50 L115.00,422.20 L114.44,422.00 L113.50,421.64 L113.00,421.43 L112.10,421.00 L111.50,420.69 L111.00,420.41 L110.35,420.00 L109.62,419.50 L109.00,419.03 L108.50,418.61 L108.00,418.15 L107.50,417.64 L107.00,417.07 L106.55,416.50 L106.21,416.00 L105.90,415.50 L105.50,414.73 L105.18,414.00 L105.00,413.47 L104.75,412.50 L104.60,411.50 L104.57,410.50 L104.66,409.50 L104.86,408.50 L105.01,408.00 L105.40,407.00 L105.66,406.50 L106.00,405.93 L106.50,405.22 L107.00,404.62 L107.50,404.10 L108.00,403.65 L108.50,403.24 L109.00,402.87 L109.55,402.50 L110.38,402.00 L111.00,401.67 L111.50,401.43 L112.48,401.00 L113.00,400.79 L113.86,400.50 L114.50,400.30 L115.50,400.04 L116.00,399.92 L117.00,399.73 L118.00,399.58 L118.86,399.50 L119.50,399.45 L120.50,399.42 L121.50,399.43 L122.50,399.48 L123.00,399.53 L124.00,399.64 L125.00,399.80 L125.97,400.00 L126.50,400.12 L127.50,400.39 L128.00,400.54 L129.00,400.87 L129.50,401.05 L130.50,401.45 L131.00,401.66 L131.74,402.00 L132.50,402.36 L133.00,402.61 L133.74,403.00 L134.50,403.40 L135.00,403.68 L135.58,404.00 L136.48,404.50 L137.00,404.78 L137.50,405.06 L138.32,405.50 L139.00,405.85 L139.50,406.10 L140.33,406.50 L141.00,406.80 L141.50,407.03 L142.50,407.44 L143.00,407.64 L143.96,408.00 L144.50,408.19 L145.39,408.50 L146.00,408.70 L146.93,409.00 L147.50,409.17 L148.50,409.48 L149.00,409.63 L150.00,409.92 L150.50,410.07 L151.50,410.35 L152.03,410.50 L153.00,410.77 L153.83,411.00 L154.50,411.18 L155.50,411.45 L156.00,411.58 L157.00,411.85 L157.59,412.00 L158.50,412.23 L159.50,412.49 L160.00,412.61 L161.00,412.87 L161.52,413.00 L162.50,413.25 L163.47,413.50 L164.00,413.64 L165.00,413.91 L165.50,414.06 L166.50,414.36 L167.00,414.52 L168.00,414.86 L168.50,415.05 L169.50,415.47 L170.00,415.71 L170.55,416.00 L171.35,416.50 L171.98,417.00 L172.46,417.50 L172.80,418.00 L173.01,418.50 L173.03,419.50 L172.83,420.00 L172.49,420.50 L171.98,421.00 L171.26,421.50 L170.50,421.89 L170.00,422.10 L169.00,422.45 L168.50,422.59 L167.50,422.83 L166.61,423.00 L166.00,423.10 L165.00,423.22 L164.00,423.32 L163.00,423.40 L162.00,423.45 L161.00,423.50 L160.50,423.51 Z" fill="none" stroke="#a02d69" stroke-width="0.95" opacity="1"/>
<path d="M94.00,403.28 L93.16,403.00 L92.83,402.50 L92.50,401.78 L92.27,401.00 L92.00,400.02 L91.89,399.50 L91.70,398.50 L91.53,397.50 L91.46,397.00 L91.33,396.00 L91.21,395.00 L91.11,394.00 L91.02,393.00 L90.98,392.50 L90.91,391.50 L90.85,390.50 L90.80,389.50 L90.76,388.50 L90.73,387.50 L90.71,386.50 L90.70,385.50 L90.69,384.50 L90.70,383.50 L90.72,382.50 L90.74,381.50 L90.78,380.50 L90.82,379.50 L90.88,378.50 L90.95,377.50 L91.00,376.84 L91.07,376.00 L91.18,375.00 L91.29,374.00 L91.42,373.00 L91.50,372.49 L91.67,371.50 L91.87,370.50 L92.00,369.90 L92.25,369.00 L92.50,368.21 L92.83,367.50 L93.14,367.00 L94.00,366.51 L94.63,367.00 L95.00,367.55 L95.43,368.50 L95.61,369.00 L95.92,370.00 L96.06,370.50 L96.30,371.50 L96.50,372.43 L96.61,373.00 L96.79,374.00 L96.93,375.00 L97.00,375.51 L97.12,376.50 L97.23,377.50 L97.31,378.50 L97.37,379.50 L97.41,380.50 L97.43,381.50 L97.44,382.50 L97.43,383.50 L97.41,384.50 L97.37,385.50 L97.32,386.50 L97.26,387.50 L97.18,388.50 L97.10,389.50 L97.00,390.42 L96.94,391.00 L96.83,392.00 L96.71,393.00 L96.57,394.00 L96.50,394.50 L96.35,395.50 L96.19,396.50 L96.01,397.50 L95.91,398.00 L95.70,399.00 L95.50,399.88 L95.33,400.50 L95.03,401.50 L94.82,402.00 L94.50,402.70 L94.00,403.28 Z" fill="none" stroke="#a02d69" stroke-width="0.95" opacity="1"/>
<path d="M155.50,422.51 L154.50,422.53 L153.50,422.56 L152.50,422.59 L151.50,422.62 L150.50,422.64 L149.50,422.66 L148.50,422.68 L147.50,422.69 L146.50,422.70 L145.50,422.70 L144.50,422.69 L143.50,422.69 L142.50,422.68 L141.50,422.66 L140.50,422.65 L139.50,422.64 L138.50,422.64 L137.50,422.64 L136.50,422.64 L135.50,422.65 L134.50,422.67 L133.50,422.70 L132.50,422.73 L131.50,422.76 L130.50,422.79 L129.50,422.83 L128.50,422.86 L127.50,422.88 L126.50,422.89 L125.50,422.89 L124.50,422.87 L123.50,422.83 L122.50,422.77 L121.50,422.68 L120.50,422.56 L120.00,422.49 L119.00,422.33 L118.00,422.13 L117.48,422.00 L116.50,421.75 L115.71,421.50 L115.00,421.26 L114.33,421.00 L113.50,420.64 L113.00,420.41 L112.23,420.00 L111.50,419.57 L111.00,419.25 L110.50,418.90 L109.98,418.50 L109.40,418.00 L108.87,417.50 L108.40,417.00 L107.99,416.50 L107.50,415.83 L107.00,415.00 L106.74,414.50 L106.50,413.91 L106.20,413.00 L106.01,412.00 L105.96,411.50 L105.95,410.50 L106.00,409.95 L106.17,409.00 L106.50,408.00 L106.71,407.50 L107.00,406.94 L107.50,406.15 L108.00,405.50 L108.45,405.00 L108.96,404.50 L109.50,404.04 L110.00,403.65 L110.50,403.30 L111.00,402.98 L111.85,402.50 L112.50,402.17 L113.00,401.95 L114.00,401.55 L114.50,401.37 L115.50,401.07 L116.00,400.94 L117.00,400.72 L118.00,400.56 L118.50,400.49 L119.50,400.40 L120.50,400.35 L121.50,400.36 L122.50,400.41 L123.44,400.50 L124.00,400.57 L125.00,400.73 L126.00,400.94 L126.50,401.06 L127.50,401.34 L128.00,401.50 L129.00,401.84 L129.50,402.04 L130.50,402.45 L131.00,402.68 L131.68,403.00 L132.50,403.41 L133.00,403.67 L133.61,404.00 L134.50,404.50 L135.00,404.78 L135.50,405.07 L136.26,405.50 L137.00,405.92 L137.50,406.19 L138.06,406.50 L139.00,407.00 L139.50,407.25 L140.02,407.50 L141.00,407.96 L141.50,408.17 L142.27,408.50 L143.00,408.79 L143.54,409.00 L144.50,409.35 L145.00,409.52 L146.00,409.86 L146.50,410.03 L147.50,410.34 L148.00,410.50 L149.00,410.81 L149.64,411.00 L150.50,411.25 L151.33,411.50 L152.00,411.69 L153.00,411.98 L153.50,412.13 L154.50,412.41 L155.00,412.55 L156.00,412.83 L156.62,413.00 L157.50,413.24 L158.44,413.50 L159.00,413.65 L160.00,413.92 L160.50,414.06 L161.50,414.33 L162.11,414.50 L163.00,414.76 L163.83,415.00 L164.50,415.21 L165.37,415.50 L166.00,415.73 L166.68,416.00 L167.50,416.38 L168.00,416.65 L168.58,417.00 L169.21,417.50 L169.65,418.00 L169.99,419.00 L169.58,420.00 L169.03,420.50 L168.50,420.82 L168.00,421.07 L167.00,421.44 L166.50,421.58 L165.50,421.80 L164.50,421.98 L164.00,422.04 L163.00,422.15 L162.00,422.24 L161.00,422.30 L160.00,422.35 L159.00,422.39 L158.00,422.43 L157.00,422.46 L156.00,422.49 L155.50,422.51 Z" fill="none" stroke="#a02d69" stroke-width="0.95" opacity="1"/>
<path d="M94.00,399.11 L93.34,399.00 L92.96,398.50 L92.60,397.50 L92.45,397.00 L92.23,396.00 L92.04,395.00 L91.96,394.50 L91.83,393.50 L91.72,392.50 L91.63,391.50 L91.54,390.50 L91.50,389.85 L91.45,389.00 L91.41,388.00 L91.38,387.00 L91.36,386.00 L91.35,385.00 L91.36,384.00 L91.37,383.00 L91.40,382.00 L91.44,381.00 L91.49,380.00 L91.52,379.50 L91.60,378.50 L91.70,377.50 L91.81,376.50 L91.93,375.50 L92.01,375.00 L92.19,374.00 L92.41,373.00 L92.54,372.50 L92.89,371.50 L93.15,371.00 L93.62,370.50 L94.09,370.50 L94.58,371.00 L95.00,371.86 L95.21,372.50 L95.49,373.50 L95.60,374.00 L95.80,375.00 L95.97,376.00 L96.04,376.50 L96.16,377.50 L96.26,378.50 L96.34,379.50 L96.39,380.50 L96.43,381.50 L96.46,382.50 L96.46,383.50 L96.45,384.50 L96.43,385.50 L96.39,386.50 L96.34,387.50 L96.27,388.50 L96.19,389.50 L96.09,390.50 L96.00,391.34 L95.92,392.00 L95.78,393.00 L95.63,394.00 L95.50,394.73 L95.34,395.50 L95.11,396.50 L94.99,397.00 L94.64,398.00 L94.42,398.50 L94.00,399.11 Z" fill="none" stroke="#a02d69" stroke-width="0.95" opacity="1"/>
<path d="M127.00,422.01 L126.00,422.02 L125.00,422.01 L124.41,422.00 L123.50,421.97 L122.50,421.90 L121.50,421.81 L120.50,421.69 L119.50,421.53 L119.00,421.43 L118.00,421.22 L117.18,421.00 L116.50,420.80 L115.62,420.50 L115.00,420.26 L114.39,420.00 L113.50,419.57 L113.00,419.31 L112.48,419.00 L111.72,418.50 L111.05,418.00 L110.50,417.53 L110.00,417.06 L109.50,416.52 L109.07,416.00 L108.72,415.50 L108.41,415.00 L108.00,414.20 L107.72,413.50 L107.50,412.71 L107.37,412.00 L107.31,411.00 L107.39,410.00 L107.50,409.43 L107.78,408.50 L108.00,407.98 L108.50,407.06 L108.88,406.50 L109.27,406.00 L109.73,405.50 L110.25,405.00 L110.85,404.50 L111.50,404.03 L112.00,403.71 L112.50,403.41 L113.30,403.00 L114.00,402.68 L114.50,402.48 L115.50,402.13 L116.00,401.99 L117.00,401.74 L118.00,401.55 L118.50,401.48 L119.50,401.37 L120.50,401.31 L121.50,401.31 L122.50,401.35 L123.50,401.45 L124.00,401.52 L125.00,401.68 L126.00,401.90 L126.50,402.03 L127.50,402.32 L128.02,402.50 L129.00,402.86 L129.50,403.06 L130.49,403.50 L131.00,403.74 L131.52,404.00 L132.47,404.50 L133.00,404.79 L133.50,405.07 L134.24,405.50 L135.00,405.95 L135.50,406.25 L136.00,406.54 L136.78,407.00 L137.50,407.42 L138.00,407.70 L138.55,408.00 L139.50,408.49 L140.00,408.74 L140.53,409.00 L141.50,409.44 L142.00,409.66 L142.82,410.00 L143.50,410.27 L144.11,410.50 L145.00,410.83 L145.50,411.00 L146.50,411.35 L147.00,411.51 L148.00,411.84 L148.50,412.00 L149.50,412.33 L150.05,412.50 L151.00,412.80 L151.63,413.00 L152.50,413.28 L153.22,413.50 L154.00,413.75 L154.80,414.00 L155.50,414.23 L156.38,414.50 L157.00,414.70 L157.95,415.00 L158.50,415.18 L159.49,415.50 L160.00,415.68 L160.95,416.00 L161.50,416.21 L162.28,416.50 L163.00,416.82 L163.50,417.06 L164.26,417.50 L164.84,418.00 L165.14,418.50 L165.00,419.15 L164.50,419.62 L163.74,420.00 L163.00,420.22 L162.00,420.45 L161.50,420.53 L160.50,420.67 L159.50,420.77 L158.50,420.87 L157.50,420.95 L156.87,421.00 L156.00,421.06 L155.00,421.12 L154.00,421.19 L153.00,421.25 L152.00,421.30 L151.00,421.36 L150.00,421.41 L149.00,421.45 L148.00,421.48 L147.36,421.50 L146.50,421.52 L145.50,421.54 L144.50,421.55 L143.50,421.56 L142.50,421.56 L141.50,421.57 L140.50,421.57 L139.50,421.58 L138.50,421.59 L137.50,421.60 L136.50,421.63 L135.50,421.65 L134.50,421.69 L133.50,421.73 L132.50,421.78 L131.50,421.83 L130.50,421.88 L129.50,421.93 L128.50,421.97 L127.50,422.00 L127.00,422.01 Z" fill="none" stroke="#a02d69" stroke-width="0.95" opacity="1"/>
<path d="M94.00,394.68 L93.34,394.50 L93.00,393.88 L92.78,393.00 L92.57,392.00 L92.48,391.50 L92.36,390.50 L92.27,389.50 L92.19,388.50 L92.13,387.50 L92.09,386.50 L92.07,385.50 L92.07,384.50 L92.09,383.50 L92.12,382.50 L92.17,381.50 L92.24,380.50 L92.34,379.50 L92.45,378.50 L92.52,378.00 L92.72,377.00 L92.95,376.00 L93.15,375.50 L93.50,374.83 L94.21,375.00 L94.53,375.50 L94.83,376.50 L95.00,377.13 L95.15,378.00 L95.29,379.00 L95.40,380.00 L95.48,381.00 L95.51,381.50 L95.55,382.50 L95.57,383.50 L95.57,384.50 L95.55,385.50 L95.52,386.50 L95.49,387.00 L95.42,388.00 L95.33,389.00 L95.22,390.00 L95.08,391.00 L95.00,391.56 L94.79,392.50 L94.55,393.50 L94.35,394.00 L94.00,394.68 Z" fill="none" stroke="#a02d69" stroke-width="0.95" opacity="1"/>
<path d="M131.00,421.01 L130.00,421.08 L129.00,421.14 L128.00,421.19 L127.00,421.23 L126.00,421.25 L125.00,421.25 L124.00,421.22 L123.00,421.17 L122.00,421.09 L121.19,421.00 L120.50,420.91 L119.50,420.74 L118.50,420.52 L118.00,420.40 L117.00,420.11 L116.50,419.95 L115.50,419.57 L115.00,419.35 L114.27,419.00 L113.50,418.58 L113.00,418.27 L112.50,417.93 L111.93,417.50 L111.34,417.00 L110.83,416.50 L110.39,416.00 L110.00,415.50 L109.50,414.73 L109.12,414.00 L108.92,413.50 L108.64,412.50 L108.51,411.50 L108.54,410.50 L108.71,409.50 L109.00,408.64 L109.29,408.00 L109.57,407.50 L110.00,406.88 L110.50,406.27 L111.00,405.76 L111.50,405.31 L112.00,404.92 L112.60,404.50 L113.44,404.00 L114.00,403.71 L114.50,403.48 L115.50,403.09 L116.00,402.92 L117.00,402.64 L117.62,402.50 L118.50,402.34 L119.50,402.22 L120.50,402.15 L121.50,402.14 L122.50,402.19 L123.50,402.28 L124.50,402.43 L125.00,402.53 L126.00,402.76 L126.86,403.00 L127.50,403.20 L128.33,403.50 L129.00,403.76 L129.54,404.00 L130.50,404.45 L131.00,404.70 L131.57,405.00 L132.47,405.50 L133.00,405.81 L133.50,406.11 L134.14,406.50 L134.95,407.00 L135.50,407.34 L136.00,407.65 L136.56,408.00 L137.39,408.50 L138.00,408.86 L138.50,409.14 L139.15,409.50 L140.00,409.95 L140.50,410.20 L141.12,410.50 L142.00,410.91 L142.50,411.13 L143.38,411.50 L144.00,411.76 L144.63,412.00 L145.50,412.34 L146.00,412.52 L147.00,412.90 L147.50,413.08 L148.50,413.44 L149.00,413.63 L150.00,414.00 L150.50,414.19 L151.32,414.50 L152.00,414.78 L152.57,415.00 L153.50,415.40 L154.00,415.62 L154.82,416.00 L155.50,416.37 L156.00,416.67 L156.52,417.00 L157.02,417.50 L157.00,418.24 L156.50,418.65 L155.71,419.00 L155.00,419.18 L154.00,419.42 L153.50,419.52 L152.50,419.68 L151.50,419.82 L150.50,419.94 L150.00,420.00 L149.00,420.09 L148.00,420.17 L147.00,420.24 L146.00,420.30 L145.00,420.35 L144.00,420.39 L143.00,420.42 L142.00,420.45 L141.00,420.48 L140.46,420.50 L139.50,420.53 L138.50,420.57 L137.50,420.61 L136.50,420.66 L135.50,420.71 L134.50,420.77 L133.50,420.84 L132.50,420.91 L131.50,420.98 L131.00,421.01 Z" fill="none" stroke="#a02d69" stroke-width="0.95" opacity="1"/>
<path d="M131.50,420.04 L130.50,420.13 L129.50,420.22 L128.50,420.30 L127.50,420.36 L126.50,420.40 L125.50,420.42 L124.50,420.42 L123.50,420.38 L122.50,420.32 L121.50,420.22 L120.50,420.08 L120.00,419.99 L119.00,419.78 L118.00,419.52 L117.50,419.37 L116.50,419.02 L116.00,418.82 L115.31,418.50 L114.50,418.08 L114.00,417.78 L113.50,417.45 L112.90,417.00 L112.31,416.50 L111.81,416.00 L111.37,415.50 L111.00,415.00 L110.50,414.16 L110.20,413.50 L110.00,412.90 L109.81,412.00 L109.76,411.00 L109.88,410.00 L110.01,409.50 L110.40,408.50 L110.67,408.00 L111.00,407.50 L111.50,406.87 L112.00,406.34 L112.50,405.89 L113.00,405.50 L113.75,405.00 L114.50,404.58 L115.00,404.33 L115.80,404.00 L116.50,403.75 L117.38,403.50 L118.00,403.36 L119.00,403.18 L120.00,403.07 L121.00,403.03 L122.00,403.04 L123.00,403.11 L124.00,403.24 L125.00,403.42 L125.50,403.54 L126.50,403.81 L127.10,404.00 L128.00,404.32 L128.50,404.52 L129.50,404.97 L130.00,405.21 L130.55,405.50 L131.46,406.00 L132.00,406.32 L132.50,406.62 L133.10,407.00 L133.87,407.50 L134.50,407.92 L135.00,408.25 L135.50,408.59 L136.12,409.00 L136.87,409.50 L137.50,409.91 L138.00,410.23 L138.50,410.54 L139.26,411.00 L140.00,411.43 L140.50,411.71 L141.03,412.00 L141.98,412.50 L142.50,412.77 L143.00,413.02 L143.97,413.50 L144.50,413.77 L145.00,414.01 L145.96,414.50 L146.50,414.81 L147.00,415.09 L147.66,415.50 L148.29,416.00 L148.69,416.50 L148.50,417.44 L148.00,417.77 L147.50,418.01 L146.50,418.29 L145.63,418.50 L145.00,418.60 L144.00,418.75 L143.00,418.88 L142.00,418.99 L141.50,419.04 L140.50,419.13 L139.50,419.22 L138.50,419.32 L137.50,419.41 L136.65,419.50 L136.00,419.56 L135.00,419.67 L134.00,419.77 L133.00,419.88 L132.00,419.98 L131.50,420.04 Z" fill="none" stroke="#a02d69" stroke-width="0.95" opacity="1"/>
<path d="M128.00,419.51 L127.00,419.58 L126.00,419.63 L125.00,419.65 L124.00,419.63 L123.00,419.59 L122.00,419.50 L121.50,419.44 L120.50,419.29 L119.50,419.09 L119.00,418.97 L118.00,418.69 L117.45,418.50 L116.50,418.13 L116.00,417.90 L115.24,417.50 L114.50,417.04 L114.00,416.69 L113.50,416.28 L113.00,415.82 L112.50,415.28 L112.00,414.62 L111.63,414.00 L111.39,413.50 L111.06,412.50 L110.97,412.00 L110.93,411.00 L111.00,410.39 L111.22,409.50 L111.50,408.83 L111.97,408.00 L112.35,407.50 L112.80,407.00 L113.33,406.50 L113.98,406.00 L114.50,405.65 L115.00,405.36 L115.74,405.00 L116.50,404.68 L117.04,404.50 L118.00,404.23 L119.00,404.03 L119.50,403.96 L120.50,403.87 L121.50,403.84 L122.50,403.88 L123.50,403.99 L124.00,404.06 L125.00,404.25 L125.95,404.50 L126.50,404.66 L127.45,405.00 L128.00,405.22 L128.64,405.50 L129.50,405.91 L130.00,406.18 L130.58,406.50 L131.41,407.00 L132.00,407.38 L132.50,407.71 L133.00,408.06 L133.63,408.50 L134.32,409.00 L134.98,409.50 L135.50,409.89 L136.00,410.27 L136.50,410.65 L137.00,411.03 L137.62,411.50 L138.28,412.00 L138.93,412.50 L139.50,412.94 L140.00,413.34 L140.50,413.76 L141.00,414.20 L141.50,414.72 L142.00,415.48 L142.05,416.00 L141.76,416.50 L141.02,417.00 L140.50,417.21 L139.70,417.50 L139.00,417.69 L138.00,417.94 L137.50,418.05 L136.50,418.25 L135.50,418.44 L135.00,418.54 L134.00,418.71 L133.00,418.88 L132.22,419.00 L131.50,419.10 L130.50,419.24 L129.50,419.36 L128.50,419.46 L128.00,419.51 Z" fill="none" stroke="#a02d69" stroke-width="0.95" opacity="1"/>
<path d="M128.50,418.52 L127.50,418.64 L126.50,418.72 L125.50,418.78 L124.50,418.79 L123.50,418.77 L122.50,418.70 L121.50,418.59 L120.89,418.50 L120.00,418.33 L119.00,418.08 L118.50,417.93 L117.50,417.56 L117.00,417.35 L116.29,417.00 L115.50,416.53 L115.00,416.18 L114.50,415.78 L114.00,415.32 L113.50,414.76 L113.00,414.06 L112.70,413.50 L112.49,413.00 L112.24,412.00 L112.20,411.00 L112.38,410.00 L112.55,409.50 L113.00,408.61 L113.44,408.00 L113.89,407.50 L114.44,407.00 L115.00,406.58 L115.50,406.26 L116.00,405.98 L117.00,405.54 L117.50,405.36 L118.50,405.08 L119.00,404.97 L120.00,404.82 L121.00,404.75 L122.00,404.75 L123.00,404.82 L124.00,404.96 L124.50,405.06 L125.50,405.30 L126.16,405.50 L127.00,405.79 L127.51,406.00 L128.50,406.45 L129.00,406.71 L129.53,407.00 L130.36,407.50 L131.00,407.92 L131.50,408.27 L132.00,408.63 L132.50,409.02 L133.10,409.50 L133.70,410.00 L134.26,410.50 L134.80,411.00 L135.31,411.50 L135.79,412.00 L136.23,412.50 L136.62,413.00 L137.00,413.59 L137.36,414.50 L137.18,415.50 L136.75,416.00 L136.02,416.50 L135.50,416.75 L134.94,417.00 L134.00,417.33 L133.46,417.50 L132.50,417.76 L131.50,418.00 L131.00,418.10 L130.00,418.29 L129.00,418.45 L128.50,418.52 Z" fill="none" stroke="#a02d69" stroke-width="0.95" opacity="1"/>
<path d="M128.50,417.55 L127.50,417.71 L126.50,417.83 L125.50,417.91 L124.50,417.95 L123.50,417.93 L122.50,417.87 L121.50,417.75 L120.50,417.57 L120.00,417.46 L119.00,417.18 L118.49,417.00 L117.50,416.58 L117.00,416.33 L116.44,416.00 L115.74,415.50 L115.16,415.00 L114.69,414.50 L114.30,414.00 L114.00,413.50 L113.60,412.50 L113.49,412.00 L113.46,411.00 L113.53,410.50 L113.87,409.50 L114.14,409.00 L114.50,408.50 L115.00,407.95 L115.52,407.50 L116.24,407.00 L117.00,406.59 L117.50,406.37 L118.50,406.03 L119.00,405.90 L120.00,405.72 L121.00,405.63 L122.00,405.63 L123.00,405.70 L124.00,405.84 L124.72,406.00 L125.50,406.21 L126.35,406.50 L127.00,406.76 L127.54,407.00 L128.50,407.49 L129.00,407.79 L129.50,408.10 L130.09,408.50 L130.76,409.00 L131.37,409.50 L131.93,410.00 L132.44,410.50 L132.90,411.00 L133.32,411.50 L133.69,412.00 L134.00,412.51 L134.40,413.50 L134.38,414.50 L134.00,415.19 L133.50,415.68 L133.00,416.03 L132.09,416.50 L131.50,416.73 L130.74,417.00 L130.00,417.21 L129.00,417.45 L128.50,417.55 Z" fill="none" stroke="#a02d69" stroke-width="0.95" opacity="1"/>
<path d="M127.50,416.59 L126.50,416.77 L125.50,416.90 L124.50,416.96 L123.50,416.96 L122.50,416.90 L121.50,416.78 L120.50,416.58 L120.00,416.44 L119.00,416.11 L118.50,415.90 L117.73,415.50 L117.00,415.03 L116.50,414.62 L116.00,414.12 L115.53,413.50 L115.25,413.00 L115.00,412.28 L114.88,411.50 L115.00,410.51 L115.18,410.00 L115.50,409.40 L116.00,408.76 L116.50,408.29 L117.00,407.92 L117.73,407.50 L118.50,407.17 L119.02,407.00 L120.00,406.78 L121.00,406.65 L122.00,406.63 L123.00,406.70 L124.00,406.86 L124.58,407.00 L125.50,407.28 L126.10,407.50 L127.00,407.91 L127.50,408.17 L128.06,408.50 L128.80,409.00 L129.45,409.50 L130.00,409.99 L130.50,410.50 L130.92,411.00 L131.28,411.50 L131.56,412.00 L131.89,413.00 L131.80,414.00 L131.50,414.55 L131.00,415.08 L130.42,415.50 L129.50,415.96 L129.00,416.16 L128.00,416.47 L127.50,416.59 Z" fill="none" stroke="#a02d69" stroke-width="0.95" opacity="1"/>
<path d="M126.50,415.55 L125.50,415.75 L124.50,415.87 L123.50,415.90 L122.50,415.85 L121.50,415.71 L120.60,415.50 L120.00,415.30 L119.26,415.00 L118.50,414.58 L118.00,414.23 L117.50,413.78 L117.00,413.16 L116.65,412.50 L116.50,411.94 L116.50,411.00 L116.63,410.50 L117.00,409.82 L117.50,409.23 L118.00,408.82 L118.51,408.50 L119.50,408.08 L120.00,407.94 L121.00,407.77 L122.00,407.72 L123.00,407.79 L124.00,407.97 L124.50,408.11 L125.50,408.46 L126.00,408.69 L126.59,409.00 L127.37,409.50 L128.00,410.00 L128.50,410.49 L128.93,411.00 L129.25,411.50 L129.50,412.09 L129.62,413.00 L129.50,413.51 L129.00,414.25 L128.50,414.67 L127.97,415.00 L127.00,415.40 L126.50,415.55 Z" fill="none" stroke="#a02d69" stroke-width="0.95" opacity="1"/>
<path d="M125.00,414.59 L124.00,414.74 L123.00,414.76 L122.00,414.66 L121.23,414.50 L120.50,414.25 L119.95,414.00 L119.20,413.50 L118.70,413.00 L118.37,412.50 L118.14,411.50 L118.43,410.50 L118.83,410.00 L119.48,409.50 L120.00,409.26 L120.82,409.00 L121.50,408.90 L122.50,408.89 L123.36,409.00 L124.00,409.16 L124.92,409.50 L125.50,409.81 L126.00,410.13 L126.50,410.54 L127.00,411.11 L127.44,412.00 L127.39,413.00 L127.00,413.58 L126.50,414.00 L125.50,414.45 L125.00,414.59 Z" fill="none" stroke="#a02d69" stroke-width="0.95" opacity="1"/>
<path d="M124.00,413.15 L123.00,413.31 L122.00,413.20 L121.40,413.00 L120.69,412.50 L120.37,412.00 L120.50,411.11 L121.00,410.66 L121.50,410.44 L122.50,410.35 L123.38,410.50 L124.00,410.78 L124.50,411.13 L125.00,411.97 L125.00,412.06 L124.50,412.91 L124.00,413.15 Z" fill="none" stroke="#a02d69" stroke-width="0.95" opacity="1"/>
<path d="M129.00,429.01 L128.00,429.11 L127.00,429.19 L126.00,429.25 L125.00,429.28 L124.00,429.30 L123.00,429.30 L122.00,429.27 L121.00,429.22 L120.00,429.15 L119.00,429.05 L118.50,428.99 L117.50,428.86 L116.50,428.71 L115.50,428.51 L115.00,428.41 L114.00,428.19 L113.27,428.00 L112.50,427.80 L111.53,427.50 L111.00,427.34 L110.02,427.00 L109.50,426.82 L108.66,426.50 L108.00,426.25 L107.38,426.00 L106.50,425.65 L106.00,425.45 L105.00,425.06 L104.50,424.86 L103.55,424.50 L103.00,424.30 L102.22,424.00 L101.50,423.71 L101.00,423.49 L100.03,423.00 L99.50,422.68 L99.00,422.33 L98.50,421.93 L98.00,421.46 L97.50,420.93 L97.00,420.31 L96.50,419.61 L96.12,419.00 L95.84,418.50 L95.50,417.85 L95.11,417.00 L94.90,416.50 L94.53,415.50 L94.36,415.00 L94.08,414.00 L93.95,413.50 L93.72,412.50 L93.54,411.50 L93.46,411.00 L93.33,410.00 L93.23,409.00 L93.15,408.00 L93.09,407.00 L93.04,406.00 L93.00,405.00 L92.98,404.50 L92.94,403.50 L92.89,402.50 L92.84,401.50 L92.78,400.50 L92.71,399.50 L92.63,398.50 L92.54,397.50 L92.50,397.00 L92.40,396.00 L92.29,395.00 L92.19,394.00 L92.09,393.00 L92.00,392.08 L91.94,391.50 L91.83,390.50 L91.73,389.50 L91.64,388.50 L91.55,387.50 L91.50,386.92 L91.41,386.00 L91.32,385.00 L91.24,384.00 L91.15,383.00 L91.07,382.00 L91.00,381.05 L90.95,380.50 L90.87,379.50 L90.79,378.50 L90.72,377.50 L90.64,376.50 L90.58,375.50 L90.51,374.50 L90.47,374.00 L90.40,373.00 L90.34,372.00 L90.27,371.00 L90.22,370.00 L90.16,369.00 L90.11,368.00 L90.06,367.00 L90.02,366.00 L90.00,365.47 L89.96,364.50 L89.92,363.50 L89.89,362.50 L89.86,361.50 L89.83,360.50 L89.81,359.50 L89.80,358.50 L89.79,357.50 L89.78,356.50 L89.78,355.50 L89.78,354.50 L89.79,353.50 L89.81,352.50 L89.82,351.50 L89.85,350.50 L89.88,349.50 L89.91,348.50 L89.95,347.50 L89.99,346.50 L90.02,346.00 L90.06,345.00 L90.11,344.00 L90.17,343.00 L90.23,342.00 L90.29,341.00 L90.37,340.00 L90.44,339.00 L90.50,338.33 L90.56,337.50 L90.64,336.50 L90.73,335.50 L90.82,334.50 L90.92,333.50 L91.00,332.78 L91.08,332.00 L91.18,331.00 L91.29,330.00 L91.40,329.00 L91.50,328.23 L91.58,327.50 L91.70,326.50 L91.83,325.50 L91.97,324.50 L92.04,324.00 L92.18,323.00 L92.32,322.00 L92.47,321.00 L92.55,320.50 L92.71,319.50 L92.87,318.50 L93.00,317.77 L93.13,317.00 L93.31,316.00 L93.50,315.03 L93.60,314.50 L93.81,313.50 L94.00,312.60 L94.13,312.00 L94.37,311.00 L94.50,310.46 L94.75,309.50 L95.00,308.58 L95.17,308.00 L95.49,307.00 L95.66,306.50 L96.00,305.57 L96.24,305.00 L96.50,304.41 L96.98,303.50 L97.31,303.00 L97.72,302.50 L98.31,302.00 L99.00,301.74 L99.92,302.00 L100.50,302.47 L100.93,303.00 L101.26,303.50 L101.55,304.00 L102.00,304.88 L102.27,305.50 L102.50,306.03 L102.87,307.00 L103.05,307.50 L103.40,308.50 L103.56,309.00 L103.88,310.00 L104.03,310.50 L104.33,311.50 L104.50,312.10 L104.76,313.00 L105.00,313.85 L105.19,314.50 L105.46,315.50 L105.61,316.00 L105.89,317.00 L106.03,317.50 L106.33,318.50 L106.50,319.10 L106.79,320.00 L107.00,320.69 L107.28,321.50 L107.50,322.15 L107.83,323.00 L108.02,323.50 L108.46,324.50 L108.72,325.00 L109.00,325.55 L109.50,326.36 L109.98,327.00 L110.42,327.50 L110.94,328.00 L111.50,328.45 L112.00,328.80 L112.50,329.11 L113.14,329.50 L113.95,330.00 L114.50,330.36 L115.00,330.72 L115.50,331.11 L116.00,331.53 L116.51,332.00 L117.01,332.50 L117.50,333.04 L118.00,333.65 L118.50,334.31 L118.98,335.00 L119.30,335.50 L119.60,336.00 L120.00,336.70 L120.42,337.50 L120.66,338.00 L121.00,338.74 L121.32,339.50 L121.52,340.00 L121.89,341.00 L122.06,341.50 L122.38,342.50 L122.52,343.00 L122.79,344.00 L123.00,344.85 L123.15,345.50 L123.35,346.50 L123.50,347.35 L123.61,348.00 L123.75,349.00 L123.87,350.00 L123.97,351.00 L124.01,351.50 L124.07,352.50 L124.12,353.50 L124.15,354.50 L124.16,355.50 L124.14,356.50 L124.11,357.50 L124.07,358.50 L124.00,359.50 L123.97,360.00 L123.88,361.00 L123.78,362.00 L123.66,363.00 L123.54,364.00 L123.47,364.50 L123.33,365.50 L123.18,366.50 L123.04,367.50 L122.96,368.00 L122.82,369.00 L122.68,370.00 L122.56,371.00 L122.50,371.60 L122.42,372.50 L122.37,373.50 L122.37,374.50 L122.44,375.50 L122.50,376.01 L122.70,377.00 L123.00,377.92 L123.26,378.50 L123.53,379.00 L124.00,379.66 L124.50,380.23 L125.00,380.69 L125.50,381.09 L126.11,381.50 L127.00,382.00 L127.50,382.23 L128.13,382.50 L129.00,382.82 L129.52,383.00 L130.50,383.29 L131.28,383.50 L132.00,383.67 L133.00,383.90 L133.50,384.01 L134.50,384.21 L135.50,384.41 L136.00,384.51 L137.00,384.70 L138.00,384.89 L138.55,385.00 L139.50,385.19 L140.50,385.40 L141.00,385.51 L142.00,385.74 L143.00,385.98 L143.50,386.11 L144.50,386.37 L145.00,386.51 L146.00,386.80 L146.64,387.00 L147.50,387.27 L148.19,387.50 L149.00,387.77 L149.63,388.00 L150.50,388.31 L151.00,388.50 L152.00,388.88 L152.50,389.08 L153.50,389.48 L154.00,389.68 L154.76,390.00 L155.50,390.30 L156.00,390.52 L157.00,390.96 L157.50,391.18 L158.18,391.50 L159.00,391.88 L159.50,392.12 L160.27,392.50 L161.00,392.87 L161.50,393.13 L162.18,393.50 L163.00,393.96 L163.50,394.25 L164.00,394.55 L164.71,395.00 L165.46,395.50 L166.00,395.87 L166.50,396.24 L167.00,396.63 L167.50,397.04 L168.04,397.50 L168.58,398.00 L169.08,398.50 L169.54,399.00 L170.00,399.54 L170.50,400.20 L171.00,400.95 L171.32,401.50 L171.57,402.00 L171.97,403.00 L172.12,403.50 L172.33,404.50 L172.41,405.50 L172.37,406.50 L172.21,407.50 L172.00,408.21 L171.71,409.00 L171.48,409.50 L171.00,410.37 L170.60,411.00 L170.23,411.50 L169.84,412.00 L169.40,412.50 L168.93,413.00 L168.43,413.50 L167.89,414.00 L167.32,414.50 L166.71,415.00 L166.07,415.50 L165.50,415.92 L165.00,416.28 L164.50,416.62 L163.94,417.00 L163.16,417.50 L162.50,417.91 L162.00,418.22 L161.50,418.51 L160.66,419.00 L160.00,419.37 L159.50,419.65 L158.84,420.00 L158.00,420.44 L157.50,420.70 L156.88,421.00 L156.00,421.43 L155.50,421.67 L154.77,422.00 L154.00,422.35 L153.50,422.56 L152.50,422.98 L152.00,423.19 L151.20,423.50 L150.50,423.77 L149.88,424.00 L149.00,424.32 L148.47,424.50 L147.50,424.84 L146.99,425.00 L146.00,425.32 L145.40,425.50 L144.50,425.78 L143.72,426.00 L143.00,426.21 L142.00,426.48 L141.50,426.62 L140.50,426.88 L139.99,427.00 L139.00,427.25 L138.00,427.48 L137.50,427.59 L136.50,427.82 L135.56,428.00 L135.00,428.12 L134.00,428.31 L133.00,428.47 L132.50,428.56 L131.50,428.71 L130.50,428.85 L129.50,428.96 L129.00,429.01 Z" fill="none" stroke="#2a0f5a" stroke-width="1.05" opacity="1"/>
<path d="M125.50,426.52 L124.50,426.55 L123.50,426.55 L122.50,426.53 L121.85,426.50 L121.00,426.45 L120.00,426.37 L119.00,426.25 L118.00,426.11 L117.39,426.00 L116.50,425.84 L115.50,425.61 L115.00,425.48 L114.00,425.21 L113.32,425.00 L112.50,424.73 L111.88,424.50 L111.00,424.16 L110.50,423.94 L109.54,423.50 L109.00,423.24 L108.50,422.98 L107.63,422.50 L107.00,422.14 L106.50,421.83 L105.98,421.50 L105.22,421.00 L104.50,420.50 L104.00,420.13 L103.50,419.75 L103.00,419.35 L102.50,418.93 L102.00,418.48 L101.50,418.00 L101.00,417.47 L100.50,416.88 L100.00,416.22 L99.53,415.50 L99.24,415.00 L98.99,414.50 L98.55,413.50 L98.37,413.00 L98.07,412.00 L97.95,411.50 L97.75,410.50 L97.62,409.50 L97.53,408.50 L97.50,407.91 L97.48,407.00 L97.48,406.00 L97.50,405.00 L97.51,404.50 L97.54,403.50 L97.56,402.50 L97.55,401.50 L97.50,400.56 L97.46,400.00 L97.34,399.00 L97.18,398.00 L97.00,397.13 L96.87,396.50 L96.64,395.50 L96.50,394.90 L96.30,394.00 L96.07,393.00 L95.97,392.50 L95.76,391.50 L95.56,390.50 L95.46,390.00 L95.28,389.00 L95.11,388.00 L95.00,387.32 L94.87,386.50 L94.72,385.50 L94.58,384.50 L94.50,383.89 L94.38,383.00 L94.26,382.00 L94.14,381.00 L94.03,380.00 L93.97,379.50 L93.87,378.50 L93.77,377.50 L93.67,376.50 L93.58,375.50 L93.50,374.56 L93.45,374.00 L93.37,373.00 L93.29,372.00 L93.22,371.00 L93.16,370.00 L93.10,369.00 L93.04,368.00 L93.00,367.21 L92.96,366.50 L92.92,365.50 L92.87,364.50 L92.84,363.50 L92.80,362.50 L92.77,361.50 L92.75,360.50 L92.73,359.50 L92.72,358.50 L92.71,357.50 L92.71,356.50 L92.71,355.50 L92.72,354.50 L92.73,353.50 L92.74,352.50 L92.76,351.50 L92.79,350.50 L92.82,349.50 L92.86,348.50 L92.90,347.50 L92.95,346.50 L93.00,345.50 L93.03,345.00 L93.08,344.00 L93.15,343.00 L93.22,342.00 L93.29,341.00 L93.37,340.00 L93.46,339.00 L93.51,338.50 L93.60,337.50 L93.71,336.50 L93.81,335.50 L93.93,334.50 L94.00,333.95 L94.12,333.00 L94.25,332.00 L94.40,331.00 L94.50,330.32 L94.63,329.50 L94.80,328.50 L94.98,327.50 L95.07,327.00 L95.27,326.00 L95.49,325.00 L95.61,324.50 L95.85,323.50 L96.00,322.94 L96.28,322.00 L96.50,321.29 L96.80,320.50 L97.00,319.98 L97.48,319.00 L97.81,318.50 L98.23,318.00 L99.00,317.53 L100.00,317.84 L100.50,318.35 L100.93,319.00 L101.20,319.50 L101.50,320.09 L101.88,321.00 L102.07,321.50 L102.42,322.50 L102.58,323.00 L102.88,324.00 L103.03,324.50 L103.30,325.50 L103.50,326.26 L103.69,327.00 L103.93,328.00 L104.04,328.50 L104.27,329.50 L104.49,330.50 L104.60,331.00 L104.81,332.00 L105.00,332.97 L105.11,333.50 L105.31,334.50 L105.50,335.50 L105.59,336.00 L105.78,337.00 L105.96,338.00 L106.05,338.50 L106.23,339.50 L106.40,340.50 L106.50,341.15 L106.65,342.00 L106.81,343.00 L106.95,344.00 L107.02,344.50 L107.17,345.50 L107.30,346.50 L107.42,347.50 L107.50,348.25 L107.59,349.00 L107.68,350.00 L107.76,351.00 L107.83,352.00 L107.87,353.00 L107.90,354.00 L107.92,355.00 L107.92,356.00 L107.90,357.00 L107.86,358.00 L107.82,359.00 L107.75,360.00 L107.67,361.00 L107.58,362.00 L107.50,362.73 L107.43,363.50 L107.32,364.50 L107.20,365.50 L107.07,366.50 L107.00,367.00 L106.87,368.00 L106.74,369.00 L106.60,370.00 L106.50,370.68 L106.39,371.50 L106.25,372.50 L106.11,373.50 L106.00,374.20 L105.89,375.00 L105.75,376.00 L105.60,377.00 L105.50,377.68 L105.39,378.50 L105.24,379.50 L105.09,380.50 L105.00,381.12 L104.87,382.00 L104.72,383.00 L104.57,384.00 L104.49,384.50 L104.34,385.50 L104.18,386.50 L104.02,387.50 L103.94,388.00 L103.79,389.00 L103.63,390.00 L103.50,390.88 L103.42,391.50 L103.30,392.50 L103.22,393.50 L103.20,394.50 L103.29,395.50 L103.50,396.29 L103.91,397.00 L104.50,397.48 L105.00,397.65 L106.00,397.69 L107.00,397.51 L107.50,397.35 L108.46,397.00 L109.00,396.77 L109.65,396.50 L110.50,396.12 L111.00,395.91 L111.98,395.50 L112.50,395.28 L113.26,395.00 L114.00,394.73 L114.71,394.50 L115.50,394.25 L116.47,394.00 L117.00,393.87 L118.00,393.65 L118.87,393.50 L119.50,393.39 L120.50,393.26 L121.50,393.16 L122.50,393.08 L123.50,393.03 L124.50,393.01 L125.50,393.00 L126.50,393.02 L127.50,393.05 L128.50,393.09 L129.50,393.16 L130.50,393.23 L131.50,393.31 L132.50,393.41 L133.40,393.50 L134.00,393.56 L135.00,393.65 L136.00,393.75 L137.00,393.85 L138.00,393.95 L138.55,394.00 L139.50,394.08 L140.50,394.16 L141.50,394.25 L142.50,394.33 L143.50,394.42 L144.32,394.50 L145.00,394.56 L146.00,394.66 L147.00,394.77 L148.00,394.90 L148.67,395.00 L149.50,395.12 L150.50,395.29 L151.50,395.48 L152.00,395.58 L153.00,395.81 L153.76,396.00 L154.50,396.20 L155.50,396.50 L156.00,396.66 L156.97,397.00 L157.50,397.20 L158.23,397.50 L159.00,397.84 L159.50,398.09 L160.28,398.50 L161.00,398.91 L161.50,399.23 L162.00,399.57 L162.57,400.00 L163.17,400.50 L163.70,401.00 L164.17,401.50 L164.58,402.00 L165.00,402.60 L165.49,403.50 L165.70,404.00 L165.98,405.00 L166.05,405.50 L166.06,406.50 L166.00,407.04 L165.77,408.00 L165.50,408.70 L165.11,409.50 L164.80,410.00 L164.45,410.50 L164.00,411.07 L163.50,411.63 L163.00,412.15 L162.50,412.62 L162.00,413.06 L161.47,413.50 L160.83,414.00 L160.15,414.50 L159.50,414.95 L159.00,415.29 L158.50,415.62 L157.89,416.00 L157.07,416.50 L156.50,416.84 L156.00,417.12 L155.33,417.50 L154.50,417.95 L154.00,418.22 L153.46,418.50 L152.50,418.99 L152.00,419.24 L151.44,419.50 L150.50,419.94 L150.00,420.17 L149.26,420.50 L148.50,420.83 L148.00,421.04 L147.00,421.45 L146.50,421.65 L145.58,422.00 L145.00,422.22 L144.21,422.50 L143.50,422.76 L142.77,423.00 L142.00,423.26 L141.24,423.50 L140.50,423.73 L139.59,424.00 L139.00,424.18 L138.00,424.45 L137.50,424.59 L136.50,424.85 L135.85,425.00 L135.00,425.20 L134.00,425.42 L133.50,425.52 L132.50,425.72 L131.50,425.89 L130.79,426.00 L130.00,426.12 L129.00,426.25 L128.00,426.35 L127.00,426.44 L126.00,426.49 L125.50,426.52 Z" fill="none" stroke="#2a0f5a" stroke-width="1.05" opacity="1"/>
<path d="M100.00,382.58 L99.00,382.94 L98.49,382.50 L98.00,381.68 L97.73,381.00 L97.50,380.38 L97.25,379.50 L97.00,378.57 L96.88,378.00 L96.67,377.00 L96.50,376.13 L96.40,375.50 L96.24,374.50 L96.09,373.50 L96.00,372.84 L95.90,372.00 L95.78,371.00 L95.68,370.00 L95.58,369.00 L95.50,368.09 L95.45,367.50 L95.38,366.50 L95.31,365.50 L95.25,364.50 L95.20,363.50 L95.16,362.50 L95.12,361.50 L95.09,360.50 L95.06,359.50 L95.04,358.50 L95.03,357.50 L95.03,356.50 L95.03,355.50 L95.04,354.50 L95.06,353.50 L95.08,352.50 L95.11,351.50 L95.15,350.50 L95.20,349.50 L95.25,348.50 L95.31,347.50 L95.38,346.50 L95.45,345.50 L95.50,344.94 L95.59,344.00 L95.69,343.00 L95.80,342.00 L95.92,341.00 L96.00,340.40 L96.13,339.50 L96.29,338.50 L96.47,337.50 L96.57,337.00 L96.78,336.00 L97.00,335.07 L97.17,334.50 L97.48,333.50 L97.68,333.00 L98.00,332.26 L98.50,331.52 L99.00,331.15 L100.00,331.49 L100.37,332.00 L100.65,332.50 L101.00,333.23 L101.28,334.00 L101.50,334.65 L101.74,335.50 L102.00,336.49 L102.12,337.00 L102.34,338.00 L102.50,338.81 L102.63,339.50 L102.80,340.50 L102.96,341.50 L103.03,342.00 L103.17,343.00 L103.30,344.00 L103.41,345.00 L103.50,345.82 L103.57,346.50 L103.66,347.50 L103.73,348.50 L103.80,349.50 L103.86,350.50 L103.91,351.50 L103.95,352.50 L103.98,353.50 L104.00,354.50 L104.00,355.00 L104.01,356.00 L104.00,357.00 L104.00,357.50 L103.98,358.50 L103.95,359.50 L103.91,360.50 L103.87,361.50 L103.81,362.50 L103.75,363.50 L103.67,364.50 L103.59,365.50 L103.50,366.50 L103.45,367.00 L103.35,368.00 L103.24,369.00 L103.12,370.00 L103.00,370.92 L102.92,371.50 L102.77,372.50 L102.62,373.50 L102.50,374.23 L102.36,375.00 L102.17,376.00 L102.00,376.87 L101.86,377.50 L101.62,378.50 L101.49,379.00 L101.19,380.00 L101.00,380.61 L100.63,381.50 L100.37,382.00 L100.00,382.58 Z" fill="none" stroke="#2a0f5a" stroke-width="1.05" opacity="1"/>
<path d="M126.50,424.54 L125.50,424.59 L124.50,424.62 L123.50,424.63 L122.50,424.60 L121.50,424.54 L120.98,424.50 L120.00,424.40 L119.00,424.27 L118.00,424.10 L117.48,424.00 L116.50,423.79 L115.50,423.52 L115.00,423.38 L114.00,423.05 L113.50,422.88 L112.56,422.50 L112.00,422.26 L111.44,422.00 L110.50,421.52 L110.00,421.24 L109.50,420.94 L108.81,420.50 L108.09,420.00 L107.50,419.55 L107.00,419.15 L106.50,418.71 L106.00,418.25 L105.50,417.74 L105.00,417.19 L104.50,416.59 L104.05,416.00 L103.71,415.50 L103.40,415.00 L103.00,414.24 L102.66,413.50 L102.48,413.00 L102.18,412.00 L102.00,411.00 L101.95,410.50 L101.94,409.50 L102.00,408.79 L102.13,408.00 L102.43,407.00 L102.63,406.50 L103.00,405.80 L103.50,405.04 L103.93,404.50 L104.38,404.00 L104.88,403.50 L105.44,403.00 L106.00,402.54 L106.50,402.15 L107.00,401.77 L107.50,401.41 L108.11,401.00 L108.88,400.50 L109.50,400.12 L110.00,399.82 L110.59,399.50 L111.50,399.03 L112.00,398.79 L112.65,398.50 L113.50,398.14 L114.00,397.96 L115.00,397.61 L115.50,397.45 L116.50,397.17 L117.21,397.00 L118.00,396.82 L119.00,396.64 L119.96,396.50 L120.50,396.43 L121.50,396.33 L122.50,396.25 L123.50,396.21 L124.50,396.20 L125.50,396.20 L126.50,396.24 L127.50,396.29 L128.50,396.36 L129.50,396.45 L130.00,396.51 L131.00,396.61 L132.00,396.72 L133.00,396.85 L134.00,396.98 L134.50,397.04 L135.50,397.16 L136.50,397.28 L137.50,397.39 L138.48,397.50 L139.00,397.55 L140.00,397.64 L141.00,397.72 L142.00,397.80 L143.00,397.88 L144.00,397.96 L144.50,398.00 L145.50,398.08 L146.50,398.18 L147.50,398.29 L148.50,398.42 L149.06,398.50 L150.00,398.65 L151.00,398.84 L151.71,399.00 L152.50,399.19 L153.50,399.48 L154.00,399.64 L155.00,400.00 L155.50,400.21 L156.15,400.50 L157.00,400.94 L157.50,401.23 L158.00,401.56 L158.60,402.00 L159.18,402.50 L159.66,403.00 L160.07,403.50 L160.50,404.20 L160.85,405.00 L161.00,405.58 L161.08,406.50 L161.00,407.28 L160.82,408.00 L160.50,408.76 L160.09,409.50 L159.74,410.00 L159.34,410.50 L158.90,411.00 L158.40,411.50 L157.86,412.00 L157.28,412.50 L156.64,413.00 L156.00,413.48 L155.50,413.83 L155.00,414.18 L154.50,414.51 L153.73,415.00 L153.00,415.45 L152.50,415.75 L152.00,416.04 L151.19,416.50 L150.50,416.88 L150.00,417.15 L149.35,417.50 L148.50,417.94 L148.00,418.19 L147.36,418.50 L146.50,418.91 L146.00,419.14 L145.21,419.50 L144.50,419.81 L144.00,420.02 L143.00,420.44 L142.50,420.64 L141.56,421.00 L141.00,421.21 L140.19,421.50 L139.50,421.74 L138.73,422.00 L138.00,422.24 L137.14,422.50 L136.50,422.69 L135.50,422.97 L135.00,423.10 L134.00,423.35 L133.35,423.50 L132.50,423.69 L131.50,423.89 L130.86,424.00 L130.00,424.15 L129.00,424.29 L128.00,424.41 L127.00,424.50 L126.50,424.54 Z" fill="none" stroke="#2a0f5a" stroke-width="1.05" opacity="1"/>
<path d="M129.00,422.54 L128.00,422.68 L127.00,422.78 L126.00,422.86 L125.00,422.91 L124.00,422.92 L123.00,422.91 L122.00,422.86 L121.00,422.78 L120.00,422.66 L119.00,422.50 L118.50,422.41 L117.50,422.20 L116.73,422.00 L116.00,421.79 L115.12,421.50 L114.50,421.28 L113.83,421.00 L113.00,420.63 L112.50,420.37 L111.82,420.00 L111.00,419.50 L110.50,419.17 L110.00,418.80 L109.50,418.41 L109.00,417.97 L108.50,417.50 L108.00,416.98 L107.50,416.39 L107.00,415.71 L106.55,415.00 L106.27,414.50 L106.00,413.91 L105.66,413.00 L105.50,412.38 L105.34,411.50 L105.29,410.50 L105.38,409.50 L105.50,408.89 L105.75,408.00 L106.00,407.40 L106.46,406.50 L106.77,406.00 L107.12,405.50 L107.52,405.00 L108.00,404.45 L108.50,403.94 L109.00,403.48 L109.57,403.00 L110.22,402.50 L110.94,402.00 L111.50,401.64 L112.00,401.35 L112.64,401.00 L113.50,400.58 L114.00,400.36 L114.90,400.00 L115.50,399.78 L116.39,399.50 L117.00,399.32 L118.00,399.08 L118.50,398.97 L119.50,398.79 L120.50,398.64 L121.50,398.54 L122.00,398.50 L123.00,398.44 L124.00,398.42 L125.00,398.42 L126.00,398.45 L126.80,398.50 L127.50,398.55 L128.50,398.64 L129.50,398.75 L130.50,398.88 L131.33,399.00 L132.00,399.10 L133.00,399.25 L134.00,399.42 L134.50,399.50 L135.50,399.66 L136.50,399.82 L137.50,399.98 L138.00,400.06 L139.00,400.20 L140.00,400.34 L141.00,400.47 L141.50,400.53 L142.50,400.65 L143.50,400.77 L144.50,400.90 L145.28,401.00 L146.00,401.10 L147.00,401.26 L148.00,401.44 L148.50,401.54 L149.50,401.78 L150.30,402.00 L151.00,402.23 L151.73,402.50 L152.50,402.85 L153.00,403.11 L153.64,403.50 L154.29,404.00 L154.80,404.50 L155.19,405.00 L155.50,405.55 L155.78,406.50 L155.76,407.50 L155.50,408.39 L155.21,409.00 L154.90,409.50 L154.50,410.04 L154.00,410.61 L153.50,411.12 L153.00,411.59 L152.50,412.02 L151.92,412.50 L151.26,413.00 L150.57,413.50 L150.00,413.90 L149.50,414.24 L149.00,414.57 L148.33,415.00 L147.52,415.50 L147.00,415.81 L146.50,416.11 L145.81,416.50 L145.00,416.95 L144.50,417.22 L143.97,417.50 L143.00,417.99 L142.50,418.24 L141.95,418.50 L141.00,418.93 L140.50,419.16 L139.69,419.50 L139.00,419.78 L138.44,420.00 L137.50,420.35 L137.00,420.53 L136.00,420.87 L135.50,421.03 L134.50,421.33 L133.90,421.50 L133.00,421.74 L132.00,421.98 L131.50,422.09 L130.50,422.29 L129.50,422.46 L129.00,422.54 Z" fill="none" stroke="#2a0f5a" stroke-width="1.05" opacity="1"/>
<path d="M126.00,421.52 L125.00,421.57 L124.00,421.59 L123.00,421.57 L122.00,421.52 L121.50,421.47 L120.50,421.36 L119.50,421.21 L118.50,421.01 L118.00,420.89 L117.00,420.62 L116.50,420.46 L115.50,420.10 L115.00,419.90 L114.12,419.50 L113.50,419.18 L113.00,418.90 L112.36,418.50 L111.64,418.00 L111.01,417.50 L110.50,417.04 L110.00,416.54 L109.53,416.00 L109.14,415.50 L108.80,415.00 L108.50,414.48 L108.04,413.50 L107.86,413.00 L107.62,412.00 L107.53,411.00 L107.57,410.00 L107.75,409.00 L108.00,408.24 L108.31,407.50 L108.58,407.00 L109.00,406.34 L109.50,405.68 L110.00,405.11 L110.50,404.61 L111.00,404.16 L111.50,403.75 L112.00,403.38 L112.56,403.00 L113.40,402.50 L114.00,402.18 L114.50,401.94 L115.50,401.51 L116.00,401.32 L116.97,401.00 L117.50,400.84 L118.50,400.59 L119.00,400.48 L120.00,400.30 L121.00,400.16 L122.00,400.07 L123.00,400.01 L123.50,399.99 L124.50,399.99 L125.15,400.00 L126.00,400.03 L127.00,400.10 L128.00,400.20 L129.00,400.32 L130.00,400.47 L130.50,400.55 L131.50,400.71 L132.50,400.90 L133.00,401.00 L134.00,401.20 L135.00,401.41 L135.50,401.52 L136.50,401.73 L137.50,401.95 L138.00,402.05 L139.00,402.26 L140.00,402.47 L140.50,402.58 L141.50,402.79 L142.50,403.00 L143.00,403.11 L144.00,403.34 L144.68,403.50 L145.50,403.72 L146.43,404.00 L147.00,404.20 L147.74,404.50 L148.50,404.88 L149.00,405.19 L149.50,405.57 L150.00,406.09 L150.50,407.00 L150.59,407.50 L150.50,408.48 L150.32,409.00 L150.00,409.61 L149.50,410.34 L149.00,410.95 L148.50,411.49 L148.00,411.97 L147.50,412.43 L147.00,412.85 L146.50,413.26 L146.00,413.66 L145.50,414.04 L144.87,414.50 L144.15,415.00 L143.50,415.43 L143.00,415.75 L142.50,416.06 L141.76,416.50 L141.00,416.93 L140.50,417.20 L139.93,417.50 L139.00,417.96 L138.50,418.20 L137.83,418.50 L137.00,418.86 L136.50,419.06 L135.50,419.44 L135.00,419.62 L134.00,419.95 L133.50,420.11 L132.50,420.40 L132.00,420.53 L131.00,420.78 L130.00,420.99 L129.50,421.08 L128.50,421.25 L127.50,421.38 L126.50,421.48 L126.00,421.52 Z" fill="none" stroke="#2a0f5a" stroke-width="1.05" opacity="1"/>
<path d="M128.50,420.07 L127.50,420.22 L126.50,420.33 L125.50,420.41 L124.50,420.44 L123.50,420.44 L122.50,420.40 L121.50,420.32 L120.50,420.19 L119.50,420.01 L119.00,419.90 L118.00,419.65 L117.50,419.50 L116.50,419.15 L116.00,418.95 L115.01,418.50 L114.50,418.23 L114.00,417.94 L113.31,417.50 L112.64,417.00 L112.06,416.50 L111.55,416.00 L111.11,415.50 L110.72,415.00 L110.39,414.50 L110.00,413.77 L109.68,413.00 L109.50,412.35 L109.35,411.50 L109.33,410.50 L109.47,409.50 L109.60,409.00 L109.99,408.00 L110.24,407.50 L110.55,407.00 L111.00,406.39 L111.50,405.81 L112.00,405.30 L112.50,404.86 L113.00,404.47 L113.67,404.00 L114.50,403.50 L115.00,403.24 L115.50,403.00 L116.50,402.57 L117.00,402.39 L118.00,402.08 L118.50,401.94 L119.50,401.71 L120.50,401.54 L121.00,401.46 L122.00,401.36 L123.00,401.29 L124.00,401.27 L125.00,401.28 L126.00,401.33 L127.00,401.41 L127.80,401.50 L128.50,401.59 L129.50,401.74 L130.50,401.93 L131.00,402.03 L132.00,402.24 L133.00,402.47 L133.50,402.60 L134.50,402.86 L135.03,403.00 L136.00,403.27 L136.79,403.50 L137.50,403.71 L138.44,404.00 L139.00,404.18 L139.96,404.50 L140.50,404.69 L141.33,405.00 L142.00,405.28 L142.51,405.50 L143.48,406.00 L144.00,406.33 L144.50,406.72 L145.00,407.23 L145.46,408.00 L145.59,408.50 L145.54,409.50 L145.38,410.00 L145.00,410.76 L144.52,411.50 L144.13,412.00 L143.69,412.50 L143.20,413.00 L142.67,413.50 L142.09,414.00 L141.50,414.48 L141.00,414.86 L140.50,415.22 L140.00,415.56 L139.32,416.00 L138.50,416.49 L138.00,416.77 L137.50,417.04 L136.58,417.50 L136.00,417.77 L135.48,418.00 L134.50,418.40 L134.00,418.59 L133.00,418.95 L132.50,419.11 L131.50,419.40 L131.00,419.54 L130.00,419.78 L129.00,419.98 L128.50,420.07 Z" fill="none" stroke="#2a0f5a" stroke-width="1.05" opacity="1"/>
<path d="M128.00,419.07 L127.00,419.22 L126.00,419.33 L125.00,419.39 L124.00,419.41 L123.00,419.38 L122.00,419.31 L121.00,419.19 L120.00,419.02 L119.50,418.91 L118.50,418.65 L118.00,418.50 L117.00,418.13 L116.50,417.92 L115.65,417.50 L115.00,417.13 L114.50,416.80 L114.00,416.44 L113.47,416.00 L112.95,415.50 L112.50,415.00 L112.00,414.32 L111.53,413.50 L111.32,413.00 L111.03,412.00 L110.96,411.50 L110.94,410.50 L111.00,410.00 L111.25,409.00 L111.50,408.40 L112.00,407.50 L112.36,407.00 L112.78,406.50 L113.27,406.00 L113.84,405.50 L114.50,405.01 L115.00,404.69 L115.50,404.39 L116.27,404.00 L117.00,403.68 L117.50,403.49 L118.50,403.16 L119.08,403.00 L120.00,402.79 L121.00,402.62 L122.00,402.50 L122.50,402.46 L123.50,402.41 L124.50,402.40 L125.50,402.44 L126.31,402.50 L127.00,402.57 L128.00,402.70 L129.00,402.86 L129.71,403.00 L130.50,403.17 L131.50,403.41 L132.00,403.55 L133.00,403.83 L133.54,404.00 L134.50,404.32 L135.02,404.50 L136.00,404.87 L136.50,405.07 L137.49,405.50 L138.00,405.75 L138.50,406.00 L139.37,406.50 L140.00,406.93 L140.50,407.35 L141.00,407.87 L141.43,408.50 L141.63,409.00 L141.73,410.00 L141.50,410.95 L141.26,411.50 L140.97,412.00 L140.50,412.65 L140.00,413.23 L139.50,413.74 L139.00,414.19 L138.50,414.61 L137.99,415.00 L137.28,415.50 L136.50,415.99 L136.00,416.28 L135.50,416.56 L134.62,417.00 L134.00,417.28 L133.49,417.50 L132.50,417.89 L132.00,418.06 L131.00,418.38 L130.50,418.52 L129.50,418.78 L128.50,418.98 L128.00,419.07 Z" fill="none" stroke="#2a0f5a" stroke-width="1.05" opacity="1"/>
<path d="M128.00,418.05 L127.00,418.21 L126.00,418.33 L125.00,418.40 L124.00,418.42 L123.00,418.39 L122.00,418.31 L121.00,418.17 L120.12,418.00 L119.50,417.85 L118.50,417.55 L118.00,417.36 L117.15,417.00 L116.50,416.67 L116.00,416.38 L115.43,416.00 L114.79,415.50 L114.25,415.00 L113.80,414.50 L113.43,414.00 L113.00,413.25 L112.69,412.50 L112.50,411.66 L112.44,411.00 L112.50,410.22 L112.65,409.50 L113.00,408.62 L113.34,408.00 L113.70,407.50 L114.13,407.00 L114.64,406.50 L115.25,406.00 L115.98,405.50 L116.50,405.20 L117.00,404.94 L118.00,404.50 L118.50,404.32 L119.50,404.02 L120.00,403.90 L121.00,403.70 L122.00,403.56 L122.77,403.50 L123.50,403.46 L124.50,403.46 L125.47,403.50 L126.00,403.54 L127.00,403.65 L128.00,403.80 L129.00,403.99 L129.50,404.11 L130.50,404.36 L131.00,404.50 L132.00,404.82 L132.52,405.00 L133.50,405.38 L134.00,405.60 L134.87,406.00 L135.50,406.34 L136.00,406.63 L136.58,407.00 L137.23,407.50 L137.76,408.00 L138.17,408.50 L138.50,409.09 L138.76,410.00 L138.70,411.00 L138.50,411.60 L138.03,412.50 L137.66,413.00 L137.23,413.50 L136.72,414.00 L136.14,414.50 L135.50,414.98 L135.00,415.32 L134.50,415.63 L133.85,416.00 L133.00,416.43 L132.50,416.66 L131.67,417.00 L131.00,417.24 L130.21,417.50 L129.50,417.70 L128.50,417.94 L128.00,418.05 Z" fill="none" stroke="#2a0f5a" stroke-width="1.05" opacity="1"/>
<path d="M128.00,417.02 L127.00,417.21 L126.00,417.35 L125.00,417.43 L124.00,417.45 L123.00,417.42 L122.00,417.32 L121.00,417.16 L120.28,417.00 L119.50,416.78 L118.71,416.50 L118.00,416.19 L117.50,415.94 L116.76,415.50 L116.08,415.00 L115.53,414.50 L115.08,414.00 L114.72,413.50 L114.44,413.00 L114.06,412.00 L113.97,411.50 L113.96,410.50 L114.04,410.00 L114.39,409.00 L114.67,408.50 L115.01,408.00 L115.50,407.45 L116.00,406.98 L116.63,406.50 L117.45,406.00 L118.00,405.72 L118.50,405.50 L119.50,405.14 L120.00,404.99 L121.00,404.76 L122.00,404.60 L123.00,404.51 L123.50,404.49 L124.50,404.48 L125.00,404.50 L126.00,404.58 L127.00,404.71 L128.00,404.89 L128.52,405.00 L129.50,405.25 L130.31,405.50 L131.00,405.75 L131.65,406.00 L132.50,406.39 L133.00,406.65 L133.62,407.00 L134.36,407.50 L134.97,408.00 L135.45,408.50 L135.81,409.00 L136.07,409.50 L136.30,410.50 L136.17,411.50 L135.98,412.00 L135.50,412.80 L135.00,413.42 L134.50,413.91 L134.00,414.33 L133.50,414.70 L133.00,415.03 L132.19,415.50 L131.50,415.84 L131.00,416.06 L130.00,416.45 L129.50,416.61 L128.50,416.90 L128.00,417.02 Z" fill="none" stroke="#2a0f5a" stroke-width="1.05" opacity="1"/>
<path d="M127.50,416.06 L126.50,416.26 L125.50,416.39 L124.50,416.45 L123.50,416.44 L122.50,416.36 L121.50,416.21 L120.58,416.00 L120.00,415.82 L119.16,415.50 L118.50,415.18 L118.00,414.88 L117.45,414.50 L116.87,414.00 L116.42,413.50 L116.00,412.88 L115.62,412.00 L115.50,411.36 L115.50,410.55 L115.61,410.00 L116.00,409.07 L116.38,408.50 L116.82,408.00 L117.38,407.50 L118.00,407.07 L118.50,406.78 L119.06,406.50 L120.00,406.14 L120.50,405.98 L121.50,405.75 L122.50,405.60 L123.50,405.53 L124.50,405.52 L125.50,405.58 L126.50,405.71 L127.50,405.89 L128.00,406.01 L129.00,406.30 L129.57,406.50 L130.50,406.89 L131.00,407.13 L131.66,407.50 L132.38,408.00 L132.95,408.50 L133.39,409.00 L133.71,409.50 L134.00,410.34 L134.05,411.00 L133.97,411.50 L133.52,412.50 L133.16,413.00 L132.69,413.50 L132.10,414.00 L131.50,414.42 L131.00,414.72 L130.49,415.00 L129.50,415.44 L129.00,415.63 L128.00,415.94 L127.50,416.06 Z" fill="none" stroke="#2a0f5a" stroke-width="1.05" opacity="1"/>
</g>
<line x1="145.00" y1="285.90" x2="96.70" y2="432.60" stroke="#111" stroke-width="1.5" stroke-dasharray="5,3.4"/>
<rect x="62.50" y="283.50" width="156.00" height="152.00" fill="none" stroke="#828282" stroke-width="1.05" rx="0"/>
<text x="84.20" y="301.80" font-size="12" text-anchor="middle" fill="#141414" stroke="#141414" stroke-width="0.3" textLength="12.00" lengthAdjust="spacingAndGlyphs">p1</text>
<text x="185.60" y="410.00" font-size="12" text-anchor="middle" fill="#141414" stroke="#141414" stroke-width="0.3" textLength="12.40" lengthAdjust="spacingAndGlyphs">p2</text>
<line x1="180.00" y1="293.20" x2="192.80" y2="293.20" stroke="#f5be26" stroke-width="2.2"/>
<circle cx="186.4" cy="293.2" r="3.2" fill="#f5be26"/>
<text x="195.00" y="296.90" font-size="11" text-anchor="start" fill="#141414" stroke="#141414" stroke-width="0.3" textLength="17.60" lengthAdjust="spacingAndGlyphs">24h</text>
<line x1="180.00" y1="305.30" x2="192.80" y2="305.30" stroke="#a52c6a" stroke-width="2.2"/>
<circle cx="186.4" cy="305.3" r="3.2" fill="#a52c6a"/>
<text x="195.00" y="309.00" font-size="11" text-anchor="start" fill="#141414" stroke="#141414" stroke-width="0.3" textLength="17.60" lengthAdjust="spacingAndGlyphs">48h</text>
<line x1="180.00" y1="317.40" x2="192.80" y2="317.40" stroke="#2e0e5c" stroke-width="2.2"/>
<circle cx="186.4" cy="317.4" r="3.2" fill="#2e0e5c"/>
<text x="195.00" y="321.10" font-size="11" text-anchor="start" fill="#141414" stroke="#141414" stroke-width="0.3" textLength="17.60" lengthAdjust="spacingAndGlyphs">72h</text>
<text x="12.00" y="357.40" font-size="13" text-anchor="middle" fill="#141414" stroke="#141414" stroke-width="0.3" textLength="51.20" lengthAdjust="spacingAndGlyphs" transform="rotate(-90 12.00 357.40)">Violacein</text>
<text x="24.80" y="360.90" font-size="13" text-anchor="middle" fill="#141414" stroke="#141414" stroke-width="0.3" textLength="98.80" lengthAdjust="spacingAndGlyphs" transform="rotate(-90 24.80 360.90)">Autofluorescence</text>
<text x="36.70" y="359.50" font-size="13" text-anchor="middle" fill="#141414" stroke="#141414" stroke-width="0.3" textLength="87.30" lengthAdjust="spacingAndGlyphs" transform="rotate(-90 36.70 359.50)">(R712-H/FSC-H)</text>
<text x="140.50" y="462.40" font-size="12" text-anchor="middle" fill="#141414" stroke="#141414" stroke-width="0.3" textLength="87.60" lengthAdjust="spacingAndGlyphs">pHluorin2 Signal</text>
<text x="141.30" y="474.80" font-size="12" text-anchor="middle" fill="#141414" stroke="#141414" stroke-width="0.3" textLength="92.00" lengthAdjust="spacingAndGlyphs">(V525-H/B525-H)</text>
<text x="232.60" y="285.90" font-size="14.2" text-anchor="start" fill="#111" font-weight="bold">F)</text>
<line x1="295.60" y1="429.10" x2="299.50" y2="429.10" stroke="#555" stroke-width="1.3"/>
<text x="292.20" y="433.10" font-size="10.5" text-anchor="end" fill="#666666">0</text>
<line x1="295.60" y1="401.34" x2="299.50" y2="401.34" stroke="#555" stroke-width="1.3"/>
<text x="292.20" y="405.34" font-size="10.5" text-anchor="end" fill="#666666">1</text>
<line x1="295.60" y1="373.58" x2="299.50" y2="373.58" stroke="#555" stroke-width="1.3"/>
<text x="292.20" y="377.58" font-size="10.5" text-anchor="end" fill="#666666">2</text>
<line x1="295.60" y1="345.82" x2="299.50" y2="345.82" stroke="#555" stroke-width="1.3"/>
<text x="292.20" y="349.82" font-size="10.5" text-anchor="end" fill="#666666">3</text>
<line x1="295.60" y1="318.06" x2="299.50" y2="318.06" stroke="#555" stroke-width="1.3"/>
<text x="292.20" y="322.06" font-size="10.5" text-anchor="end" fill="#666666">4</text>
<line x1="295.60" y1="290.30" x2="299.50" y2="290.30" stroke="#555" stroke-width="1.3"/>
<text x="292.20" y="294.30" font-size="10.5" text-anchor="end" fill="#666666">5</text>
<line x1="320.90" y1="435.50" x2="320.90" y2="439.00" stroke="#555" stroke-width="1.3"/>
<text x="320.90" y="449.40" font-size="10.5" text-anchor="middle" fill="#141414" stroke="#141414" stroke-width="0.3" textLength="11.50" lengthAdjust="spacingAndGlyphs">p1</text>
<line x1="340.50" y1="435.50" x2="340.50" y2="439.00" stroke="#555" stroke-width="1.3"/>
<text x="340.50" y="449.40" font-size="10.5" text-anchor="middle" fill="#141414" stroke="#141414" stroke-width="0.3" textLength="11.50" lengthAdjust="spacingAndGlyphs">p2</text>
<line x1="374.40" y1="435.50" x2="374.40" y2="439.00" stroke="#555" stroke-width="1.3"/>
<text x="374.40" y="449.40" font-size="10.5" text-anchor="middle" fill="#141414" stroke="#141414" stroke-width="0.3" textLength="11.50" lengthAdjust="spacingAndGlyphs">p1</text>
<line x1="394.20" y1="435.50" x2="394.20" y2="439.00" stroke="#555" stroke-width="1.3"/>
<text x="394.20" y="449.40" font-size="10.5" text-anchor="middle" fill="#141414" stroke="#141414" stroke-width="0.3" textLength="11.50" lengthAdjust="spacingAndGlyphs">p2</text>
<line x1="427.50" y1="435.50" x2="427.50" y2="439.00" stroke="#555" stroke-width="1.3"/>
<text x="427.50" y="449.40" font-size="10.5" text-anchor="middle" fill="#141414" stroke="#141414" stroke-width="0.3" textLength="11.50" lengthAdjust="spacingAndGlyphs">p1</text>
<line x1="447.60" y1="435.50" x2="447.60" y2="439.00" stroke="#555" stroke-width="1.3"/>
<text x="447.60" y="449.40" font-size="10.5" text-anchor="middle" fill="#141414" stroke="#141414" stroke-width="0.3" textLength="11.50" lengthAdjust="spacingAndGlyphs">p2</text>
<rect x="299.50" y="283.50" width="170.00" height="152.00" fill="#fff" stroke="#555" stroke-width="1.0" rx="0"/>
<line x1="320.90" y1="414.00" x2="320.90" y2="419.40" stroke="#222" stroke-width="0.9"/>
<line x1="320.90" y1="423.50" x2="320.90" y2="427.40" stroke="#222" stroke-width="0.9"/>
<rect x="311.80" y="419.40" width="18.20" height="4.10" fill="#e0b22a" stroke="#222" stroke-width="0.9" rx="0"/>
<line x1="311.80" y1="421.50" x2="330.00" y2="421.50" stroke="#111" stroke-width="1.8"/>
<line x1="341.10" y1="422.00" x2="341.10" y2="424.30" stroke="#222" stroke-width="0.9"/>
<line x1="341.10" y1="426.50" x2="341.10" y2="427.50" stroke="#222" stroke-width="0.9"/>
<rect x="332.00" y="424.30" width="18.20" height="2.20" fill="#c9a020" stroke="#222" stroke-width="0.9" rx="0"/>
<line x1="332.00" y1="425.40" x2="350.20" y2="425.40" stroke="#111" stroke-width="1.8"/>
<line x1="374.40" y1="370.60" x2="374.40" y2="393.00" stroke="#222" stroke-width="0.9"/>
<line x1="374.40" y1="408.50" x2="374.40" y2="426.10" stroke="#222" stroke-width="0.9"/>
<rect x="365.40" y="393.00" width="18.00" height="15.50" fill="#a83b74" stroke="#222" stroke-width="0.9" rx="0"/>
<line x1="365.40" y1="401.80" x2="383.40" y2="401.80" stroke="#111" stroke-width="1.8"/>
<line x1="394.40" y1="412.40" x2="394.40" y2="418.20" stroke="#222" stroke-width="0.9"/>
<line x1="394.40" y1="422.60" x2="394.40" y2="426.80" stroke="#222" stroke-width="0.9"/>
<rect x="385.40" y="418.20" width="18.00" height="4.40" fill="#a83b74" stroke="#222" stroke-width="0.9" rx="0"/>
<line x1="385.40" y1="420.60" x2="403.40" y2="420.60" stroke="#111" stroke-width="1.8"/>
<line x1="427.60" y1="311.80" x2="427.60" y2="358.20" stroke="#222" stroke-width="0.9"/>
<line x1="427.60" y1="389.80" x2="427.60" y2="423.50" stroke="#222" stroke-width="0.9"/>
<rect x="418.50" y="358.20" width="18.20" height="31.60" fill="#3e1f70" stroke="#222" stroke-width="0.9" rx="0"/>
<line x1="418.50" y1="376.20" x2="436.70" y2="376.20" stroke="#111" stroke-width="1.8"/>
<line x1="447.70" y1="401.20" x2="447.70" y2="411.10" stroke="#222" stroke-width="0.9"/>
<line x1="447.70" y1="418.50" x2="447.70" y2="425.00" stroke="#222" stroke-width="0.9"/>
<rect x="438.50" y="411.10" width="18.40" height="7.40" fill="#6c549e" stroke="#222" stroke-width="0.9" rx="0"/>
<line x1="438.50" y1="415.20" x2="456.90" y2="415.20" stroke="#111" stroke-width="1.8"/>
<path d="M320.60,401.20 L320.60,398.20 L341.40,398.20 L341.40,401.20" fill="none" stroke="#5b6ea3" stroke-width="1.1"/>
<text x="324.90" y="397.10" font-size="11" text-anchor="middle" fill="#111" font-weight="bold">*</text>
<text x="331.20" y="397.10" font-size="11" text-anchor="middle" fill="#111" font-weight="bold">*</text>
<text x="337.50" y="397.10" font-size="11" text-anchor="middle" fill="#111" font-weight="bold">*</text>
<path d="M374.40,358.60 L374.40,355.60 L394.40,355.60 L394.40,358.60" fill="none" stroke="#5b6ea3" stroke-width="1.1"/>
<text x="378.10" y="354.10" font-size="11" text-anchor="middle" fill="#111" font-weight="bold">*</text>
<text x="384.40" y="354.10" font-size="11" text-anchor="middle" fill="#111" font-weight="bold">*</text>
<text x="390.70" y="354.10" font-size="11" text-anchor="middle" fill="#111" font-weight="bold">*</text>
<path d="M427.70,300.40 L427.70,297.40 L447.30,297.40 L447.30,300.40" fill="none" stroke="#5b6ea3" stroke-width="1.1"/>
<text x="431.20" y="295.90" font-size="11" text-anchor="middle" fill="#111" font-weight="bold">*</text>
<text x="437.50" y="295.90" font-size="11" text-anchor="middle" fill="#111" font-weight="bold">*</text>
<text x="443.80" y="295.90" font-size="11" text-anchor="middle" fill="#111" font-weight="bold">*</text>
<line x1="304.70" y1="293.10" x2="317.50" y2="293.10" stroke="#f5be26" stroke-width="2.2"/>
<circle cx="311.1" cy="293.1" r="3.2" fill="#f5be26"/>
<text x="319.80" y="296.80" font-size="11" text-anchor="start" fill="#141414" stroke="#141414" stroke-width="0.3" textLength="17.60" lengthAdjust="spacingAndGlyphs">24h</text>
<line x1="304.70" y1="305.20" x2="317.50" y2="305.20" stroke="#a52c6a" stroke-width="2.2"/>
<circle cx="311.1" cy="305.2" r="3.2" fill="#a52c6a"/>
<text x="319.80" y="308.90" font-size="11" text-anchor="start" fill="#141414" stroke="#141414" stroke-width="0.3" textLength="17.60" lengthAdjust="spacingAndGlyphs">48h</text>
<line x1="304.70" y1="317.30" x2="317.50" y2="317.30" stroke="#2e0e5c" stroke-width="2.2"/>
<circle cx="311.1" cy="317.3" r="3.2" fill="#2e0e5c"/>
<text x="319.80" y="321.00" font-size="11" text-anchor="start" fill="#141414" stroke="#141414" stroke-width="0.3" textLength="17.60" lengthAdjust="spacingAndGlyphs">72h</text>
<text x="244.50" y="356.20" font-size="13" text-anchor="middle" fill="#141414" stroke="#141414" stroke-width="0.3" textLength="51.60" lengthAdjust="spacingAndGlyphs" transform="rotate(-90 244.50 356.20)">Violacein</text>
<text x="257.70" y="359.30" font-size="13" text-anchor="middle" fill="#141414" stroke="#141414" stroke-width="0.3" textLength="97.40" lengthAdjust="spacingAndGlyphs" transform="rotate(-90 257.70 359.30)">Autofluorescence</text>
<text x="270.20" y="357.80" font-size="13" text-anchor="middle" fill="#141414" stroke="#141414" stroke-width="0.3" textLength="87.50" lengthAdjust="spacingAndGlyphs" transform="rotate(-90 270.20 357.80)">(R712-H/FSC-H)</text>
<text x="383.70" y="464.20" font-size="12" text-anchor="middle" fill="#141414" stroke="#141414" stroke-width="0.3" textLength="79.50" lengthAdjust="spacingAndGlyphs">Subpopulation</text>
<text x="481.60" y="285.90" font-size="14.2" text-anchor="start" fill="#111" font-weight="bold">G)</text>
<rect x="528.20" y="283.80" width="76.00" height="72.90" fill="#5b5b5b" stroke="none" stroke-width="1" rx="0"/>
<rect x="528.20" y="360.10" width="76.00" height="74.50" fill="#5b5b5b" stroke="none" stroke-width="1" rx="0"/>
<rect x="606.50" y="283.80" width="73.80" height="72.90" fill="#000" stroke="none" stroke-width="1" rx="0"/>
<rect x="606.50" y="360.10" width="73.80" height="74.50" fill="#000" stroke="none" stroke-width="1" rx="0"/>
<line x1="528.70" y1="283.80" x2="528.70" y2="356.70" stroke="#8a8a8a" stroke-width="1"/>
<line x1="528.70" y1="360.10" x2="528.70" y2="434.60" stroke="#8a8a8a" stroke-width="1"/>
<circle cx="551.5" cy="293.1" r="2.9" fill="#666" stroke="#2a2a2a" stroke-width="0.75"/>
<circle cx="551.5" cy="293.1" r="1.91" fill="none" stroke="#b4b4b4" stroke-width="0.6"/>
<circle cx="555.9" cy="291.4" r="1.6" fill="#666" stroke="#2a2a2a" stroke-width="0.75"/>
<circle cx="555.9" cy="291.4" r="1.06" fill="none" stroke="#b4b4b4" stroke-width="0.6"/>
<circle cx="533.9" cy="306.1" r="2.9" fill="#666" stroke="#2a2a2a" stroke-width="0.75"/>
<circle cx="533.9" cy="306.1" r="1.91" fill="none" stroke="#b4b4b4" stroke-width="0.6"/>
<circle cx="545.4" cy="339.6" r="3.2" fill="#666" stroke="#2a2a2a" stroke-width="0.75"/>
<circle cx="545.4" cy="339.6" r="2.11" fill="none" stroke="#b4b4b4" stroke-width="0.6"/>
<circle cx="548.8" cy="334.9" r="2.5" fill="#666" stroke="#2a2a2a" stroke-width="0.75"/>
<circle cx="548.8" cy="334.9" r="1.65" fill="none" stroke="#b4b4b4" stroke-width="0.6"/>
<circle cx="589.8" cy="348.6" r="2.2" fill="#666" stroke="#2a2a2a" stroke-width="0.75"/>
<circle cx="589.8" cy="348.6" r="1.45" fill="none" stroke="#b4b4b4" stroke-width="0.6"/>
<circle cx="589.2" cy="353.4" r="1.8" fill="#666" stroke="#2a2a2a" stroke-width="0.75"/>
<circle cx="589.2" cy="353.4" r="1.19" fill="none" stroke="#b4b4b4" stroke-width="0.6"/>
<circle cx="593.7" cy="351.4" r="1.3" fill="#666" stroke="#2a2a2a" stroke-width="0.75"/>
<circle cx="593.7" cy="351.4" r="0.86" fill="none" stroke="#b4b4b4" stroke-width="0.6"/>
<circle cx="592" cy="317" r="2" fill="#666" stroke="#2a2a2a" stroke-width="0.75"/>
<circle cx="592" cy="317" r="1.32" fill="none" stroke="#b4b4b4" stroke-width="0.6"/>
<circle cx="574.7" cy="309.9" r="3" fill="#666" stroke="#2a2a2a" stroke-width="0.75"/>
<circle cx="574.7" cy="309.9" r="1.98" fill="none" stroke="#b4b4b4" stroke-width="0.6"/>
<circle cx="594.4" cy="291.9" r="2.6" fill="#666" stroke="#2a2a2a" stroke-width="0.75"/>
<circle cx="594.4" cy="291.9" r="1.72" fill="none" stroke="#b4b4b4" stroke-width="0.6"/>
<circle cx="599.7" cy="290.5" r="2" fill="#666" stroke="#2a2a2a" stroke-width="0.75"/>
<circle cx="599.7" cy="290.5" r="1.32" fill="none" stroke="#b4b4b4" stroke-width="0.6"/>
<circle cx="598.2" cy="296.6" r="2.5" fill="#666" stroke="#2a2a2a" stroke-width="0.75"/>
<circle cx="598.2" cy="296.6" r="1.65" fill="none" stroke="#b4b4b4" stroke-width="0.6"/>
<circle cx="592.4" cy="307.8" r="2.6" fill="#666" stroke="#2a2a2a" stroke-width="0.75"/>
<circle cx="592.4" cy="307.8" r="1.72" fill="none" stroke="#b4b4b4" stroke-width="0.6"/>
<circle cx="592.2" cy="316.6" r="2.4" fill="#666" stroke="#2a2a2a" stroke-width="0.75"/>
<circle cx="592.2" cy="316.6" r="1.58" fill="none" stroke="#b4b4b4" stroke-width="0.6"/>
<circle cx="543.8" cy="367.6" r="3" fill="#666" stroke="#2a2a2a" stroke-width="0.75"/>
<circle cx="543.8" cy="367.6" r="1.98" fill="none" stroke="#b4b4b4" stroke-width="0.6"/>
<circle cx="540.6" cy="398" r="3" fill="#666" stroke="#2a2a2a" stroke-width="0.75"/>
<circle cx="540.6" cy="398" r="1.98" fill="none" stroke="#b4b4b4" stroke-width="0.6"/>
<circle cx="536.7" cy="404.4" r="2.2" fill="#666" stroke="#2a2a2a" stroke-width="0.75"/>
<circle cx="536.7" cy="404.4" r="1.45" fill="none" stroke="#b4b4b4" stroke-width="0.6"/>
<circle cx="544.1" cy="416.7" r="2.2" fill="#666" stroke="#2a2a2a" stroke-width="0.75"/>
<circle cx="544.1" cy="416.7" r="1.45" fill="none" stroke="#b4b4b4" stroke-width="0.6"/>
<circle cx="549.1" cy="422.3" r="3.2" fill="#666" stroke="#2a2a2a" stroke-width="0.75"/>
<circle cx="549.1" cy="422.3" r="2.11" fill="none" stroke="#b4b4b4" stroke-width="0.6"/>
<circle cx="596.8" cy="368.5" r="3" fill="#666" stroke="#2a2a2a" stroke-width="0.75"/>
<circle cx="596.8" cy="368.5" r="1.98" fill="none" stroke="#b4b4b4" stroke-width="0.6"/>
<defs><radialGradient id="rd"><stop offset="0" stop-color="#ff2020"/><stop offset="0.65" stop-color="#e81010"/><stop offset="1" stop-color="#e00000" stop-opacity="0"/></radialGradient><radialGradient id="rmid"><stop offset="0" stop-color="#c00000"/><stop offset="0.6" stop-color="#a00000"/><stop offset="1" stop-color="#800000" stop-opacity="0"/></radialGradient><radialGradient id="rdim"><stop offset="0" stop-color="#5a0000"/><stop offset="1" stop-color="#300000" stop-opacity="0"/></radialGradient></defs>
<circle cx="629.4" cy="292.6" r="3.4" fill="url(#rd)"/>
<circle cx="633.5" cy="291.2" r="2.4" fill="url(#rd)"/>
<circle cx="674.4" cy="296.3" r="3.6" fill="url(#rd)"/>
<circle cx="671.6" cy="291.3" r="2.2" fill="url(#rd)"/>
<circle cx="611.4" cy="306.2" r="3.1" fill="url(#rd)"/>
<circle cx="651.1" cy="310" r="3.0" fill="url(#rd)"/>
<circle cx="668.2" cy="307.6" r="3.3" fill="url(#rd)"/>
<circle cx="625.9" cy="334.4" r="3.3" fill="url(#rd)"/>
<circle cx="621.8" cy="339.2" r="3.3" fill="url(#rd)"/>
<circle cx="666" cy="347.6" r="2.8" fill="url(#rd)"/>
<circle cx="669.5" cy="351.2" r="2.6" fill="url(#rd)"/>
<circle cx="665.6" cy="353.3" r="2.6" fill="url(#rd)"/>
<circle cx="668.3" cy="316.3" r="2.8" fill="url(#rmid)"/>
<circle cx="621.1" cy="368.5" r="2.6" fill="url(#rdim)"/>
<circle cx="672.3" cy="368.5" r="2.6" fill="url(#rdim)"/>
<circle cx="617.1" cy="399" r="3.2" fill="url(#rdim)"/>
<circle cx="614.4" cy="403.8" r="2" fill="url(#rdim)"/>
<circle cx="621.1" cy="417" r="2.4" fill="url(#rdim)"/>
<circle cx="625.9" cy="422.3" r="2.6" fill="url(#rdim)"/>
<line x1="591.10" y1="355.40" x2="603.00" y2="355.40" stroke="#f2f2f2" stroke-width="1.3"/>
<line x1="667.30" y1="355.40" x2="678.80" y2="355.40" stroke="#f2f2f2" stroke-width="1.3"/>
<line x1="591.10" y1="432.60" x2="603.00" y2="432.60" stroke="#f2f2f2" stroke-width="1.3"/>
<line x1="667.30" y1="432.60" x2="678.80" y2="432.60" stroke="#f2f2f2" stroke-width="1.3"/>
<text x="522.30" y="321.20" font-size="12" text-anchor="middle" fill="#111" font-weight="bold" textLength="12.60" lengthAdjust="spacingAndGlyphs" transform="rotate(-90 522.30 321.20)">p1</text>
<text x="522.30" y="396.80" font-size="12" text-anchor="middle" fill="#111" font-weight="bold" textLength="12.60" lengthAdjust="spacingAndGlyphs" transform="rotate(-90 522.30 396.80)">p2</text>
<text x="504.30" y="355.40" font-size="12" text-anchor="middle" fill="#141414" stroke="#141414" stroke-width="0.3" textLength="79.50" lengthAdjust="spacingAndGlyphs" transform="rotate(-90 504.30 355.40)">Subpopulation</text>
<text x="565.90" y="447.70" font-size="12" text-anchor="middle" fill="#111" font-weight="bold" textLength="12.00" lengthAdjust="spacingAndGlyphs">BF</text>
<text x="643.40" y="447.70" font-size="12" text-anchor="middle" fill="#111" font-weight="bold" textLength="35.70" lengthAdjust="spacingAndGlyphs">Far Red</text>
<text x="606.50" y="464.00" font-size="12" text-anchor="middle" fill="#141414" stroke="#141414" stroke-width="0.3" textLength="44.00" lengthAdjust="spacingAndGlyphs">Channel</text>
<text x="0.00" y="498.20" font-size="14.2" text-anchor="start" fill="#111" font-weight="bold">H)</text>
<rect x="63.50" y="494.50" width="180.00" height="72.70" fill="#fff" stroke="none" stroke-width="1" rx="0"/>
<line x1="60.00" y1="564.20" x2="63.50" y2="564.20" stroke="#555" stroke-width="1.3"/>
<text x="56.60" y="568.20" font-size="10.5" text-anchor="end" fill="#666666">0.0</text>
<line x1="60.00" y1="545.50" x2="63.50" y2="545.50" stroke="#555" stroke-width="1.3"/>
<text x="56.60" y="549.50" font-size="10.5" text-anchor="end" fill="#666666">0.5</text>
<line x1="60.00" y1="526.80" x2="63.50" y2="526.80" stroke="#555" stroke-width="1.3"/>
<text x="56.60" y="530.80" font-size="10.5" text-anchor="end" fill="#666666">1.0</text>
<line x1="60.00" y1="508.10" x2="63.50" y2="508.10" stroke="#555" stroke-width="1.3"/>
<text x="56.60" y="512.10" font-size="10.5" text-anchor="end" fill="#666666">1.5</text>
<line x1="84.02" y1="494.50" x2="84.02" y2="567.20" stroke="#222" stroke-width="1.2" stroke-dasharray="3.6,2.6"/>
<line x1="94.98" y1="494.50" x2="94.98" y2="567.20" stroke="#222" stroke-width="1.2" stroke-dasharray="3.6,2.6"/>
<line x1="111.05" y1="494.50" x2="111.05" y2="567.20" stroke="#222" stroke-width="1.2" stroke-dasharray="3.6,2.6"/>
<line x1="122.01" y1="494.50" x2="122.01" y2="567.20" stroke="#222" stroke-width="1.2" stroke-dasharray="3.6,2.6"/>
<line x1="176.81" y1="494.50" x2="176.81" y2="567.20" stroke="#222" stroke-width="1.2" stroke-dasharray="3.6,2.6"/>
<line x1="187.77" y1="494.50" x2="187.77" y2="567.20" stroke="#222" stroke-width="1.2" stroke-dasharray="3.6,2.6"/>
<line x1="89.50" y1="494.50" x2="89.50" y2="567.20" stroke="#ee5a3f" stroke-width="1.0"/>
<line x1="116.53" y1="494.50" x2="116.53" y2="567.20" stroke="#ee5a3f" stroke-width="1.0"/>
<line x1="182.29" y1="494.50" x2="182.29" y2="567.20" stroke="#ee5a3f" stroke-width="1.0"/>
<rect x="63.50" y="574.50" width="180.00" height="72.90" fill="#fff" stroke="none" stroke-width="1" rx="0"/>
<line x1="60.00" y1="644.30" x2="63.50" y2="644.30" stroke="#555" stroke-width="1.3"/>
<text x="56.60" y="648.30" font-size="10.5" text-anchor="end" fill="#666666">0.0</text>
<line x1="60.00" y1="625.60" x2="63.50" y2="625.60" stroke="#555" stroke-width="1.3"/>
<text x="56.60" y="629.60" font-size="10.5" text-anchor="end" fill="#666666">0.5</text>
<line x1="60.00" y1="606.90" x2="63.50" y2="606.90" stroke="#555" stroke-width="1.3"/>
<text x="56.60" y="610.90" font-size="10.5" text-anchor="end" fill="#666666">1.0</text>
<line x1="60.00" y1="588.20" x2="63.50" y2="588.20" stroke="#555" stroke-width="1.3"/>
<text x="56.60" y="592.20" font-size="10.5" text-anchor="end" fill="#666666">1.5</text>
<line x1="84.02" y1="574.50" x2="84.02" y2="647.40" stroke="#222" stroke-width="1.2" stroke-dasharray="3.6,2.6"/>
<line x1="94.98" y1="574.50" x2="94.98" y2="647.40" stroke="#222" stroke-width="1.2" stroke-dasharray="3.6,2.6"/>
<line x1="111.05" y1="574.50" x2="111.05" y2="647.40" stroke="#222" stroke-width="1.2" stroke-dasharray="3.6,2.6"/>
<line x1="122.01" y1="574.50" x2="122.01" y2="647.40" stroke="#222" stroke-width="1.2" stroke-dasharray="3.6,2.6"/>
<line x1="176.81" y1="574.50" x2="176.81" y2="647.40" stroke="#222" stroke-width="1.2" stroke-dasharray="3.6,2.6"/>
<line x1="187.77" y1="574.50" x2="187.77" y2="647.40" stroke="#222" stroke-width="1.2" stroke-dasharray="3.6,2.6"/>
<line x1="89.50" y1="574.50" x2="89.50" y2="647.40" stroke="#ee5a3f" stroke-width="1.0"/>
<line x1="116.53" y1="574.50" x2="116.53" y2="647.40" stroke="#ee5a3f" stroke-width="1.0"/>
<line x1="182.29" y1="574.50" x2="182.29" y2="647.40" stroke="#ee5a3f" stroke-width="1.0"/>
<path d="M71.23,557.47 L71.78,557.26 L72.33,555.72 L72.88,555.05 L73.43,554.47 L73.98,554.55 L74.53,554.00 L75.08,553.64 L75.63,553.07 L76.18,552.95 L76.73,553.80 L77.28,554.77 L77.83,556.25 L78.38,556.57 L78.93,556.47 L79.48,556.01 L80.03,555.74 L80.58,556.37 L81.13,556.42 L81.68,556.74 L82.23,556.60 L82.78,557.58 L83.33,558.91 L83.88,559.74 L84.43,560.16 L84.98,561.36 L85.53,562.70 L86.08,562.57 L86.63,562.05 L87.18,562.05 L87.73,562.61 L88.28,562.04 L88.83,561.36 L89.38,560.13 L89.93,559.27 L90.48,558.67 L91.03,558.09 L91.58,558.64 L92.13,558.38 L92.68,557.77 L93.23,557.19 L93.78,556.69 L94.33,556.22 L94.88,555.42 L95.43,554.78 L95.98,554.07 L96.53,553.28 L97.08,551.81 L97.63,551.11 L98.18,550.83 L98.73,551.19 L99.28,551.03 L99.83,550.85 L100.38,551.97 L100.93,552.24 L101.48,553.09 L102.03,553.01 L102.58,554.11 L103.13,554.22 L103.68,556.04 L104.23,557.57 L104.78,559.04 L105.33,560.20 L105.88,560.54 L106.43,560.95 L106.98,560.76 L107.53,560.93 L108.08,561.30 L108.63,562.12 L109.18,562.42 L109.73,562.85 L110.28,562.51 L110.83,563.14 L111.38,562.79 L111.93,562.81 L112.48,562.25 L113.03,561.96 L113.58,561.20 L114.13,561.28 L114.68,560.65 L115.23,561.00 L115.78,560.63 L116.33,560.65 L116.88,560.33 L117.43,560.14 L117.98,560.04 L118.53,559.37 L119.08,557.79 L119.63,557.12 L120.18,556.82 L120.73,557.15 L121.28,556.77 L121.83,556.67 L122.38,556.26 L122.93,555.97 L123.48,555.51 L124.03,554.88 L124.58,554.27 L125.13,554.22 L125.68,554.41 L126.23,553.78 L126.78,552.78 L127.33,552.36 L127.88,553.02 L128.43,553.08 L128.98,552.76 L129.53,552.17 L130.08,552.32 L130.63,552.65 L131.18,553.92 L131.73,554.87 L132.28,555.86 L132.83,557.44 L133.38,558.49 L133.93,559.33 L134.48,559.07 L135.03,559.12 L135.58,558.42 L136.13,558.27 L136.68,557.62 L137.23,557.77 L137.78,557.02 L138.33,556.57 L138.88,556.38 L139.43,556.57 L139.98,556.94 L140.53,556.83 L141.08,556.72 L141.63,557.28 L142.18,557.91 L142.73,559.44 L143.28,560.64 L143.83,561.25 L144.38,561.56 L144.93,561.88 L145.48,562.62 L146.03,563.34 L146.58,562.68 L147.13,561.67 L147.68,560.50 L148.23,560.04 L148.78,559.93 L149.33,559.93 L149.88,559.05 L150.43,559.02 L150.98,558.85 L151.53,559.10 L152.08,559.21 L152.63,559.30 L153.18,559.21 L153.73,559.50 L154.28,559.20 L154.83,559.70 L155.38,559.59 L155.93,560.30 L156.48,560.27 L157.03,560.43 L157.58,560.44 L158.13,561.13 L158.68,561.17 L159.23,561.67 L159.78,561.73 L160.33,562.02 L160.88,563.24 L161.43,563.74 L161.98,563.26 L162.53,562.35 L163.08,561.52 L163.63,561.54 L164.18,560.84 L164.73,560.43 L165.28,559.80 L165.83,559.12 L166.38,559.02 L166.93,558.41 L167.48,557.94 L168.03,557.68 L168.58,558.22 L169.13,558.52 L169.68,558.83 L170.23,558.59 L170.78,558.11 L171.33,557.42 L171.88,556.47 L172.43,556.20 L172.98,555.80 L173.53,556.32 L174.08,556.64 L174.63,556.60 L175.18,556.18 L175.73,555.35 L176.28,555.31 L176.83,555.39 L177.38,556.36 L177.93,556.61 L178.48,557.58 L179.03,558.25 L179.58,558.95 L180.13,558.69 L180.68,558.73 L181.23,558.97 L181.78,558.85 L182.33,558.82 L182.88,558.73 L183.43,558.87 L183.98,558.79 L184.53,558.44 L185.08,558.07 L185.63,557.53 L186.18,557.31 L186.73,557.69 L187.28,557.59 L187.83,558.28 L188.38,557.64 L188.93,558.11 L189.48,558.09 L190.03,558.46 L190.58,558.76 L191.13,558.62 L191.68,558.77 L192.23,558.89 L192.78,559.06 L193.33,559.98 L193.88,560.27 L194.43,561.28 L194.98,560.31 L195.53,560.69 L196.08,560.67 L196.63,561.72 L197.18,562.37 L197.73,562.72 L198.28,563.05 L198.83,563.18 L199.38,564.16 L199.93,563.99 L200.48,563.20 L201.03,561.47 L201.58,560.69 L202.13,559.46 L202.68,558.78 L203.23,558.73 L203.78,558.89 L204.33,559.76 L204.88,559.97 L205.43,560.83 L205.98,561.44 L206.53,562.34 L207.08,562.72 L207.63,563.21 L208.18,562.93 L208.73,561.39 L209.28,560.66 L209.83,559.71 L210.38,559.64 L210.93,559.25 L211.48,558.47 L212.03,558.25 L212.58,559.48 L213.13,560.22 L213.68,560.76 L214.23,560.70 L214.78,560.81 L215.33,561.45 L215.88,561.52 L216.43,561.82 L216.98,560.69 L217.53,560.38 L218.08,559.50 L218.63,559.14 L219.18,558.80 L219.73,558.07 L220.28,558.47 L220.83,557.87 L221.38,558.20 L221.93,558.18 L222.48,558.74 L223.03,558.41 L223.58,558.85 L224.13,558.83 L224.68,559.92 L225.23,560.33 L225.78,561.14 L226.33,561.20 L226.88,561.44 L227.43,561.62 L227.98,561.48 L228.53,560.60 L229.08,559.66 L229.63,559.77 L230.18,560.02 L230.73,559.24 L231.28,558.35 L231.83,557.34 L232.38,557.36 L232.93,557.06 L233.48,557.48 L234.03,557.47 L234.58,558.41 L235.13,558.30" fill="none" stroke="#111" stroke-width="1.0" stroke-linejoin="round"/>
<path d="M71.23,641.23 L71.78,642.19 L72.33,642.43 L72.88,643.01 L73.43,643.19 L73.98,643.44 L74.53,642.62 L75.08,641.30 L75.63,640.58 L76.18,639.50 L76.73,638.49 L77.28,637.59 L77.83,637.52 L78.38,636.87 L78.93,636.55 L79.48,636.50 L80.03,637.35 L80.58,636.89 L81.13,636.52 L81.68,636.58 L82.23,637.83 L82.78,638.43 L83.33,639.64 L83.88,640.99 L84.43,641.03 L84.98,640.35 L85.53,638.39 L86.08,635.57 L86.63,631.96 L87.18,628.57 L87.73,625.81 L88.28,625.51 L88.83,627.21 L89.38,630.65 L89.93,633.94 L90.48,636.35 L91.03,638.01 L91.58,638.38 L92.13,638.84 L92.68,638.23 L93.23,637.93 L93.78,637.49 L94.33,637.87 L94.88,638.28 L95.43,638.82 L95.98,639.24 L96.53,639.26 L97.08,638.58 L97.63,638.02 L98.18,638.11 L98.73,638.08 L99.28,638.18 L99.83,638.10 L100.38,638.41 L100.93,639.70 L101.48,640.43 L102.03,641.66 L102.58,641.89 L103.13,642.34 L103.68,641.92 L104.23,642.06 L104.78,640.98 L105.33,639.88 L105.88,638.79 L106.43,637.89 L106.98,637.52 L107.53,636.35 L108.08,635.43 L108.63,635.35 L109.18,634.80 L109.73,636.00 L110.28,635.96 L110.83,635.63 L111.38,633.37 L111.93,629.90 L112.48,626.34 L113.03,620.95 L113.58,613.72 L114.13,604.49 L114.68,595.71 L115.23,587.21 L115.78,580.83 L116.33,577.10 L116.88,577.96 L117.43,582.59 L117.98,589.72 L118.53,598.63 L119.08,607.67 L119.63,616.38 L120.18,623.93 L120.73,629.34 L121.28,633.19 L121.83,634.97 L122.38,636.33 L122.93,637.37 L123.48,637.87 L124.03,638.18 L124.58,638.71 L125.13,639.57 L125.68,640.52 L126.23,640.97 L126.78,640.85 L127.33,641.35 L127.88,642.00 L128.43,643.38 L128.98,642.98 L129.53,643.17 L130.08,642.07 L130.63,642.12 L131.18,640.96 L131.73,640.76 L132.28,640.37 L132.83,639.85 L133.38,638.87 L133.93,638.40 L134.48,638.77 L135.03,640.29 L135.58,640.33 L136.13,640.34 L136.68,640.24 L137.23,641.01 L137.78,641.05 L138.33,640.08 L138.88,639.09 L139.43,638.71 L139.98,638.76 L140.53,638.35 L141.08,637.80 L141.63,637.73 L142.18,638.01 L142.73,638.02 L143.28,637.53 L143.83,637.13 L144.38,637.35 L144.93,637.69 L145.48,638.27 L146.03,637.92 L146.58,637.38 L147.13,636.91 L147.68,637.16 L148.23,637.52 L148.78,637.59 L149.33,637.02 L149.88,636.24 L150.43,636.28 L150.98,636.59 L151.53,637.20 L152.08,636.85 L152.63,636.90 L153.18,637.75 L153.73,638.56 L154.28,639.04 L154.83,639.15 L155.38,639.51 L155.93,640.40 L156.48,641.36 L157.03,640.86 L157.58,639.41 L158.13,637.84 L158.68,636.74 L159.23,636.38 L159.78,635.52 L160.33,635.45 L160.88,636.40 L161.43,637.75 L161.98,638.78 L162.53,640.40 L163.08,641.47 L163.63,642.58 L164.18,641.88 L164.73,640.80 L165.28,640.61 L165.83,639.63 L166.38,639.02 L166.93,637.66 L167.48,636.55 L168.03,634.73 L168.58,634.31 L169.13,633.70 L169.68,634.33 L170.23,633.39 L170.78,633.22 L171.33,632.49 L171.88,631.99 L172.43,632.69 L172.98,633.63 L173.53,634.55 L174.08,634.94 L174.63,635.32 L175.18,636.14 L175.73,636.90 L176.28,636.81 L176.83,635.83 L177.38,633.46 L177.93,630.66 L178.48,626.35 L179.03,620.76 L179.58,613.46 L180.13,605.35 L180.68,597.23 L181.23,589.45 L181.78,584.31 L182.33,582.17 L182.88,584.68 L183.43,590.15 L183.98,598.40 L184.53,606.82 L185.08,614.87 L185.63,622.29 L186.18,627.45 L186.73,631.12 L187.28,632.90 L187.83,634.95 L188.38,636.12 L188.93,636.63 L189.48,636.33 L190.03,636.79 L190.58,636.59 L191.13,636.43 L191.68,635.77 L192.23,635.52 L192.78,635.59 L193.33,636.87 L193.88,638.09 L194.43,639.27 L194.98,639.87 L195.53,641.06 L196.08,642.44 L196.63,642.66 L197.18,640.99 L197.73,638.85 L198.28,637.03 L198.83,635.76 L199.38,634.42 L199.93,632.80 L200.48,631.33 L201.03,631.08 L201.58,630.12 L202.13,629.73 L202.68,628.77 L203.23,628.68 L203.78,629.01 L204.33,629.27 L204.88,629.54 L205.43,629.72 L205.98,629.79 L206.53,630.18 L207.08,630.40 L207.63,630.57 L208.18,630.11 L208.73,630.11 L209.28,629.70 L209.83,629.52 L210.38,629.10 L210.93,628.68 L211.48,628.98 L212.03,629.65 L212.58,629.78 L213.13,630.44 L213.68,630.91 L214.23,632.00 L214.78,633.50 L215.33,634.28 L215.88,635.47 L216.43,636.70 L216.98,638.42 L217.53,640.17 L218.08,640.55 L218.63,640.99 L219.18,641.38 L219.73,642.10 L220.28,642.18 L220.83,642.39 L221.38,643.24 L221.93,643.82 L222.48,643.68 L223.03,642.16 L223.58,641.87 L224.13,640.49 L224.68,639.67 L225.23,637.80 L225.78,637.07 L226.33,636.41 L226.88,635.71 L227.43,635.78 L227.98,634.94 L228.53,635.08 L229.08,633.59 L229.63,633.82 L230.18,633.27 L230.73,633.64 L231.28,633.04 L231.83,633.49 L232.38,634.47 L232.93,635.19 L233.48,636.23 L234.03,636.32 L234.58,637.06 L235.13,637.15" fill="none" stroke="#111" stroke-width="1.0" stroke-linejoin="round"/>
<rect x="63.50" y="494.50" width="180.00" height="72.70" fill="none" stroke="#828282" stroke-width="1.05" rx="0"/>
<rect x="63.50" y="574.50" width="180.00" height="72.90" fill="none" stroke="#828282" stroke-width="1.05" rx="0"/>
<line x1="89.50" y1="647.00" x2="89.50" y2="650.50" stroke="#555" stroke-width="1.3"/>
<text x="89.50" y="661.40" font-size="10.5" text-anchor="middle" fill="#666666">1000</text>
<line x1="126.03" y1="647.00" x2="126.03" y2="650.50" stroke="#555" stroke-width="1.3"/>
<text x="126.03" y="661.40" font-size="10.5" text-anchor="middle" fill="#666666">1200</text>
<line x1="162.56" y1="647.00" x2="162.56" y2="650.50" stroke="#555" stroke-width="1.3"/>
<text x="162.56" y="661.40" font-size="10.5" text-anchor="middle" fill="#666666">1400</text>
<line x1="199.09" y1="647.00" x2="199.09" y2="650.50" stroke="#555" stroke-width="1.3"/>
<text x="199.09" y="661.40" font-size="10.5" text-anchor="middle" fill="#666666">1600</text>
<line x1="235.62" y1="647.00" x2="235.62" y2="650.50" stroke="#555" stroke-width="1.3"/>
<text x="235.62" y="661.40" font-size="10.5" text-anchor="middle" fill="#666666">1800</text>
<text x="251.00" y="530.80" font-size="12" text-anchor="middle" fill="#111" font-weight="bold" textLength="63.00" lengthAdjust="spacingAndGlyphs" transform="rotate(90 251.00 530.80)">No Lycopene</text>
<text x="251.00" y="611.40" font-size="12" text-anchor="middle" fill="#111" font-weight="bold" textLength="45.60" lengthAdjust="spacingAndGlyphs" transform="rotate(90 251.00 611.40)">Lycopene</text>
<text x="29.80" y="571.60" font-size="13" text-anchor="middle" fill="#141414" stroke="#141414" stroke-width="0.3" textLength="81.60" lengthAdjust="spacingAndGlyphs" transform="rotate(-90 29.80 571.60)">Intensity (a.u.)</text>
<text x="153.5" y="678" font-size="12" text-anchor="middle" fill="#1a1a1a" textLength="111" lengthAdjust="spacingAndGlyphs">Wavenumber (cm<tspan font-size="7.5" dy="-4.5">-1</tspan><tspan dy="4.5">)</tspan></text>
<text x="280.90" y="496.00" font-size="14.2" text-anchor="start" fill="#111" font-weight="bold">I)</text>
<rect x="323.50" y="494.50" width="93.00" height="152.90" fill="#fff" stroke="#6a6a6a" stroke-width="1.0" rx="0"/>
<line x1="319.80" y1="644.30" x2="323.50" y2="644.30" stroke="#555" stroke-width="1.3"/>
<text x="316.00" y="648.30" font-size="10.5" text-anchor="end" fill="#666666">0.0</text>
<line x1="319.80" y1="603.00" x2="323.50" y2="603.00" stroke="#555" stroke-width="1.3"/>
<text x="316.00" y="607.00" font-size="10.5" text-anchor="end" fill="#666666">0.2</text>
<line x1="319.80" y1="561.70" x2="323.50" y2="561.70" stroke="#555" stroke-width="1.3"/>
<text x="316.00" y="565.70" font-size="10.5" text-anchor="end" fill="#666666">0.4</text>
<line x1="319.80" y1="520.40" x2="323.50" y2="520.40" stroke="#555" stroke-width="1.3"/>
<text x="316.00" y="524.40" font-size="10.5" text-anchor="end" fill="#666666">0.6</text>
<line x1="340.60" y1="647.40" x2="340.60" y2="650.90" stroke="#555" stroke-width="1.3"/>
<text x="340.60" y="661.40" font-size="10.5" text-anchor="middle" fill="#666666">p1</text>
<line x1="369.70" y1="647.40" x2="369.70" y2="650.90" stroke="#555" stroke-width="1.3"/>
<text x="369.70" y="661.40" font-size="10.5" text-anchor="middle" fill="#666666">p2</text>
<line x1="399.20" y1="647.40" x2="399.20" y2="650.90" stroke="#555" stroke-width="1.3"/>
<text x="399.20" y="661.40" font-size="10.5" text-anchor="middle" fill="#666666">mixed</text>
<line x1="340.30" y1="619.10" x2="340.30" y2="629.30" stroke="#222" stroke-width="0.9"/>
<line x1="340.30" y1="637.60" x2="340.30" y2="640.30" stroke="#222" stroke-width="0.9"/>
<rect x="329.10" y="629.30" width="22.40" height="8.30" fill="#f6c330" stroke="#222" stroke-width="0.9" rx="0"/>
<line x1="329.10" y1="635.00" x2="351.50" y2="635.00" stroke="#111" stroke-width="1.8"/>
<line x1="369.70" y1="554.00" x2="369.70" y2="588.20" stroke="#222" stroke-width="0.9"/>
<line x1="369.70" y1="612.90" x2="369.70" y2="634.10" stroke="#222" stroke-width="0.9"/>
<rect x="358.60" y="588.20" width="22.20" height="24.70" fill="#f7a21f" stroke="#222" stroke-width="0.9" rx="0"/>
<line x1="358.60" y1="602.40" x2="380.80" y2="602.40" stroke="#111" stroke-width="1.8"/>
<line x1="399.10" y1="568.00" x2="399.10" y2="606.80" stroke="#222" stroke-width="0.9"/>
<line x1="399.10" y1="632.70" x2="399.10" y2="640.80" stroke="#222" stroke-width="0.9"/>
<rect x="387.90" y="606.80" width="22.40" height="25.90" fill="#ec753a" stroke="#222" stroke-width="0.9" rx="0"/>
<line x1="387.90" y1="623.50" x2="410.30" y2="623.50" stroke="#111" stroke-width="1.8"/>
<path d="M340.90,536.20 L340.90,533.20 L369.80,533.20 L369.80,536.20" fill="none" stroke="#5b6ea3" stroke-width="1.1"/>
<text x="348.60" y="531.10" font-size="11" text-anchor="middle" fill="#111" font-weight="bold">*</text>
<text x="354.90" y="531.10" font-size="11" text-anchor="middle" fill="#111" font-weight="bold">*</text>
<text x="361.20" y="531.10" font-size="11" text-anchor="middle" fill="#111" font-weight="bold">*</text>
<path d="M340.90,516.20 L340.90,513.20 L399.40,513.20 L399.40,516.20" fill="none" stroke="#5b6ea3" stroke-width="1.1"/>
<text x="363.70" y="511.90" font-size="11" text-anchor="middle" fill="#111" font-weight="bold">*</text>
<text x="370.00" y="511.90" font-size="11" text-anchor="middle" fill="#111" font-weight="bold">*</text>
<text x="376.30" y="511.90" font-size="11" text-anchor="middle" fill="#111" font-weight="bold">*</text>
<path d="M370.20,527.90 L370.20,524.90 L399.40,524.90 L399.40,527.90" fill="none" stroke="#5b6ea3" stroke-width="1.1"/>
<text x="378.30" y="523.40" font-size="11" text-anchor="middle" fill="#111" font-weight="bold">*</text>
<text x="384.60" y="523.40" font-size="11" text-anchor="middle" fill="#111" font-weight="bold">*</text>
<text x="390.90" y="523.40" font-size="11" text-anchor="middle" fill="#111" font-weight="bold">*</text>
<text x="291.90" y="573.80" font-size="12" text-anchor="middle" fill="#141414" stroke="#141414" stroke-width="0.3" textLength="56.50" lengthAdjust="spacingAndGlyphs" transform="rotate(-90 291.90 573.80)">AUC (a.u.)</text>
<text x="369.20" y="677.40" font-size="12.5" text-anchor="middle" fill="#141414" stroke="#141414" stroke-width="0.35" textLength="81.30" lengthAdjust="spacingAndGlyphs">Subpopulation</text>
<rect x="423.50" y="495.00" width="116.50" height="152.00" fill="#050508" stroke="none" stroke-width="1" rx="0"/>
<circle cx="433.3" cy="614.2" r="0.35" fill="#3a3a44"/>
<circle cx="504.2" cy="614.0" r="0.35" fill="#3a3a44"/>
<circle cx="496.2" cy="549.3" r="0.35" fill="#3a3a44"/>
<circle cx="470.1" cy="555.2" r="0.35" fill="#3a3a44"/>
<circle cx="526.4" cy="508.9" r="0.35" fill="#3a3a44"/>
<circle cx="526.2" cy="499.8" r="0.35" fill="#3a3a44"/>
<circle cx="447.7" cy="535.5" r="0.35" fill="#3a3a44"/>
<circle cx="527.6" cy="571.2" r="0.35" fill="#3a3a44"/>
<circle cx="467.6" cy="628.6" r="0.35" fill="#3a3a44"/>
<circle cx="450.9" cy="565.1" r="0.35" fill="#3a3a44"/>
<circle cx="485.1" cy="609.2" r="0.35" fill="#3a3a44"/>
<circle cx="510.6" cy="592.9" r="0.35" fill="#3a3a44"/>
<circle cx="464.1" cy="545.0" r="0.35" fill="#3a3a44"/>
<circle cx="441.9" cy="622.5" r="0.35" fill="#3a3a44"/>
<circle cx="500.1" cy="607.3" r="0.35" fill="#3a3a44"/>
<circle cx="443.5" cy="561.8" r="0.35" fill="#3a3a44"/>
<circle cx="512.9" cy="582.9" r="0.35" fill="#3a3a44"/>
<circle cx="438.5" cy="565.3" r="0.35" fill="#3a3a44"/>
<circle cx="525.8" cy="531.7" r="0.35" fill="#3a3a44"/>
<circle cx="446.0" cy="541.2" r="0.35" fill="#3a3a44"/>
<circle cx="504.9" cy="622.5" r="0.35" fill="#3a3a44"/>
<circle cx="441.8" cy="519.4" r="0.35" fill="#3a3a44"/>
<circle cx="452.5" cy="545.0" r="0.35" fill="#3a3a44"/>
<circle cx="484.1" cy="520.1" r="0.35" fill="#3a3a44"/>
<circle cx="461.7" cy="524.4" r="0.35" fill="#3a3a44"/>
<circle cx="536.1" cy="605.3" r="0.35" fill="#3a3a44"/>
<circle cx="435.7" cy="640.4" r="0.35" fill="#3a3a44"/>
<circle cx="435.7" cy="553.6" r="0.35" fill="#3a3a44"/>
<circle cx="537.1" cy="615.2" r="0.35" fill="#3a3a44"/>
<circle cx="508.3" cy="561.2" r="0.35" fill="#3a3a44"/>
<circle cx="446.6" cy="591.7" r="0.35" fill="#3a3a44"/>
<circle cx="436.3" cy="527.0" r="0.35" fill="#3a3a44"/>
<circle cx="468.7" cy="501.1" r="0.35" fill="#3a3a44"/>
<circle cx="469.9" cy="614.7" r="0.35" fill="#3a3a44"/>
<circle cx="503.7" cy="571.1" r="0.35" fill="#3a3a44"/>
<circle cx="496.7" cy="565.5" r="0.35" fill="#3a3a44"/>
<circle cx="440.3" cy="586.6" r="0.35" fill="#3a3a44"/>
<circle cx="470.5" cy="607.1" r="0.35" fill="#3a3a44"/>
<circle cx="528.4" cy="560.5" r="0.35" fill="#3a3a44"/>
<circle cx="490.0" cy="608.4" r="0.35" fill="#3a3a44"/>
<circle cx="472.4" cy="530.3" r="0.35" fill="#3a3a44"/>
<circle cx="507.1" cy="628.0" r="0.35" fill="#3a3a44"/>
<circle cx="513.0" cy="601.0" r="0.35" fill="#3a3a44"/>
<circle cx="522.0" cy="597.9" r="0.35" fill="#3a3a44"/>
<circle cx="497.8" cy="564.1" r="0.35" fill="#3a3a44"/>
<circle cx="460.0" cy="590.2" r="0.35" fill="#3a3a44"/>
<circle cx="435.3" cy="558.9" r="0.35" fill="#3a3a44"/>
<circle cx="514.0" cy="603.0" r="0.35" fill="#3a3a44"/>
<circle cx="496.4" cy="533.5" r="0.35" fill="#3a3a44"/>
<circle cx="472.7" cy="564.3" r="0.35" fill="#3a3a44"/>
<circle cx="495.5" cy="557.4" r="0.35" fill="#3a3a44"/>
<circle cx="501.7" cy="635.5" r="0.35" fill="#3a3a44"/>
<circle cx="445.1" cy="594.2" r="0.35" fill="#3a3a44"/>
<circle cx="513.5" cy="554.3" r="0.35" fill="#3a3a44"/>
<circle cx="480.3" cy="642.2" r="0.35" fill="#3a3a44"/>
<circle cx="428.4" cy="577.5" r="0.35" fill="#3a3a44"/>
<circle cx="442.5" cy="613.3" r="0.35" fill="#3a3a44"/>
<circle cx="532.2" cy="573.9" r="0.35" fill="#3a3a44"/>
<circle cx="435.6" cy="582.2" r="0.35" fill="#3a3a44"/>
<circle cx="486.2" cy="603.6" r="0.35" fill="#3a3a44"/>
<circle cx="482.9" cy="591.9" r="0.35" fill="#3a3a44"/>
<circle cx="519.3" cy="574.3" r="0.35" fill="#3a3a44"/>
<circle cx="471.2" cy="638.2" r="0.35" fill="#3a3a44"/>
<circle cx="448.2" cy="598.7" r="0.35" fill="#3a3a44"/>
<circle cx="469.1" cy="610.4" r="0.35" fill="#3a3a44"/>
<circle cx="438.1" cy="643.7" r="0.35" fill="#3a3a44"/>
<circle cx="464.9" cy="504.5" r="0.35" fill="#3a3a44"/>
<circle cx="455.6" cy="556.0" r="0.35" fill="#3a3a44"/>
<circle cx="425.5" cy="558.8" r="0.35" fill="#3a3a44"/>
<circle cx="472.4" cy="600.7" r="0.35" fill="#3a3a44"/>
<circle cx="464.5" cy="535.8" r="0.35" fill="#3a3a44"/>
<circle cx="449.8" cy="607.2" r="0.35" fill="#3a3a44"/>
<circle cx="532.1" cy="575.1" r="0.35" fill="#3a3a44"/>
<circle cx="449.2" cy="616.2" r="0.35" fill="#3a3a44"/>
<circle cx="469.1" cy="527.8" r="0.35" fill="#3a3a44"/>
<circle cx="438.9" cy="612.5" r="0.35" fill="#3a3a44"/>
<circle cx="517.1" cy="591.1" r="0.35" fill="#3a3a44"/>
<circle cx="478.0" cy="580.3" r="0.35" fill="#3a3a44"/>
<circle cx="450.0" cy="640.6" r="0.35" fill="#3a3a44"/>
<circle cx="464.6" cy="591.8" r="0.35" fill="#3a3a44"/>
<circle cx="518.2" cy="618.4" r="0.35" fill="#3a3a44"/>
<circle cx="477.8" cy="540.2" r="0.35" fill="#3a3a44"/>
<circle cx="487.1" cy="514.8" r="0.35" fill="#3a3a44"/>
<circle cx="519.9" cy="549.2" r="0.35" fill="#3a3a44"/>
<circle cx="521.8" cy="536.1" r="0.35" fill="#3a3a44"/>
<circle cx="467.3" cy="534.0" r="0.35" fill="#3a3a44"/>
<circle cx="473.0" cy="523.9" r="0.35" fill="#3a3a44"/>
<circle cx="424.3" cy="604.3" r="0.35" fill="#3a3a44"/>
<circle cx="456.3" cy="532.7" r="0.35" fill="#3a3a44"/>
<circle cx="458.7" cy="567.9" r="0.35" fill="#3a3a44"/>
<circle cx="473.3" cy="591.6" r="0.35" fill="#3a3a44"/>
<circle cx="499.8" cy="550.4" r="0.35" fill="#3a3a44"/>
<circle cx="530.8" cy="624.2" r="0.35" fill="#3a3a44"/>
<circle cx="430.6" cy="620.2" r="0.35" fill="#3a3a44"/>
<circle cx="528.2" cy="613.6" r="0.35" fill="#3a3a44"/>
<circle cx="440.1" cy="620.7" r="0.35" fill="#3a3a44"/>
<circle cx="496.8" cy="498.2" r="0.35" fill="#3a3a44"/>
<circle cx="425.3" cy="638.8" r="0.35" fill="#3a3a44"/>
<circle cx="499.4" cy="533.5" r="0.35" fill="#3a3a44"/>
<circle cx="435.7" cy="517.4" r="0.35" fill="#3a3a44"/>
<circle cx="450.9" cy="612.4" r="0.35" fill="#3a3a44"/>
<circle cx="463.8" cy="518.9" r="0.35" fill="#3a3a44"/>
<circle cx="528.0" cy="614.8" r="0.35" fill="#3a3a44"/>
<circle cx="443.3" cy="629.7" r="0.35" fill="#3a3a44"/>
<circle cx="494.0" cy="613.2" r="0.35" fill="#3a3a44"/>
<circle cx="500.9" cy="630.1" r="0.35" fill="#3a3a44"/>
<circle cx="514.6" cy="621.8" r="0.35" fill="#3a3a44"/>
<circle cx="446.7" cy="599.9" r="0.35" fill="#3a3a44"/>
<circle cx="485.0" cy="607.3" r="0.35" fill="#3a3a44"/>
<circle cx="474.4" cy="628.4" r="0.35" fill="#3a3a44"/>
<circle cx="487.8" cy="535.7" r="0.35" fill="#3a3a44"/>
<circle cx="450.9" cy="516.9" r="0.35" fill="#3a3a44"/>
<circle cx="480.7" cy="504.8" r="0.35" fill="#3a3a44"/>
<circle cx="477.7" cy="517.7" r="0.35" fill="#3a3a44"/>
<circle cx="480.5" cy="570.7" r="0.35" fill="#3a3a44"/>
<circle cx="486.0" cy="625.4" r="0.35" fill="#3a3a44"/>
<circle cx="424.8" cy="622.1" r="0.35" fill="#3a3a44"/>
<circle cx="477.8" cy="580.4" r="0.35" fill="#3a3a44"/>
<circle cx="500.5" cy="622.1" r="0.35" fill="#3a3a44"/>
<circle cx="467.1" cy="558.8" r="0.35" fill="#3a3a44"/>
<circle cx="534.5" cy="507.3" r="0.35" fill="#3a3a44"/>
<circle cx="497.3" cy="591.4" r="0.35" fill="#3a3a44"/>
<circle cx="427.3" cy="587.5" r="0.35" fill="#3a3a44"/>
<circle cx="502.5" cy="635.7" r="0.35" fill="#3a3a44"/>
<circle cx="462.0" cy="643.3" r="0.35" fill="#3a3a44"/>
<circle cx="482.7" cy="568.7" r="0.35" fill="#3a3a44"/>
<circle cx="527.2" cy="501.1" r="0.35" fill="#3a3a44"/>
<circle cx="506.6" cy="589.8" r="0.35" fill="#3a3a44"/>
<circle cx="462.9" cy="625.3" r="0.35" fill="#3a3a44"/>
<circle cx="466.1" cy="567.2" r="0.35" fill="#3a3a44"/>
<circle cx="484.4" cy="611.6" r="0.35" fill="#3a3a44"/>
<circle cx="448.2" cy="561.3" r="0.35" fill="#3a3a44"/>
<circle cx="472.6" cy="579.1" r="0.35" fill="#3a3a44"/>
<circle cx="519.1" cy="539.9" r="0.35" fill="#3a3a44"/>
<circle cx="519.2" cy="556.6" r="0.35" fill="#3a3a44"/>
<circle cx="481.9" cy="536.8" r="0.35" fill="#3a3a44"/>
<circle cx="482.2" cy="642.2" r="0.35" fill="#3a3a44"/>
<circle cx="499.3" cy="614.8" r="0.35" fill="#3a3a44"/>
<circle cx="462.1" cy="543.6" r="0.35" fill="#3a3a44"/>
<circle cx="458.4" cy="584.0" r="0.35" fill="#3a3a44"/>
<defs><linearGradient id="tube" x1="0" x2="1"><stop offset="0" stop-color="#7e97ab"/><stop offset="0.16" stop-color="#c4d6e4"/><stop offset="0.4" stop-color="#a6bdd0"/><stop offset="0.62" stop-color="#bdd0df"/><stop offset="0.84" stop-color="#cbdbe7"/><stop offset="1" stop-color="#7e97ab"/></linearGradient><linearGradient id="cone" x1="0" x2="0" y1="0" y2="1"><stop offset="0" stop-color="#e2d2cc" stop-opacity="0.95"/><stop offset="1" stop-color="#d0dbe4" stop-opacity="0.35"/></linearGradient><linearGradient id="capg" x1="0" x2="0" y1="0" y2="1"><stop offset="0" stop-color="#cfdbe5"/><stop offset="1" stop-color="#a2b4c4"/></linearGradient></defs>
<path d="M453.7,523 Q456.3,519.2 458.9,523 L462.7,543 L464.5,572 L448.1,572 L449.9,543 Z" fill="url(#tube)" stroke="none" stroke-width="1" opacity="0.92"/>
<path d="M453.7,523 Q456.3,519.2 458.9,523 L462.7,543 L449.9,543 Z" fill="url(#cone)" stroke="none" stroke-width="1"/>
<ellipse cx="456.3" cy="523.8" rx="3.0" ry="3.0" fill="#c9a597" opacity="0.8"/>
<path d="M446.3,572 L466.3,572 L466.3,578 Q465.3,584.5 456.3,584.5 Q447.3,584.5 446.3,578 Z" fill="url(#capg)" stroke="none" stroke-width="1" opacity="0.95"/>
<line x1="449.90" y1="543.50" x2="462.70" y2="543.50" stroke="#eef2f5" stroke-width="0.9" stroke-dasharray="1.5,1.5"/>
<line x1="446.30" y1="575.00" x2="466.30" y2="575.00" stroke="#f2f5f7" stroke-width="0.8"/>
<line x1="446.80" y1="579.50" x2="465.80" y2="579.50" stroke="#e0e6ea" stroke-width="0.6"/>
<line x1="454.30" y1="546.00" x2="454.30" y2="570.00" stroke="#d6e0e8" stroke-width="0.7"/>
<line x1="459.30" y1="546.00" x2="459.30" y2="570.00" stroke="#d0dae2" stroke-width="0.6"/>
<path d="M477.6,523 Q480.2,519.2 482.8,523 L486.6,543 L488.4,572 L472.0,572 L473.8,543 Z" fill="url(#tube)" stroke="none" stroke-width="1" opacity="0.92"/>
<path d="M477.6,523 Q480.2,519.2 482.8,523 L486.6,543 L473.8,543 Z" fill="url(#cone)" stroke="none" stroke-width="1"/>
<ellipse cx="480.2" cy="523.8" rx="3.0" ry="3.0" fill="#e77a58" opacity="1"/>
<path d="M470.2,572 L490.2,572 L490.2,578 Q489.2,584.5 480.2,584.5 Q471.2,584.5 470.2,578 Z" fill="url(#capg)" stroke="none" stroke-width="1" opacity="0.95"/>
<line x1="473.80" y1="543.50" x2="486.60" y2="543.50" stroke="#eef2f5" stroke-width="0.9" stroke-dasharray="1.5,1.5"/>
<line x1="470.20" y1="575.00" x2="490.20" y2="575.00" stroke="#f2f5f7" stroke-width="0.8"/>
<line x1="470.70" y1="579.50" x2="489.70" y2="579.50" stroke="#e0e6ea" stroke-width="0.6"/>
<line x1="478.20" y1="546.00" x2="478.20" y2="570.00" stroke="#d6e0e8" stroke-width="0.7"/>
<line x1="483.20" y1="546.00" x2="483.20" y2="570.00" stroke="#d0dae2" stroke-width="0.6"/>
<path d="M499.4,523 Q502.0,519.2 504.6,523 L508.4,543 L510.2,572 L493.8,572 L495.6,543 Z" fill="url(#tube)" stroke="none" stroke-width="1" opacity="0.92"/>
<path d="M499.4,523 Q502.0,519.2 504.6,523 L508.4,543 L495.6,543 Z" fill="url(#cone)" stroke="none" stroke-width="1"/>
<ellipse cx="502.0" cy="523.8" rx="3.0" ry="3.0" fill="#e8957a" opacity="0.9"/>
<path d="M492.0,572 L512.0,572 L512.0,578 Q511.0,584.5 502.0,584.5 Q493.0,584.5 492.0,578 Z" fill="url(#capg)" stroke="none" stroke-width="1" opacity="0.95"/>
<line x1="495.60" y1="543.50" x2="508.40" y2="543.50" stroke="#eef2f5" stroke-width="0.9" stroke-dasharray="1.5,1.5"/>
<line x1="492.00" y1="575.00" x2="512.00" y2="575.00" stroke="#f2f5f7" stroke-width="0.8"/>
<line x1="492.50" y1="579.50" x2="511.50" y2="579.50" stroke="#e0e6ea" stroke-width="0.6"/>
<line x1="500.00" y1="546.00" x2="500.00" y2="570.00" stroke="#d6e0e8" stroke-width="0.7"/>
<line x1="505.00" y1="546.00" x2="505.00" y2="570.00" stroke="#d0dae2" stroke-width="0.6"/>
<line x1="439.00" y1="576.30" x2="517.00" y2="576.30" stroke="#dfe6ea" stroke-width="1.1"/>
<text x="451.30" y="597.00" font-size="11" text-anchor="middle" fill="#f4f4f4" stroke="#f4f4f4" stroke-width="0.3" textLength="11.60" lengthAdjust="spacingAndGlyphs">p1</text>
<text x="479.00" y="597.00" font-size="11" text-anchor="middle" fill="#f4f4f4" stroke="#f4f4f4" stroke-width="0.3" textLength="12.00" lengthAdjust="spacingAndGlyphs">p2</text>
<text x="511.60" y="597.00" font-size="11" text-anchor="middle" fill="#f4f4f4" stroke="#f4f4f4" stroke-width="0.3" textLength="28.00" lengthAdjust="spacingAndGlyphs">mixed</text>
</svg></body></html>
